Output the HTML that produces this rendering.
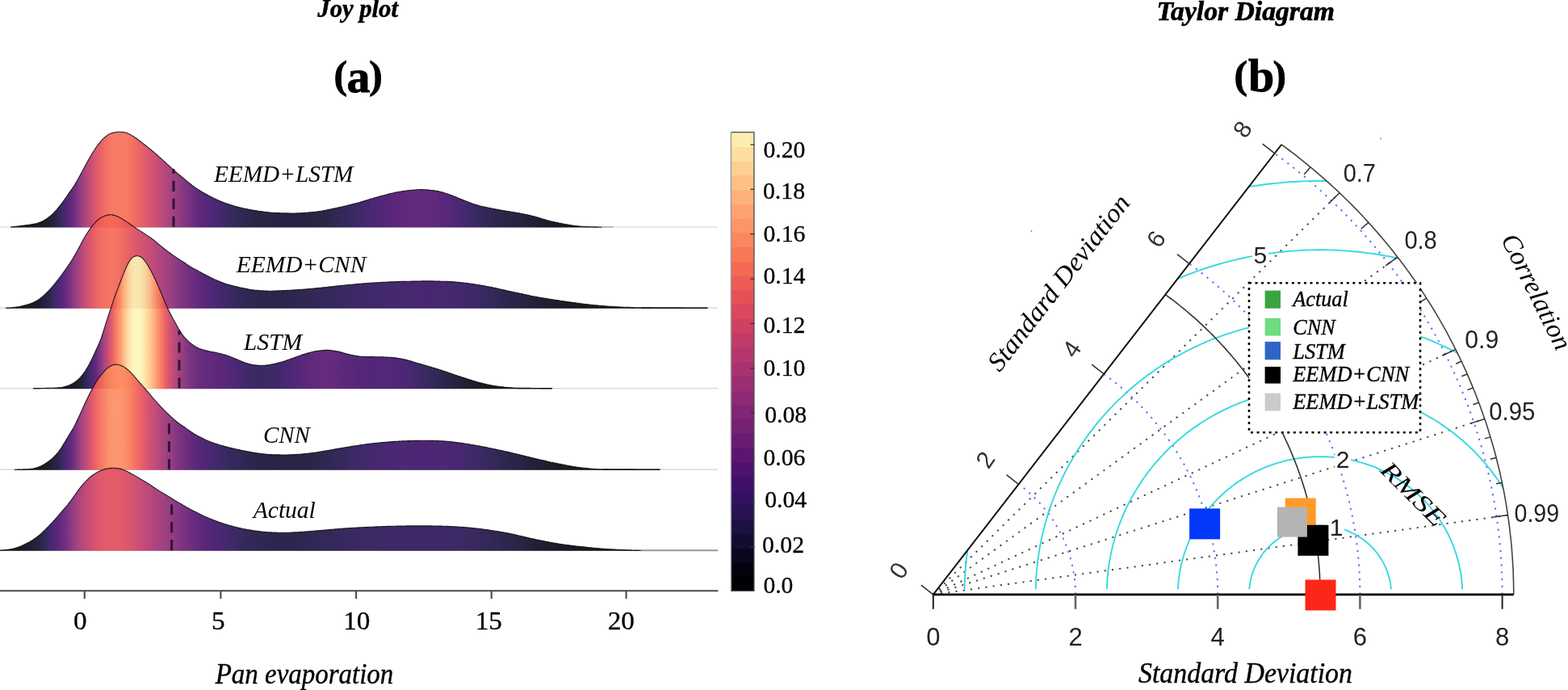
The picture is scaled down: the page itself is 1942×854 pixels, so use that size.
<!DOCTYPE html>
<html lang="en">
<head>
<meta charset="utf-8">
<title>Joy plot and Taylor Diagram</title>
<style>
html,body{margin:0;padding:0;background:#fff;}
body{width:1942px;height:854px;overflow:hidden;}
svg{display:block;}
</style>
</head>
<body>
<svg width="1942" height="854" viewBox="0 0 1942 854">
<defs>
<linearGradient id="g1" gradientUnits="userSpaceOnUse" x1="13.2" y1="0" x2="745.2" y2="0"><stop offset="0.0000" stop-color="#000004"/><stop offset="0.0041" stop-color="#000004"/><stop offset="0.0082" stop-color="#000004"/><stop offset="0.0123" stop-color="#000004"/><stop offset="0.0164" stop-color="#000004"/><stop offset="0.0205" stop-color="#010005"/><stop offset="0.0246" stop-color="#010005"/><stop offset="0.0287" stop-color="#010005"/><stop offset="0.0328" stop-color="#010005"/><stop offset="0.0369" stop-color="#010106"/><stop offset="0.0410" stop-color="#010106"/><stop offset="0.0451" stop-color="#010108"/><stop offset="0.0492" stop-color="#02020b"/><stop offset="0.0533" stop-color="#02020d"/><stop offset="0.0574" stop-color="#040414"/><stop offset="0.0615" stop-color="#060518"/><stop offset="0.0656" stop-color="#090720"/><stop offset="0.0697" stop-color="#0c0926"/><stop offset="0.0738" stop-color="#110c2f"/><stop offset="0.0779" stop-color="#150e38"/><stop offset="0.0820" stop-color="#1d1146"/><stop offset="0.0861" stop-color="#251252"/><stop offset="0.0902" stop-color="#31115f"/><stop offset="0.0943" stop-color="#3d0f68"/><stop offset="0.0984" stop-color="#47106c"/><stop offset="0.1025" stop-color="#51126e"/><stop offset="0.1066" stop-color="#5d1771"/><stop offset="0.1107" stop-color="#6a1c73"/><stop offset="0.1148" stop-color="#792274"/><stop offset="0.1189" stop-color="#892873"/><stop offset="0.1230" stop-color="#992d72"/><stop offset="0.1270" stop-color="#a6316f"/><stop offset="0.1311" stop-color="#b3366c"/><stop offset="0.1352" stop-color="#bf3a69"/><stop offset="0.1393" stop-color="#cc3f63"/><stop offset="0.1434" stop-color="#d6455e"/><stop offset="0.1475" stop-color="#df4a5a"/><stop offset="0.1516" stop-color="#e55056"/><stop offset="0.1557" stop-color="#eb5754"/><stop offset="0.1598" stop-color="#ef5d53"/><stop offset="0.1639" stop-color="#f26253"/><stop offset="0.1680" stop-color="#f46753"/><stop offset="0.1721" stop-color="#f56b54"/><stop offset="0.1762" stop-color="#f66c54"/><stop offset="0.1803" stop-color="#f66c54"/><stop offset="0.1844" stop-color="#f66c54"/><stop offset="0.1885" stop-color="#f66c54"/><stop offset="0.1926" stop-color="#f66c54"/><stop offset="0.1967" stop-color="#f56b54"/><stop offset="0.2008" stop-color="#f46753"/><stop offset="0.2049" stop-color="#f26253"/><stop offset="0.2090" stop-color="#ef5d53"/><stop offset="0.2131" stop-color="#ec5854"/><stop offset="0.2172" stop-color="#e95455"/><stop offset="0.2213" stop-color="#e55056"/><stop offset="0.2254" stop-color="#e04c59"/><stop offset="0.2295" stop-color="#dc485b"/><stop offset="0.2336" stop-color="#d6455e"/><stop offset="0.2377" stop-color="#d24261"/><stop offset="0.2418" stop-color="#cc3f63"/><stop offset="0.2459" stop-color="#c53c66"/><stop offset="0.2500" stop-color="#bf3a69"/><stop offset="0.2541" stop-color="#b8376b"/><stop offset="0.2582" stop-color="#b2356d"/><stop offset="0.2623" stop-color="#ab336e"/><stop offset="0.2664" stop-color="#a53170"/><stop offset="0.2705" stop-color="#9e2f71"/><stop offset="0.2746" stop-color="#982d72"/><stop offset="0.2787" stop-color="#932b72"/><stop offset="0.2828" stop-color="#8b2973"/><stop offset="0.2869" stop-color="#832673"/><stop offset="0.2910" stop-color="#7b2374"/><stop offset="0.2951" stop-color="#752173"/><stop offset="0.2992" stop-color="#6d1d73"/><stop offset="0.3033" stop-color="#671b72"/><stop offset="0.3074" stop-color="#601872"/><stop offset="0.3115" stop-color="#5a1670"/><stop offset="0.3156" stop-color="#54136f"/><stop offset="0.3197" stop-color="#4f126d"/><stop offset="0.3238" stop-color="#4c116d"/><stop offset="0.3279" stop-color="#47106c"/><stop offset="0.3320" stop-color="#440f6b"/><stop offset="0.3361" stop-color="#400f6a"/><stop offset="0.3402" stop-color="#3b0f67"/><stop offset="0.3443" stop-color="#381064"/><stop offset="0.3484" stop-color="#341062"/><stop offset="0.3525" stop-color="#31115f"/><stop offset="0.3566" stop-color="#2d115c"/><stop offset="0.3607" stop-color="#2a1158"/><stop offset="0.3648" stop-color="#271254"/><stop offset="0.3689" stop-color="#241250"/><stop offset="0.3730" stop-color="#22114e"/><stop offset="0.3770" stop-color="#20114a"/><stop offset="0.3811" stop-color="#1e1148"/><stop offset="0.3852" stop-color="#1c1044"/><stop offset="0.3893" stop-color="#1a1042"/><stop offset="0.3934" stop-color="#19103f"/><stop offset="0.3975" stop-color="#180f3d"/><stop offset="0.4016" stop-color="#160f3b"/><stop offset="0.4057" stop-color="#150e38"/><stop offset="0.4098" stop-color="#140e36"/><stop offset="0.4139" stop-color="#130d34"/><stop offset="0.4180" stop-color="#130d34"/><stop offset="0.4221" stop-color="#120d31"/><stop offset="0.4262" stop-color="#120d31"/><stop offset="0.4303" stop-color="#120d31"/><stop offset="0.4344" stop-color="#110c2f"/><stop offset="0.4385" stop-color="#110c2f"/><stop offset="0.4426" stop-color="#110c2f"/><stop offset="0.4467" stop-color="#100b2d"/><stop offset="0.4508" stop-color="#100b2d"/><stop offset="0.4549" stop-color="#100b2d"/><stop offset="0.4590" stop-color="#100b2d"/><stop offset="0.4631" stop-color="#100b2d"/><stop offset="0.4672" stop-color="#100b2d"/><stop offset="0.4713" stop-color="#100b2d"/><stop offset="0.4754" stop-color="#100b2d"/><stop offset="0.4795" stop-color="#100b2d"/><stop offset="0.4836" stop-color="#100b2d"/><stop offset="0.4877" stop-color="#100b2d"/><stop offset="0.4918" stop-color="#100b2d"/><stop offset="0.4959" stop-color="#100b2d"/><stop offset="0.5000" stop-color="#110c2f"/><stop offset="0.5041" stop-color="#110c2f"/><stop offset="0.5082" stop-color="#110c2f"/><stop offset="0.5123" stop-color="#110c2f"/><stop offset="0.5164" stop-color="#120d31"/><stop offset="0.5205" stop-color="#120d31"/><stop offset="0.5246" stop-color="#130d34"/><stop offset="0.5287" stop-color="#130d34"/><stop offset="0.5328" stop-color="#140e36"/><stop offset="0.5369" stop-color="#150e38"/><stop offset="0.5410" stop-color="#160f3b"/><stop offset="0.5451" stop-color="#180f3d"/><stop offset="0.5492" stop-color="#19103f"/><stop offset="0.5533" stop-color="#1a1042"/><stop offset="0.5574" stop-color="#1c1044"/><stop offset="0.5615" stop-color="#1d1146"/><stop offset="0.5656" stop-color="#1e1148"/><stop offset="0.5697" stop-color="#21114c"/><stop offset="0.5738" stop-color="#22114e"/><stop offset="0.5779" stop-color="#241250"/><stop offset="0.5820" stop-color="#251252"/><stop offset="0.5861" stop-color="#291156"/><stop offset="0.5902" stop-color="#2a1158"/><stop offset="0.5943" stop-color="#2d115c"/><stop offset="0.5984" stop-color="#2f115d"/><stop offset="0.6025" stop-color="#331061"/><stop offset="0.6066" stop-color="#341062"/><stop offset="0.6107" stop-color="#381065"/><stop offset="0.6148" stop-color="#390f66"/><stop offset="0.6189" stop-color="#3b0f67"/><stop offset="0.6230" stop-color="#3d0f68"/><stop offset="0.6270" stop-color="#3f0f69"/><stop offset="0.6311" stop-color="#420f6a"/><stop offset="0.6352" stop-color="#440f6b"/><stop offset="0.6393" stop-color="#45106c"/><stop offset="0.6434" stop-color="#47106c"/><stop offset="0.6475" stop-color="#49106c"/><stop offset="0.6516" stop-color="#4a106d"/><stop offset="0.6557" stop-color="#4c116d"/><stop offset="0.6598" stop-color="#4c116d"/><stop offset="0.6639" stop-color="#4e116d"/><stop offset="0.6680" stop-color="#4f126e"/><stop offset="0.6721" stop-color="#4f126d"/><stop offset="0.6762" stop-color="#51126e"/><stop offset="0.6803" stop-color="#51126e"/><stop offset="0.6844" stop-color="#51126e"/><stop offset="0.6885" stop-color="#52136e"/><stop offset="0.6926" stop-color="#52136e"/><stop offset="0.6967" stop-color="#52136e"/><stop offset="0.7008" stop-color="#52136e"/><stop offset="0.7049" stop-color="#51126e"/><stop offset="0.7090" stop-color="#51126e"/><stop offset="0.7131" stop-color="#4f126d"/><stop offset="0.7172" stop-color="#4f126d"/><stop offset="0.7213" stop-color="#4e116d"/><stop offset="0.7254" stop-color="#4c116d"/><stop offset="0.7295" stop-color="#4a106d"/><stop offset="0.7336" stop-color="#49106c"/><stop offset="0.7377" stop-color="#47106c"/><stop offset="0.7418" stop-color="#440f6b"/><stop offset="0.7459" stop-color="#420f6a"/><stop offset="0.7500" stop-color="#3f0f69"/><stop offset="0.7541" stop-color="#3b0f67"/><stop offset="0.7582" stop-color="#381064"/><stop offset="0.7623" stop-color="#361063"/><stop offset="0.7664" stop-color="#331061"/><stop offset="0.7705" stop-color="#2f115d"/><stop offset="0.7746" stop-color="#2c115a"/><stop offset="0.7787" stop-color="#291156"/><stop offset="0.7828" stop-color="#251252"/><stop offset="0.7869" stop-color="#22114e"/><stop offset="0.7910" stop-color="#21114c"/><stop offset="0.7951" stop-color="#20114a"/><stop offset="0.7992" stop-color="#1d1146"/><stop offset="0.8033" stop-color="#1c1044"/><stop offset="0.8074" stop-color="#1a1042"/><stop offset="0.8115" stop-color="#19103f"/><stop offset="0.8156" stop-color="#180f3d"/><stop offset="0.8197" stop-color="#160f3b"/><stop offset="0.8238" stop-color="#150e38"/><stop offset="0.8279" stop-color="#140e36"/><stop offset="0.8320" stop-color="#140e36"/><stop offset="0.8361" stop-color="#130d34"/><stop offset="0.8402" stop-color="#130d34"/><stop offset="0.8443" stop-color="#120d31"/><stop offset="0.8484" stop-color="#120d31"/><stop offset="0.8525" stop-color="#110c2f"/><stop offset="0.8566" stop-color="#100b2d"/><stop offset="0.8607" stop-color="#100b2d"/><stop offset="0.8648" stop-color="#0e0b2b"/><stop offset="0.8689" stop-color="#0d0a29"/><stop offset="0.8730" stop-color="#0c0926"/><stop offset="0.8770" stop-color="#0b0924"/><stop offset="0.8811" stop-color="#0a0822"/><stop offset="0.8852" stop-color="#090720"/><stop offset="0.8893" stop-color="#08071e"/><stop offset="0.8934" stop-color="#07061c"/><stop offset="0.8975" stop-color="#060518"/><stop offset="0.9016" stop-color="#050416"/><stop offset="0.9057" stop-color="#040414"/><stop offset="0.9098" stop-color="#030312"/><stop offset="0.9139" stop-color="#03030f"/><stop offset="0.9180" stop-color="#02020d"/><stop offset="0.9221" stop-color="#02020b"/><stop offset="0.9262" stop-color="#020109"/><stop offset="0.9303" stop-color="#010108"/><stop offset="0.9344" stop-color="#010106"/><stop offset="0.9385" stop-color="#010106"/><stop offset="0.9426" stop-color="#010005"/><stop offset="0.9467" stop-color="#010005"/><stop offset="0.9508" stop-color="#010005"/><stop offset="0.9549" stop-color="#000004"/><stop offset="0.9590" stop-color="#000004"/><stop offset="0.9631" stop-color="#000004"/><stop offset="0.9672" stop-color="#000004"/><stop offset="0.9713" stop-color="#000004"/><stop offset="0.9754" stop-color="#000004"/><stop offset="0.9795" stop-color="#000004"/><stop offset="0.9836" stop-color="#000004"/><stop offset="0.9877" stop-color="#000004"/><stop offset="0.9918" stop-color="#000004"/><stop offset="0.9959" stop-color="#000004"/><stop offset="1.0000" stop-color="#000004"/></linearGradient>
<linearGradient id="g2" gradientUnits="userSpaceOnUse" x1="7.0" y1="0" x2="876.0" y2="0"><stop offset="0.0000" stop-color="#000004"/><stop offset="0.0035" stop-color="#000004"/><stop offset="0.0069" stop-color="#000004"/><stop offset="0.0104" stop-color="#000004"/><stop offset="0.0138" stop-color="#000004"/><stop offset="0.0173" stop-color="#000004"/><stop offset="0.0207" stop-color="#010005"/><stop offset="0.0242" stop-color="#010005"/><stop offset="0.0276" stop-color="#010106"/><stop offset="0.0311" stop-color="#010106"/><stop offset="0.0345" stop-color="#020109"/><stop offset="0.0380" stop-color="#02020b"/><stop offset="0.0414" stop-color="#03030f"/><stop offset="0.0449" stop-color="#050416"/><stop offset="0.0483" stop-color="#06051a"/><stop offset="0.0518" stop-color="#0a0822"/><stop offset="0.0552" stop-color="#0e0b2b"/><stop offset="0.0587" stop-color="#120d31"/><stop offset="0.0621" stop-color="#160f3b"/><stop offset="0.0656" stop-color="#1d1146"/><stop offset="0.0690" stop-color="#251252"/><stop offset="0.0725" stop-color="#31115f"/><stop offset="0.0759" stop-color="#3b0f67"/><stop offset="0.0794" stop-color="#440f6b"/><stop offset="0.0829" stop-color="#4e116d"/><stop offset="0.0863" stop-color="#591570"/><stop offset="0.0898" stop-color="#651a72"/><stop offset="0.0932" stop-color="#721f73"/><stop offset="0.0967" stop-color="#802574"/><stop offset="0.1001" stop-color="#902a73"/><stop offset="0.1036" stop-color="#9c2e71"/><stop offset="0.1070" stop-color="#aa336f"/><stop offset="0.1105" stop-color="#b8376b"/><stop offset="0.1139" stop-color="#c43c67"/><stop offset="0.1174" stop-color="#cf4062"/><stop offset="0.1208" stop-color="#d8455e"/><stop offset="0.1243" stop-color="#e04c59"/><stop offset="0.1277" stop-color="#e75256"/><stop offset="0.1312" stop-color="#eb5754"/><stop offset="0.1346" stop-color="#ef5d53"/><stop offset="0.1381" stop-color="#f16053"/><stop offset="0.1415" stop-color="#f26453"/><stop offset="0.1450" stop-color="#f36553"/><stop offset="0.1484" stop-color="#f46753"/><stop offset="0.1519" stop-color="#f46753"/><stop offset="0.1554" stop-color="#f36553"/><stop offset="0.1588" stop-color="#f26253"/><stop offset="0.1623" stop-color="#f05f53"/><stop offset="0.1657" stop-color="#ee5b53"/><stop offset="0.1692" stop-color="#eb5754"/><stop offset="0.1726" stop-color="#e85355"/><stop offset="0.1761" stop-color="#e44f56"/><stop offset="0.1795" stop-color="#e04c59"/><stop offset="0.1830" stop-color="#dc485b"/><stop offset="0.1864" stop-color="#d8455e"/><stop offset="0.1899" stop-color="#d34360"/><stop offset="0.1933" stop-color="#cf4062"/><stop offset="0.1968" stop-color="#cc3f63"/><stop offset="0.2002" stop-color="#c73d65"/><stop offset="0.2037" stop-color="#c23b67"/><stop offset="0.2071" stop-color="#bd3969"/><stop offset="0.2106" stop-color="#b8376b"/><stop offset="0.2140" stop-color="#b2356d"/><stop offset="0.2175" stop-color="#ab336e"/><stop offset="0.2209" stop-color="#a6316f"/><stop offset="0.2244" stop-color="#a02f71"/><stop offset="0.2278" stop-color="#9b2e71"/><stop offset="0.2313" stop-color="#942c72"/><stop offset="0.2348" stop-color="#902a73"/><stop offset="0.2382" stop-color="#892873"/><stop offset="0.2417" stop-color="#832673"/><stop offset="0.2451" stop-color="#7c2374"/><stop offset="0.2486" stop-color="#762173"/><stop offset="0.2520" stop-color="#721f73"/><stop offset="0.2555" stop-color="#6b1d73"/><stop offset="0.2589" stop-color="#651a72"/><stop offset="0.2624" stop-color="#601872"/><stop offset="0.2658" stop-color="#5c1671"/><stop offset="0.2693" stop-color="#571570"/><stop offset="0.2727" stop-color="#52136e"/><stop offset="0.2762" stop-color="#4f126e"/><stop offset="0.2796" stop-color="#4a106d"/><stop offset="0.2831" stop-color="#47106c"/><stop offset="0.2865" stop-color="#440f6b"/><stop offset="0.2900" stop-color="#400f6a"/><stop offset="0.2934" stop-color="#3d0f68"/><stop offset="0.2969" stop-color="#390f66"/><stop offset="0.3003" stop-color="#361063"/><stop offset="0.3038" stop-color="#331061"/><stop offset="0.3072" stop-color="#2f115d"/><stop offset="0.3107" stop-color="#2c115a"/><stop offset="0.3142" stop-color="#291156"/><stop offset="0.3176" stop-color="#251252"/><stop offset="0.3211" stop-color="#241250"/><stop offset="0.3245" stop-color="#22114e"/><stop offset="0.3280" stop-color="#20114a"/><stop offset="0.3314" stop-color="#1e1148"/><stop offset="0.3349" stop-color="#1d1146"/><stop offset="0.3383" stop-color="#1c1044"/><stop offset="0.3418" stop-color="#1a1042"/><stop offset="0.3452" stop-color="#19103f"/><stop offset="0.3487" stop-color="#180f3d"/><stop offset="0.3521" stop-color="#160f3b"/><stop offset="0.3556" stop-color="#160f3b"/><stop offset="0.3590" stop-color="#150e38"/><stop offset="0.3625" stop-color="#150e38"/><stop offset="0.3659" stop-color="#150e38"/><stop offset="0.3694" stop-color="#140e36"/><stop offset="0.3728" stop-color="#140e36"/><stop offset="0.3763" stop-color="#140e36"/><stop offset="0.3797" stop-color="#140e36"/><stop offset="0.3832" stop-color="#140e36"/><stop offset="0.3867" stop-color="#150e38"/><stop offset="0.3901" stop-color="#150e38"/><stop offset="0.3936" stop-color="#150e38"/><stop offset="0.3970" stop-color="#150e38"/><stop offset="0.4005" stop-color="#150e38"/><stop offset="0.4039" stop-color="#160f3b"/><stop offset="0.4074" stop-color="#160f3b"/><stop offset="0.4108" stop-color="#160f3b"/><stop offset="0.4143" stop-color="#180f3d"/><stop offset="0.4177" stop-color="#180f3d"/><stop offset="0.4212" stop-color="#180f3d"/><stop offset="0.4246" stop-color="#19103f"/><stop offset="0.4281" stop-color="#19103f"/><stop offset="0.4315" stop-color="#19103f"/><stop offset="0.4350" stop-color="#1a1042"/><stop offset="0.4384" stop-color="#1a1042"/><stop offset="0.4419" stop-color="#1c1044"/><stop offset="0.4453" stop-color="#1c1044"/><stop offset="0.4488" stop-color="#1d1146"/><stop offset="0.4522" stop-color="#1d1146"/><stop offset="0.4557" stop-color="#1e1148"/><stop offset="0.4591" stop-color="#1e1148"/><stop offset="0.4626" stop-color="#20114a"/><stop offset="0.4661" stop-color="#21114c"/><stop offset="0.4695" stop-color="#21114c"/><stop offset="0.4730" stop-color="#22114e"/><stop offset="0.4764" stop-color="#22114e"/><stop offset="0.4799" stop-color="#241250"/><stop offset="0.4833" stop-color="#241250"/><stop offset="0.4868" stop-color="#251252"/><stop offset="0.4902" stop-color="#251252"/><stop offset="0.4937" stop-color="#271254"/><stop offset="0.4971" stop-color="#271254"/><stop offset="0.5006" stop-color="#291156"/><stop offset="0.5040" stop-color="#291156"/><stop offset="0.5075" stop-color="#291156"/><stop offset="0.5109" stop-color="#2a1158"/><stop offset="0.5144" stop-color="#2a1158"/><stop offset="0.5178" stop-color="#2c115a"/><stop offset="0.5213" stop-color="#2c115a"/><stop offset="0.5247" stop-color="#2c1159"/><stop offset="0.5282" stop-color="#2d115c"/><stop offset="0.5316" stop-color="#2d115b"/><stop offset="0.5351" stop-color="#2d115b"/><stop offset="0.5386" stop-color="#2d115b"/><stop offset="0.5420" stop-color="#2f115d"/><stop offset="0.5455" stop-color="#2f115d"/><stop offset="0.5489" stop-color="#2f115d"/><stop offset="0.5524" stop-color="#2f115d"/><stop offset="0.5558" stop-color="#31115f"/><stop offset="0.5593" stop-color="#31115f"/><stop offset="0.5627" stop-color="#31115f"/><stop offset="0.5662" stop-color="#31115f"/><stop offset="0.5696" stop-color="#31115f"/><stop offset="0.5731" stop-color="#31115f"/><stop offset="0.5765" stop-color="#31115f"/><stop offset="0.5800" stop-color="#31115f"/><stop offset="0.5834" stop-color="#331061"/><stop offset="0.5869" stop-color="#331061"/><stop offset="0.5903" stop-color="#331061"/><stop offset="0.5938" stop-color="#331061"/><stop offset="0.5972" stop-color="#331060"/><stop offset="0.6007" stop-color="#331060"/><stop offset="0.6041" stop-color="#331060"/><stop offset="0.6076" stop-color="#331060"/><stop offset="0.6110" stop-color="#331061"/><stop offset="0.6145" stop-color="#331061"/><stop offset="0.6180" stop-color="#31115f"/><stop offset="0.6214" stop-color="#31115f"/><stop offset="0.6249" stop-color="#31115f"/><stop offset="0.6283" stop-color="#31115f"/><stop offset="0.6318" stop-color="#31115f"/><stop offset="0.6352" stop-color="#31115f"/><stop offset="0.6387" stop-color="#2f115d"/><stop offset="0.6421" stop-color="#2f115d"/><stop offset="0.6456" stop-color="#2d115b"/><stop offset="0.6490" stop-color="#2d115b"/><stop offset="0.6525" stop-color="#2c115a"/><stop offset="0.6559" stop-color="#2c115a"/><stop offset="0.6594" stop-color="#2a1158"/><stop offset="0.6628" stop-color="#291156"/><stop offset="0.6663" stop-color="#291156"/><stop offset="0.6697" stop-color="#271254"/><stop offset="0.6732" stop-color="#251252"/><stop offset="0.6766" stop-color="#241250"/><stop offset="0.6801" stop-color="#22114e"/><stop offset="0.6835" stop-color="#21114c"/><stop offset="0.6870" stop-color="#20114a"/><stop offset="0.6904" stop-color="#1e1148"/><stop offset="0.6939" stop-color="#1d1146"/><stop offset="0.6974" stop-color="#1c1044"/><stop offset="0.7008" stop-color="#1a1042"/><stop offset="0.7043" stop-color="#19103f"/><stop offset="0.7077" stop-color="#180f3d"/><stop offset="0.7112" stop-color="#160f3b"/><stop offset="0.7146" stop-color="#150e38"/><stop offset="0.7181" stop-color="#140e36"/><stop offset="0.7215" stop-color="#130d34"/><stop offset="0.7250" stop-color="#120d31"/><stop offset="0.7284" stop-color="#120d31"/><stop offset="0.7319" stop-color="#110c2f"/><stop offset="0.7353" stop-color="#100b2d"/><stop offset="0.7388" stop-color="#100b2d"/><stop offset="0.7422" stop-color="#0e0b2b"/><stop offset="0.7457" stop-color="#0d0a29"/><stop offset="0.7491" stop-color="#0c0926"/><stop offset="0.7526" stop-color="#0b0924"/><stop offset="0.7560" stop-color="#0a0822"/><stop offset="0.7595" stop-color="#090720"/><stop offset="0.7629" stop-color="#090720"/><stop offset="0.7664" stop-color="#08071e"/><stop offset="0.7699" stop-color="#07061c"/><stop offset="0.7733" stop-color="#07061c"/><stop offset="0.7768" stop-color="#06051a"/><stop offset="0.7802" stop-color="#060518"/><stop offset="0.7837" stop-color="#060518"/><stop offset="0.7871" stop-color="#050416"/><stop offset="0.7906" stop-color="#040414"/><stop offset="0.7940" stop-color="#040414"/><stop offset="0.7975" stop-color="#030312"/><stop offset="0.8009" stop-color="#03030f"/><stop offset="0.8044" stop-color="#03030f"/><stop offset="0.8078" stop-color="#02020d"/><stop offset="0.8113" stop-color="#02020d"/><stop offset="0.8147" stop-color="#02020b"/><stop offset="0.8182" stop-color="#020109"/><stop offset="0.8216" stop-color="#020109"/><stop offset="0.8251" stop-color="#010108"/><stop offset="0.8285" stop-color="#010108"/><stop offset="0.8320" stop-color="#010106"/><stop offset="0.8354" stop-color="#010106"/><stop offset="0.8389" stop-color="#010106"/><stop offset="0.8423" stop-color="#010106"/><stop offset="0.8458" stop-color="#010005"/><stop offset="0.8493" stop-color="#010005"/><stop offset="0.8527" stop-color="#010005"/><stop offset="0.8562" stop-color="#010005"/><stop offset="0.8596" stop-color="#010005"/><stop offset="0.8631" stop-color="#010005"/><stop offset="0.8665" stop-color="#010005"/><stop offset="0.8700" stop-color="#000004"/><stop offset="0.8734" stop-color="#000004"/><stop offset="0.8769" stop-color="#000004"/><stop offset="0.8803" stop-color="#000004"/><stop offset="0.8838" stop-color="#000004"/><stop offset="0.8872" stop-color="#000004"/><stop offset="0.8907" stop-color="#000004"/><stop offset="0.8941" stop-color="#000004"/><stop offset="0.8976" stop-color="#000004"/><stop offset="0.9010" stop-color="#000004"/><stop offset="0.9045" stop-color="#000004"/><stop offset="0.9079" stop-color="#000004"/><stop offset="0.9114" stop-color="#000004"/><stop offset="0.9148" stop-color="#000004"/><stop offset="0.9183" stop-color="#000004"/><stop offset="0.9217" stop-color="#000004"/><stop offset="0.9252" stop-color="#000004"/><stop offset="0.9287" stop-color="#000004"/><stop offset="0.9321" stop-color="#000004"/><stop offset="0.9356" stop-color="#000004"/><stop offset="0.9390" stop-color="#000004"/><stop offset="0.9425" stop-color="#000004"/><stop offset="0.9459" stop-color="#000004"/><stop offset="0.9494" stop-color="#000004"/><stop offset="0.9528" stop-color="#000004"/><stop offset="0.9563" stop-color="#000004"/><stop offset="0.9597" stop-color="#000004"/><stop offset="0.9632" stop-color="#000004"/><stop offset="0.9666" stop-color="#000004"/><stop offset="0.9701" stop-color="#000004"/><stop offset="0.9735" stop-color="#000004"/><stop offset="0.9770" stop-color="#000004"/><stop offset="0.9804" stop-color="#000004"/><stop offset="0.9839" stop-color="#000004"/><stop offset="0.9873" stop-color="#000004"/><stop offset="0.9908" stop-color="#000004"/><stop offset="0.9942" stop-color="#000004"/><stop offset="0.9977" stop-color="#000004"/><stop offset="1.0000" stop-color="#000004"/></linearGradient>
<linearGradient id="g3" gradientUnits="userSpaceOnUse" x1="41.0" y1="0" x2="684.0" y2="0"><stop offset="0.0000" stop-color="#000004"/><stop offset="0.0047" stop-color="#000004"/><stop offset="0.0093" stop-color="#000004"/><stop offset="0.0140" stop-color="#000004"/><stop offset="0.0187" stop-color="#000004"/><stop offset="0.0233" stop-color="#000004"/><stop offset="0.0280" stop-color="#000004"/><stop offset="0.0327" stop-color="#000004"/><stop offset="0.0373" stop-color="#000004"/><stop offset="0.0420" stop-color="#000004"/><stop offset="0.0467" stop-color="#000004"/><stop offset="0.0513" stop-color="#000004"/><stop offset="0.0560" stop-color="#000004"/><stop offset="0.0607" stop-color="#010005"/><stop offset="0.0653" stop-color="#010005"/><stop offset="0.0700" stop-color="#010106"/><stop offset="0.0747" stop-color="#020109"/><stop offset="0.0793" stop-color="#02020d"/><stop offset="0.0840" stop-color="#050416"/><stop offset="0.0886" stop-color="#08071e"/><stop offset="0.0933" stop-color="#0c0926"/><stop offset="0.0980" stop-color="#120d31"/><stop offset="0.1026" stop-color="#1a1042"/><stop offset="0.1073" stop-color="#251252"/><stop offset="0.1120" stop-color="#361063"/><stop offset="0.1166" stop-color="#45106c"/><stop offset="0.1213" stop-color="#54136f"/><stop offset="0.1260" stop-color="#671b72"/><stop offset="0.1306" stop-color="#7b2374"/><stop offset="0.1353" stop-color="#962c72"/><stop offset="0.1400" stop-color="#ad346e"/><stop offset="0.1446" stop-color="#c43c67"/><stop offset="0.1493" stop-color="#d8455e"/><stop offset="0.1540" stop-color="#e95455"/><stop offset="0.1586" stop-color="#f46953"/><stop offset="0.1633" stop-color="#fa7d59"/><stop offset="0.1680" stop-color="#fc9064"/><stop offset="0.1726" stop-color="#feaa74"/><stop offset="0.1773" stop-color="#fec185"/><stop offset="0.1820" stop-color="#fed597"/><stop offset="0.1866" stop-color="#fde5a7"/><stop offset="0.1913" stop-color="#fcf0b2"/><stop offset="0.1960" stop-color="#fcf6b8"/><stop offset="0.2006" stop-color="#fcf6b8"/><stop offset="0.2053" stop-color="#fcf4b6"/><stop offset="0.2100" stop-color="#fceeb0"/><stop offset="0.2146" stop-color="#fde5a7"/><stop offset="0.2193" stop-color="#fed799"/><stop offset="0.2240" stop-color="#fec88c"/><stop offset="0.2286" stop-color="#feb77e"/><stop offset="0.2333" stop-color="#fea571"/><stop offset="0.2379" stop-color="#fc9064"/><stop offset="0.2426" stop-color="#fa7d59"/><stop offset="0.2473" stop-color="#f66c54"/><stop offset="0.2519" stop-color="#ed5a54"/><stop offset="0.2566" stop-color="#e04c59"/><stop offset="0.2613" stop-color="#d34360"/><stop offset="0.2659" stop-color="#c73d65"/><stop offset="0.2706" stop-color="#b8376b"/><stop offset="0.2753" stop-color="#ab336e"/><stop offset="0.2799" stop-color="#9e2f71"/><stop offset="0.2846" stop-color="#932b72"/><stop offset="0.2893" stop-color="#882773"/><stop offset="0.2939" stop-color="#7c2374"/><stop offset="0.2986" stop-color="#732073"/><stop offset="0.3033" stop-color="#6b1d73"/><stop offset="0.3079" stop-color="#671b72"/><stop offset="0.3126" stop-color="#601872"/><stop offset="0.3173" stop-color="#5c1671"/><stop offset="0.3219" stop-color="#591570"/><stop offset="0.3266" stop-color="#56146f"/><stop offset="0.3313" stop-color="#54136f"/><stop offset="0.3359" stop-color="#52136e"/><stop offset="0.3406" stop-color="#51126e"/><stop offset="0.3453" stop-color="#4f126e"/><stop offset="0.3499" stop-color="#4e116d"/><stop offset="0.3546" stop-color="#4c116d"/><stop offset="0.3593" stop-color="#4a106d"/><stop offset="0.3639" stop-color="#49106c"/><stop offset="0.3686" stop-color="#47106c"/><stop offset="0.3733" stop-color="#45106c"/><stop offset="0.3779" stop-color="#420f6a"/><stop offset="0.3826" stop-color="#3f0f69"/><stop offset="0.3872" stop-color="#3d0f68"/><stop offset="0.3919" stop-color="#390f66"/><stop offset="0.3966" stop-color="#361063"/><stop offset="0.4012" stop-color="#331060"/><stop offset="0.4059" stop-color="#2f115d"/><stop offset="0.4106" stop-color="#2c1159"/><stop offset="0.4152" stop-color="#2a1158"/><stop offset="0.4199" stop-color="#271254"/><stop offset="0.4246" stop-color="#251252"/><stop offset="0.4292" stop-color="#251252"/><stop offset="0.4339" stop-color="#251252"/><stop offset="0.4386" stop-color="#241250"/><stop offset="0.4432" stop-color="#241250"/><stop offset="0.4479" stop-color="#251252"/><stop offset="0.4526" stop-color="#251252"/><stop offset="0.4572" stop-color="#271254"/><stop offset="0.4619" stop-color="#291156"/><stop offset="0.4666" stop-color="#2a1158"/><stop offset="0.4712" stop-color="#2c1159"/><stop offset="0.4759" stop-color="#2f115d"/><stop offset="0.4806" stop-color="#31115f"/><stop offset="0.4852" stop-color="#341062"/><stop offset="0.4899" stop-color="#381065"/><stop offset="0.4946" stop-color="#390f66"/><stop offset="0.4992" stop-color="#3b0f67"/><stop offset="0.5039" stop-color="#3f0f69"/><stop offset="0.5086" stop-color="#420f6a"/><stop offset="0.5132" stop-color="#440f6b"/><stop offset="0.5179" stop-color="#47106c"/><stop offset="0.5226" stop-color="#49106c"/><stop offset="0.5272" stop-color="#4a106d"/><stop offset="0.5319" stop-color="#4c116d"/><stop offset="0.5365" stop-color="#4f126e"/><stop offset="0.5412" stop-color="#51126e"/><stop offset="0.5459" stop-color="#51126e"/><stop offset="0.5505" stop-color="#52136e"/><stop offset="0.5552" stop-color="#54136f"/><stop offset="0.5599" stop-color="#54136f"/><stop offset="0.5645" stop-color="#54136f"/><stop offset="0.5692" stop-color="#54136f"/><stop offset="0.5739" stop-color="#54136f"/><stop offset="0.5785" stop-color="#52136e"/><stop offset="0.5832" stop-color="#51126e"/><stop offset="0.5879" stop-color="#4f126d"/><stop offset="0.5925" stop-color="#4e116d"/><stop offset="0.5972" stop-color="#4c116d"/><stop offset="0.6019" stop-color="#4a106d"/><stop offset="0.6065" stop-color="#49106c"/><stop offset="0.6112" stop-color="#47106c"/><stop offset="0.6159" stop-color="#45106c"/><stop offset="0.6205" stop-color="#440f6b"/><stop offset="0.6252" stop-color="#420f6a"/><stop offset="0.6299" stop-color="#420f6a"/><stop offset="0.6345" stop-color="#420f6a"/><stop offset="0.6392" stop-color="#400f69"/><stop offset="0.6439" stop-color="#400f69"/><stop offset="0.6485" stop-color="#400f69"/><stop offset="0.6532" stop-color="#400f69"/><stop offset="0.6579" stop-color="#400f6a"/><stop offset="0.6625" stop-color="#400f6a"/><stop offset="0.6672" stop-color="#400f6a"/><stop offset="0.6719" stop-color="#400f6a"/><stop offset="0.6765" stop-color="#400f6a"/><stop offset="0.6812" stop-color="#400f6a"/><stop offset="0.6858" stop-color="#3f0f69"/><stop offset="0.6905" stop-color="#3f0f69"/><stop offset="0.6952" stop-color="#3f0f69"/><stop offset="0.6998" stop-color="#3d0f68"/><stop offset="0.7045" stop-color="#3b0f67"/><stop offset="0.7092" stop-color="#3b0f67"/><stop offset="0.7138" stop-color="#390f66"/><stop offset="0.7185" stop-color="#381065"/><stop offset="0.7232" stop-color="#361063"/><stop offset="0.7278" stop-color="#331060"/><stop offset="0.7325" stop-color="#31115f"/><stop offset="0.7372" stop-color="#2d115b"/><stop offset="0.7418" stop-color="#2c115a"/><stop offset="0.7465" stop-color="#291156"/><stop offset="0.7512" stop-color="#271254"/><stop offset="0.7558" stop-color="#241250"/><stop offset="0.7605" stop-color="#22114e"/><stop offset="0.7652" stop-color="#20114a"/><stop offset="0.7698" stop-color="#1e1148"/><stop offset="0.7745" stop-color="#1c1044"/><stop offset="0.7792" stop-color="#1a1042"/><stop offset="0.7838" stop-color="#180f3d"/><stop offset="0.7885" stop-color="#160f3b"/><stop offset="0.7932" stop-color="#140e36"/><stop offset="0.7978" stop-color="#130d34"/><stop offset="0.8025" stop-color="#120d31"/><stop offset="0.8072" stop-color="#110c2f"/><stop offset="0.8118" stop-color="#0e0b2b"/><stop offset="0.8165" stop-color="#0d0a29"/><stop offset="0.8212" stop-color="#0c0926"/><stop offset="0.8258" stop-color="#0a0822"/><stop offset="0.8305" stop-color="#090720"/><stop offset="0.8351" stop-color="#07061c"/><stop offset="0.8398" stop-color="#06051a"/><stop offset="0.8445" stop-color="#060518"/><stop offset="0.8491" stop-color="#040414"/><stop offset="0.8538" stop-color="#030312"/><stop offset="0.8585" stop-color="#03030f"/><stop offset="0.8631" stop-color="#02020d"/><stop offset="0.8678" stop-color="#02020b"/><stop offset="0.8725" stop-color="#020109"/><stop offset="0.8771" stop-color="#010108"/><stop offset="0.8818" stop-color="#010106"/><stop offset="0.8865" stop-color="#010106"/><stop offset="0.8911" stop-color="#010005"/><stop offset="0.8958" stop-color="#010005"/><stop offset="0.9005" stop-color="#010005"/><stop offset="0.9051" stop-color="#010005"/><stop offset="0.9098" stop-color="#000004"/><stop offset="0.9145" stop-color="#000004"/><stop offset="0.9191" stop-color="#000004"/><stop offset="0.9238" stop-color="#000004"/><stop offset="0.9285" stop-color="#000004"/><stop offset="0.9331" stop-color="#000004"/><stop offset="0.9378" stop-color="#000004"/><stop offset="0.9425" stop-color="#000004"/><stop offset="0.9471" stop-color="#000004"/><stop offset="0.9518" stop-color="#000004"/><stop offset="0.9565" stop-color="#000004"/><stop offset="0.9611" stop-color="#000004"/><stop offset="0.9658" stop-color="#000004"/><stop offset="0.9705" stop-color="#000004"/><stop offset="0.9751" stop-color="#000004"/><stop offset="0.9798" stop-color="#000004"/><stop offset="0.9844" stop-color="#000004"/><stop offset="0.9891" stop-color="#000004"/><stop offset="0.9938" stop-color="#000004"/><stop offset="0.9984" stop-color="#000004"/><stop offset="1.0000" stop-color="#000004"/></linearGradient>
<linearGradient id="g4" gradientUnits="userSpaceOnUse" x1="17.9" y1="0" x2="816.9" y2="0"><stop offset="0.0000" stop-color="#000004"/><stop offset="0.0038" stop-color="#000004"/><stop offset="0.0075" stop-color="#000004"/><stop offset="0.0113" stop-color="#000004"/><stop offset="0.0150" stop-color="#000004"/><stop offset="0.0188" stop-color="#000004"/><stop offset="0.0225" stop-color="#000004"/><stop offset="0.0263" stop-color="#000004"/><stop offset="0.0300" stop-color="#000004"/><stop offset="0.0338" stop-color="#010005"/><stop offset="0.0375" stop-color="#010106"/><stop offset="0.0413" stop-color="#010108"/><stop offset="0.0451" stop-color="#02020b"/><stop offset="0.0488" stop-color="#030312"/><stop offset="0.0526" stop-color="#060518"/><stop offset="0.0563" stop-color="#08071e"/><stop offset="0.0601" stop-color="#0c0926"/><stop offset="0.0638" stop-color="#110c2f"/><stop offset="0.0676" stop-color="#150e38"/><stop offset="0.0713" stop-color="#1e1148"/><stop offset="0.0751" stop-color="#291156"/><stop offset="0.0788" stop-color="#361063"/><stop offset="0.0826" stop-color="#440f6b"/><stop offset="0.0864" stop-color="#4f126e"/><stop offset="0.0901" stop-color="#5c1671"/><stop offset="0.0939" stop-color="#6a1c73"/><stop offset="0.0976" stop-color="#7c2374"/><stop offset="0.1014" stop-color="#902a73"/><stop offset="0.1051" stop-color="#a02f71"/><stop offset="0.1089" stop-color="#b0356d"/><stop offset="0.1126" stop-color="#bf3a69"/><stop offset="0.1164" stop-color="#cd4063"/><stop offset="0.1202" stop-color="#d9465d"/><stop offset="0.1239" stop-color="#e55056"/><stop offset="0.1277" stop-color="#ed5a54"/><stop offset="0.1314" stop-color="#f26453"/><stop offset="0.1352" stop-color="#f66c54"/><stop offset="0.1389" stop-color="#f87657"/><stop offset="0.1427" stop-color="#fa7f5a"/><stop offset="0.1464" stop-color="#fb855d"/><stop offset="0.1502" stop-color="#fc895f"/><stop offset="0.1539" stop-color="#fc8c61"/><stop offset="0.1577" stop-color="#fc8c61"/><stop offset="0.1615" stop-color="#fc8c61"/><stop offset="0.1652" stop-color="#fc8a60"/><stop offset="0.1690" stop-color="#fb875e"/><stop offset="0.1727" stop-color="#fa815b"/><stop offset="0.1765" stop-color="#f97b58"/><stop offset="0.1802" stop-color="#f87456"/><stop offset="0.1840" stop-color="#f56b54"/><stop offset="0.1877" stop-color="#f26253"/><stop offset="0.1915" stop-color="#ed5a54"/><stop offset="0.1952" stop-color="#e85355"/><stop offset="0.1990" stop-color="#e24d58"/><stop offset="0.2028" stop-color="#db475c"/><stop offset="0.2065" stop-color="#d34360"/><stop offset="0.2103" stop-color="#cc3f63"/><stop offset="0.2140" stop-color="#c43c67"/><stop offset="0.2178" stop-color="#bc396a"/><stop offset="0.2215" stop-color="#b3366c"/><stop offset="0.2253" stop-color="#ab336e"/><stop offset="0.2290" stop-color="#a33070"/><stop offset="0.2328" stop-color="#9c2e71"/><stop offset="0.2365" stop-color="#942c72"/><stop offset="0.2403" stop-color="#8e2a73"/><stop offset="0.2441" stop-color="#862773"/><stop offset="0.2478" stop-color="#7c2374"/><stop offset="0.2516" stop-color="#762173"/><stop offset="0.2553" stop-color="#6e1e73"/><stop offset="0.2591" stop-color="#6a1c73"/><stop offset="0.2628" stop-color="#641a72"/><stop offset="0.2666" stop-color="#5d1771"/><stop offset="0.2703" stop-color="#591570"/><stop offset="0.2741" stop-color="#52136e"/><stop offset="0.2778" stop-color="#4e116d"/><stop offset="0.2816" stop-color="#4a106d"/><stop offset="0.2854" stop-color="#45106b"/><stop offset="0.2891" stop-color="#420f6a"/><stop offset="0.2929" stop-color="#3f0f69"/><stop offset="0.2966" stop-color="#3b0f67"/><stop offset="0.3004" stop-color="#381065"/><stop offset="0.3041" stop-color="#341062"/><stop offset="0.3079" stop-color="#31115f"/><stop offset="0.3116" stop-color="#2f115d"/><stop offset="0.3154" stop-color="#2c115a"/><stop offset="0.3191" stop-color="#2a1158"/><stop offset="0.3229" stop-color="#271254"/><stop offset="0.3267" stop-color="#251252"/><stop offset="0.3304" stop-color="#22114e"/><stop offset="0.3342" stop-color="#21114c"/><stop offset="0.3379" stop-color="#20114a"/><stop offset="0.3417" stop-color="#1e1148"/><stop offset="0.3454" stop-color="#1d1146"/><stop offset="0.3492" stop-color="#1c1044"/><stop offset="0.3529" stop-color="#1a1042"/><stop offset="0.3567" stop-color="#19103f"/><stop offset="0.3605" stop-color="#180f3d"/><stop offset="0.3642" stop-color="#160f3b"/><stop offset="0.3680" stop-color="#150e38"/><stop offset="0.3717" stop-color="#140e36"/><stop offset="0.3755" stop-color="#140e36"/><stop offset="0.3792" stop-color="#130d34"/><stop offset="0.3830" stop-color="#130d34"/><stop offset="0.3867" stop-color="#120d31"/><stop offset="0.3905" stop-color="#120d31"/><stop offset="0.3942" stop-color="#120d31"/><stop offset="0.3980" stop-color="#110c2f"/><stop offset="0.4018" stop-color="#110c2f"/><stop offset="0.4055" stop-color="#110c2f"/><stop offset="0.4093" stop-color="#110c2f"/><stop offset="0.4130" stop-color="#110c2f"/><stop offset="0.4168" stop-color="#110c2f"/><stop offset="0.4205" stop-color="#110c2f"/><stop offset="0.4243" stop-color="#110c2f"/><stop offset="0.4280" stop-color="#110c2f"/><stop offset="0.4318" stop-color="#110c2f"/><stop offset="0.4355" stop-color="#120d31"/><stop offset="0.4393" stop-color="#120d31"/><stop offset="0.4431" stop-color="#120d31"/><stop offset="0.4468" stop-color="#120d31"/><stop offset="0.4506" stop-color="#130d34"/><stop offset="0.4543" stop-color="#130d34"/><stop offset="0.4581" stop-color="#130d34"/><stop offset="0.4618" stop-color="#140e36"/><stop offset="0.4656" stop-color="#140e36"/><stop offset="0.4693" stop-color="#150e38"/><stop offset="0.4731" stop-color="#160f3b"/><stop offset="0.4768" stop-color="#180f3d"/><stop offset="0.4806" stop-color="#180f3d"/><stop offset="0.4844" stop-color="#19103f"/><stop offset="0.4881" stop-color="#1a1042"/><stop offset="0.4919" stop-color="#1c1044"/><stop offset="0.4956" stop-color="#1d1146"/><stop offset="0.4994" stop-color="#1e1148"/><stop offset="0.5031" stop-color="#20114a"/><stop offset="0.5069" stop-color="#21114c"/><stop offset="0.5106" stop-color="#21114c"/><stop offset="0.5144" stop-color="#22114e"/><stop offset="0.5181" stop-color="#241250"/><stop offset="0.5219" stop-color="#251252"/><stop offset="0.5257" stop-color="#271254"/><stop offset="0.5294" stop-color="#271254"/><stop offset="0.5332" stop-color="#291156"/><stop offset="0.5369" stop-color="#2a1158"/><stop offset="0.5407" stop-color="#2c115a"/><stop offset="0.5444" stop-color="#2c1159"/><stop offset="0.5482" stop-color="#2d115b"/><stop offset="0.5519" stop-color="#2f115d"/><stop offset="0.5557" stop-color="#2f115d"/><stop offset="0.5594" stop-color="#31115f"/><stop offset="0.5632" stop-color="#31115f"/><stop offset="0.5670" stop-color="#331060"/><stop offset="0.5707" stop-color="#331060"/><stop offset="0.5745" stop-color="#341062"/><stop offset="0.5782" stop-color="#341062"/><stop offset="0.5820" stop-color="#361063"/><stop offset="0.5857" stop-color="#361063"/><stop offset="0.5895" stop-color="#361063"/><stop offset="0.5932" stop-color="#381065"/><stop offset="0.5970" stop-color="#381065"/><stop offset="0.6008" stop-color="#381065"/><stop offset="0.6045" stop-color="#381065"/><stop offset="0.6083" stop-color="#381064"/><stop offset="0.6120" stop-color="#381064"/><stop offset="0.6158" stop-color="#390f66"/><stop offset="0.6195" stop-color="#390f66"/><stop offset="0.6233" stop-color="#390f66"/><stop offset="0.6270" stop-color="#390f66"/><stop offset="0.6308" stop-color="#390f66"/><stop offset="0.6345" stop-color="#390f66"/><stop offset="0.6383" stop-color="#390f66"/><stop offset="0.6421" stop-color="#390f66"/><stop offset="0.6458" stop-color="#390f66"/><stop offset="0.6496" stop-color="#390f66"/><stop offset="0.6533" stop-color="#390f66"/><stop offset="0.6571" stop-color="#381064"/><stop offset="0.6608" stop-color="#381064"/><stop offset="0.6646" stop-color="#381065"/><stop offset="0.6683" stop-color="#381065"/><stop offset="0.6721" stop-color="#361063"/><stop offset="0.6758" stop-color="#361063"/><stop offset="0.6796" stop-color="#341062"/><stop offset="0.6834" stop-color="#341062"/><stop offset="0.6871" stop-color="#331060"/><stop offset="0.6909" stop-color="#31115f"/><stop offset="0.6946" stop-color="#31115f"/><stop offset="0.6984" stop-color="#2f115d"/><stop offset="0.7021" stop-color="#2d115b"/><stop offset="0.7059" stop-color="#2c1159"/><stop offset="0.7096" stop-color="#2a1158"/><stop offset="0.7134" stop-color="#2a1158"/><stop offset="0.7171" stop-color="#291156"/><stop offset="0.7209" stop-color="#271254"/><stop offset="0.7247" stop-color="#251252"/><stop offset="0.7284" stop-color="#241250"/><stop offset="0.7322" stop-color="#22114e"/><stop offset="0.7359" stop-color="#21114c"/><stop offset="0.7397" stop-color="#20114a"/><stop offset="0.7434" stop-color="#1e1148"/><stop offset="0.7472" stop-color="#1d1146"/><stop offset="0.7509" stop-color="#1a1042"/><stop offset="0.7547" stop-color="#19103f"/><stop offset="0.7584" stop-color="#180f3d"/><stop offset="0.7622" stop-color="#160f3b"/><stop offset="0.7660" stop-color="#150e38"/><stop offset="0.7697" stop-color="#140e36"/><stop offset="0.7735" stop-color="#130d34"/><stop offset="0.7772" stop-color="#120d31"/><stop offset="0.7810" stop-color="#120d31"/><stop offset="0.7847" stop-color="#110c2f"/><stop offset="0.7885" stop-color="#100b2d"/><stop offset="0.7922" stop-color="#0e0b2b"/><stop offset="0.7960" stop-color="#0d0a29"/><stop offset="0.7997" stop-color="#0c0926"/><stop offset="0.8035" stop-color="#0b0924"/><stop offset="0.8073" stop-color="#0a0822"/><stop offset="0.8110" stop-color="#090720"/><stop offset="0.8148" stop-color="#08071e"/><stop offset="0.8185" stop-color="#07061c"/><stop offset="0.8223" stop-color="#06051a"/><stop offset="0.8260" stop-color="#060518"/><stop offset="0.8298" stop-color="#050416"/><stop offset="0.8335" stop-color="#040414"/><stop offset="0.8373" stop-color="#030312"/><stop offset="0.8411" stop-color="#03030f"/><stop offset="0.8448" stop-color="#02020d"/><stop offset="0.8486" stop-color="#02020b"/><stop offset="0.8523" stop-color="#02020b"/><stop offset="0.8561" stop-color="#020109"/><stop offset="0.8598" stop-color="#010108"/><stop offset="0.8636" stop-color="#010106"/><stop offset="0.8673" stop-color="#010106"/><stop offset="0.8711" stop-color="#010106"/><stop offset="0.8748" stop-color="#010005"/><stop offset="0.8786" stop-color="#010005"/><stop offset="0.8824" stop-color="#010005"/><stop offset="0.8861" stop-color="#010005"/><stop offset="0.8899" stop-color="#000004"/><stop offset="0.8936" stop-color="#000004"/><stop offset="0.8974" stop-color="#000004"/><stop offset="0.9011" stop-color="#000004"/><stop offset="0.9049" stop-color="#000004"/><stop offset="0.9086" stop-color="#000004"/><stop offset="0.9124" stop-color="#000004"/><stop offset="0.9161" stop-color="#000004"/><stop offset="0.9199" stop-color="#000004"/><stop offset="0.9237" stop-color="#000004"/><stop offset="0.9274" stop-color="#000004"/><stop offset="0.9312" stop-color="#000004"/><stop offset="0.9349" stop-color="#000004"/><stop offset="0.9387" stop-color="#000004"/><stop offset="0.9424" stop-color="#000004"/><stop offset="0.9462" stop-color="#000004"/><stop offset="0.9499" stop-color="#000004"/><stop offset="0.9537" stop-color="#000004"/><stop offset="0.9574" stop-color="#000004"/><stop offset="0.9612" stop-color="#000004"/><stop offset="0.9650" stop-color="#000004"/><stop offset="0.9687" stop-color="#000004"/><stop offset="0.9725" stop-color="#000004"/><stop offset="0.9762" stop-color="#000004"/><stop offset="0.9800" stop-color="#000004"/><stop offset="0.9837" stop-color="#000004"/><stop offset="0.9875" stop-color="#000004"/><stop offset="0.9912" stop-color="#000004"/><stop offset="0.9950" stop-color="#000004"/><stop offset="0.9987" stop-color="#000004"/><stop offset="1.0000" stop-color="#000004"/></linearGradient>
<linearGradient id="g5" gradientUnits="userSpaceOnUse" x1="-3.0" y1="0" x2="794.0" y2="0"><stop offset="0.0000" stop-color="#000004"/><stop offset="0.0038" stop-color="#000004"/><stop offset="0.0075" stop-color="#000004"/><stop offset="0.0113" stop-color="#000004"/><stop offset="0.0151" stop-color="#000004"/><stop offset="0.0188" stop-color="#000004"/><stop offset="0.0226" stop-color="#010005"/><stop offset="0.0263" stop-color="#010005"/><stop offset="0.0301" stop-color="#010106"/><stop offset="0.0339" stop-color="#010108"/><stop offset="0.0376" stop-color="#02020b"/><stop offset="0.0414" stop-color="#03030f"/><stop offset="0.0452" stop-color="#040414"/><stop offset="0.0489" stop-color="#060518"/><stop offset="0.0527" stop-color="#08071e"/><stop offset="0.0565" stop-color="#0a0822"/><stop offset="0.0602" stop-color="#0d0a29"/><stop offset="0.0640" stop-color="#110c2f"/><stop offset="0.0678" stop-color="#140e36"/><stop offset="0.0715" stop-color="#1a1042"/><stop offset="0.0753" stop-color="#21114c"/><stop offset="0.0790" stop-color="#291156"/><stop offset="0.0828" stop-color="#31115f"/><stop offset="0.0866" stop-color="#390f66"/><stop offset="0.0903" stop-color="#420f6a"/><stop offset="0.0941" stop-color="#4a106d"/><stop offset="0.0979" stop-color="#52136e"/><stop offset="0.1016" stop-color="#5c1671"/><stop offset="0.1054" stop-color="#651a72"/><stop offset="0.1092" stop-color="#6e1e73"/><stop offset="0.1129" stop-color="#792274"/><stop offset="0.1167" stop-color="#862773"/><stop offset="0.1205" stop-color="#932b72"/><stop offset="0.1242" stop-color="#9c2e71"/><stop offset="0.1280" stop-color="#a6316f"/><stop offset="0.1317" stop-color="#ae346d"/><stop offset="0.1355" stop-color="#b7376b"/><stop offset="0.1393" stop-color="#bf3a69"/><stop offset="0.1430" stop-color="#c53c66"/><stop offset="0.1468" stop-color="#ca3e64"/><stop offset="0.1506" stop-color="#d04161"/><stop offset="0.1543" stop-color="#d34360"/><stop offset="0.1581" stop-color="#d8455e"/><stop offset="0.1619" stop-color="#db475c"/><stop offset="0.1656" stop-color="#dc485b"/><stop offset="0.1694" stop-color="#de495a"/><stop offset="0.1731" stop-color="#df4a5a"/><stop offset="0.1769" stop-color="#df4a5a"/><stop offset="0.1807" stop-color="#df4a5a"/><stop offset="0.1844" stop-color="#df4a5a"/><stop offset="0.1882" stop-color="#de495a"/><stop offset="0.1920" stop-color="#dc485b"/><stop offset="0.1957" stop-color="#db475c"/><stop offset="0.1995" stop-color="#d8455e"/><stop offset="0.2033" stop-color="#d5445f"/><stop offset="0.2070" stop-color="#d24261"/><stop offset="0.2108" stop-color="#cd4063"/><stop offset="0.2146" stop-color="#ca3e64"/><stop offset="0.2183" stop-color="#c53c66"/><stop offset="0.2221" stop-color="#c23b67"/><stop offset="0.2258" stop-color="#bd3969"/><stop offset="0.2296" stop-color="#b8376b"/><stop offset="0.2334" stop-color="#b5366c"/><stop offset="0.2371" stop-color="#b0356d"/><stop offset="0.2409" stop-color="#ab336e"/><stop offset="0.2447" stop-color="#a6316f"/><stop offset="0.2484" stop-color="#a13070"/><stop offset="0.2522" stop-color="#9c2e71"/><stop offset="0.2560" stop-color="#982d72"/><stop offset="0.2597" stop-color="#942c72"/><stop offset="0.2635" stop-color="#902a73"/><stop offset="0.2673" stop-color="#8b2973"/><stop offset="0.2710" stop-color="#842673"/><stop offset="0.2748" stop-color="#802574"/><stop offset="0.2785" stop-color="#792274"/><stop offset="0.2823" stop-color="#752173"/><stop offset="0.2861" stop-color="#6e1e73"/><stop offset="0.2898" stop-color="#6a1c73"/><stop offset="0.2936" stop-color="#651a72"/><stop offset="0.2974" stop-color="#601872"/><stop offset="0.3011" stop-color="#5c1671"/><stop offset="0.3049" stop-color="#591570"/><stop offset="0.3087" stop-color="#54136f"/><stop offset="0.3124" stop-color="#51126e"/><stop offset="0.3162" stop-color="#4e116d"/><stop offset="0.3199" stop-color="#4a106d"/><stop offset="0.3237" stop-color="#47106c"/><stop offset="0.3275" stop-color="#440f6b"/><stop offset="0.3312" stop-color="#400f6a"/><stop offset="0.3350" stop-color="#3d0f68"/><stop offset="0.3388" stop-color="#3b0f67"/><stop offset="0.3425" stop-color="#381064"/><stop offset="0.3463" stop-color="#361063"/><stop offset="0.3501" stop-color="#331060"/><stop offset="0.3538" stop-color="#2f115d"/><stop offset="0.3576" stop-color="#2d115b"/><stop offset="0.3614" stop-color="#2a1158"/><stop offset="0.3651" stop-color="#291156"/><stop offset="0.3689" stop-color="#271254"/><stop offset="0.3726" stop-color="#241250"/><stop offset="0.3764" stop-color="#22114e"/><stop offset="0.3802" stop-color="#21114c"/><stop offset="0.3839" stop-color="#20114a"/><stop offset="0.3877" stop-color="#1e1148"/><stop offset="0.3915" stop-color="#1d1146"/><stop offset="0.3952" stop-color="#1c1044"/><stop offset="0.3990" stop-color="#1c1044"/><stop offset="0.4028" stop-color="#1a1042"/><stop offset="0.4065" stop-color="#19103f"/><stop offset="0.4103" stop-color="#19103f"/><stop offset="0.4141" stop-color="#180f3d"/><stop offset="0.4178" stop-color="#180f3d"/><stop offset="0.4216" stop-color="#160f3b"/><stop offset="0.4253" stop-color="#160f3b"/><stop offset="0.4291" stop-color="#160f3b"/><stop offset="0.4329" stop-color="#160f3b"/><stop offset="0.4366" stop-color="#160f3b"/><stop offset="0.4404" stop-color="#160f3b"/><stop offset="0.4442" stop-color="#160f3b"/><stop offset="0.4479" stop-color="#160f3b"/><stop offset="0.4517" stop-color="#160f3b"/><stop offset="0.4555" stop-color="#160f3b"/><stop offset="0.4592" stop-color="#160f3b"/><stop offset="0.4630" stop-color="#160f3b"/><stop offset="0.4668" stop-color="#180f3d"/><stop offset="0.4705" stop-color="#180f3d"/><stop offset="0.4743" stop-color="#180f3d"/><stop offset="0.4780" stop-color="#19103f"/><stop offset="0.4818" stop-color="#19103f"/><stop offset="0.4856" stop-color="#19103f"/><stop offset="0.4893" stop-color="#1a1042"/><stop offset="0.4931" stop-color="#1a1042"/><stop offset="0.4969" stop-color="#1c1044"/><stop offset="0.5006" stop-color="#1c1044"/><stop offset="0.5044" stop-color="#1d1146"/><stop offset="0.5082" stop-color="#1d1146"/><stop offset="0.5119" stop-color="#1e1148"/><stop offset="0.5157" stop-color="#1e1148"/><stop offset="0.5194" stop-color="#1e1148"/><stop offset="0.5232" stop-color="#20114a"/><stop offset="0.5270" stop-color="#20114a"/><stop offset="0.5307" stop-color="#21114c"/><stop offset="0.5345" stop-color="#21114c"/><stop offset="0.5383" stop-color="#21114c"/><stop offset="0.5420" stop-color="#22114e"/><stop offset="0.5458" stop-color="#22114e"/><stop offset="0.5496" stop-color="#22114e"/><stop offset="0.5533" stop-color="#241250"/><stop offset="0.5571" stop-color="#241250"/><stop offset="0.5609" stop-color="#241250"/><stop offset="0.5646" stop-color="#251252"/><stop offset="0.5684" stop-color="#251252"/><stop offset="0.5721" stop-color="#251252"/><stop offset="0.5759" stop-color="#251252"/><stop offset="0.5797" stop-color="#251252"/><stop offset="0.5834" stop-color="#271254"/><stop offset="0.5872" stop-color="#271254"/><stop offset="0.5910" stop-color="#271254"/><stop offset="0.5947" stop-color="#271254"/><stop offset="0.5985" stop-color="#271254"/><stop offset="0.6023" stop-color="#291156"/><stop offset="0.6060" stop-color="#291156"/><stop offset="0.6098" stop-color="#291156"/><stop offset="0.6136" stop-color="#291156"/><stop offset="0.6173" stop-color="#291156"/><stop offset="0.6211" stop-color="#291156"/><stop offset="0.6248" stop-color="#291156"/><stop offset="0.6286" stop-color="#2a1158"/><stop offset="0.6324" stop-color="#2a1158"/><stop offset="0.6361" stop-color="#2a1158"/><stop offset="0.6399" stop-color="#2a1158"/><stop offset="0.6437" stop-color="#2a1158"/><stop offset="0.6474" stop-color="#2a1158"/><stop offset="0.6512" stop-color="#2a1158"/><stop offset="0.6550" stop-color="#2a1158"/><stop offset="0.6587" stop-color="#2a1158"/><stop offset="0.6625" stop-color="#2a1158"/><stop offset="0.6662" stop-color="#2a1158"/><stop offset="0.6700" stop-color="#2a1158"/><stop offset="0.6738" stop-color="#2a1158"/><stop offset="0.6775" stop-color="#2a1158"/><stop offset="0.6813" stop-color="#2a1158"/><stop offset="0.6851" stop-color="#291156"/><stop offset="0.6888" stop-color="#291156"/><stop offset="0.6926" stop-color="#291156"/><stop offset="0.6964" stop-color="#291156"/><stop offset="0.7001" stop-color="#291156"/><stop offset="0.7039" stop-color="#291156"/><stop offset="0.7077" stop-color="#271254"/><stop offset="0.7114" stop-color="#271254"/><stop offset="0.7152" stop-color="#271254"/><stop offset="0.7189" stop-color="#251252"/><stop offset="0.7227" stop-color="#251252"/><stop offset="0.7265" stop-color="#251252"/><stop offset="0.7302" stop-color="#241250"/><stop offset="0.7340" stop-color="#241250"/><stop offset="0.7378" stop-color="#22114e"/><stop offset="0.7415" stop-color="#22114e"/><stop offset="0.7453" stop-color="#21114c"/><stop offset="0.7491" stop-color="#21114c"/><stop offset="0.7528" stop-color="#20114a"/><stop offset="0.7566" stop-color="#1e1148"/><stop offset="0.7604" stop-color="#1e1148"/><stop offset="0.7641" stop-color="#1d1146"/><stop offset="0.7679" stop-color="#1c1044"/><stop offset="0.7716" stop-color="#1a1042"/><stop offset="0.7754" stop-color="#1a1042"/><stop offset="0.7792" stop-color="#19103f"/><stop offset="0.7829" stop-color="#180f3d"/><stop offset="0.7867" stop-color="#160f3b"/><stop offset="0.7905" stop-color="#150e38"/><stop offset="0.7942" stop-color="#140e36"/><stop offset="0.7980" stop-color="#140e36"/><stop offset="0.8018" stop-color="#130d34"/><stop offset="0.8055" stop-color="#120d31"/><stop offset="0.8093" stop-color="#110c2f"/><stop offset="0.8130" stop-color="#110c2f"/><stop offset="0.8168" stop-color="#100b2d"/><stop offset="0.8206" stop-color="#0e0b2b"/><stop offset="0.8243" stop-color="#0d0a29"/><stop offset="0.8281" stop-color="#0c0926"/><stop offset="0.8319" stop-color="#0b0924"/><stop offset="0.8356" stop-color="#0a0822"/><stop offset="0.8394" stop-color="#090720"/><stop offset="0.8432" stop-color="#08071e"/><stop offset="0.8469" stop-color="#07061c"/><stop offset="0.8507" stop-color="#06051a"/><stop offset="0.8545" stop-color="#06051a"/><stop offset="0.8582" stop-color="#060518"/><stop offset="0.8620" stop-color="#050416"/><stop offset="0.8657" stop-color="#040414"/><stop offset="0.8695" stop-color="#030312"/><stop offset="0.8733" stop-color="#030312"/><stop offset="0.8770" stop-color="#03030f"/><stop offset="0.8808" stop-color="#03030f"/><stop offset="0.8846" stop-color="#02020d"/><stop offset="0.8883" stop-color="#02020b"/><stop offset="0.8921" stop-color="#02020b"/><stop offset="0.8959" stop-color="#020109"/><stop offset="0.8996" stop-color="#020109"/><stop offset="0.9034" stop-color="#010108"/><stop offset="0.9072" stop-color="#010108"/><stop offset="0.9109" stop-color="#010106"/><stop offset="0.9147" stop-color="#010106"/><stop offset="0.9184" stop-color="#010106"/><stop offset="0.9222" stop-color="#010106"/><stop offset="0.9260" stop-color="#010005"/><stop offset="0.9297" stop-color="#010005"/><stop offset="0.9335" stop-color="#010005"/><stop offset="0.9373" stop-color="#010005"/><stop offset="0.9410" stop-color="#010005"/><stop offset="0.9448" stop-color="#010005"/><stop offset="0.9486" stop-color="#010005"/><stop offset="0.9523" stop-color="#000004"/><stop offset="0.9561" stop-color="#000004"/><stop offset="0.9598" stop-color="#000004"/><stop offset="0.9636" stop-color="#000004"/><stop offset="0.9674" stop-color="#000004"/><stop offset="0.9711" stop-color="#000004"/><stop offset="0.9749" stop-color="#000004"/><stop offset="0.9787" stop-color="#000004"/><stop offset="0.9824" stop-color="#000004"/><stop offset="0.9862" stop-color="#000004"/><stop offset="0.9900" stop-color="#000004"/><stop offset="0.9937" stop-color="#000004"/><stop offset="0.9975" stop-color="#000004"/><stop offset="1.0000" stop-color="#000004"/></linearGradient>
<clipPath id="sec"><polygon points="1155.8,735.8 1874.7,735.8 1874.7,730.4 1874.6,725.0 1874.5,719.5 1874.3,714.1 1874.2,708.7 1873.9,703.3 1873.6,697.9 1873.3,692.4 1872.9,687.0 1872.5,681.6 1872.1,676.2 1871.6,670.8 1871.0,665.4 1870.4,660.0 1869.8,654.6 1869.1,649.2 1868.4,643.9 1867.6,638.5 1866.8,633.1 1866.0,627.8 1865.1,622.4 1864.2,617.1 1863.2,611.7 1862.2,606.4 1861.1,601.1 1860.0,595.7 1858.8,590.4 1857.7,585.1 1856.4,579.8 1855.1,574.6 1853.8,569.3 1852.5,564.0 1851.1,558.8 1849.6,553.5 1848.1,548.3 1846.6,543.1 1845.0,537.9 1843.4,532.7 1841.8,527.5 1840.1,522.3 1838.3,517.2 1836.5,512.0 1834.7,506.9 1832.9,501.8 1830.9,496.7 1829.0,491.6 1827.0,486.5 1825.0,481.5 1822.9,476.4 1820.8,471.4 1818.7,466.4 1816.5,461.4 1814.3,456.4 1812.0,451.5 1809.7,446.5 1807.3,441.6 1804.9,436.7 1802.5,431.8 1800.0,426.9 1797.5,422.1 1795.0,417.3 1792.4,412.4 1789.8,407.7 1787.1,402.9 1784.4,398.1 1781.7,393.4 1778.9,388.7 1776.1,384.0 1773.3,379.3 1770.4,374.7 1767.4,370.1 1764.5,365.4 1761.5,360.9 1758.5,356.3 1755.4,351.8 1752.3,347.3 1749.1,342.8 1745.9,338.3 1742.7,333.9 1739.5,329.5 1736.2,325.1 1732.9,320.7 1729.5,316.4 1726.1,312.0 1722.7,307.7 1719.2,303.5 1715.7,299.2 1712.2,295.0 1708.6,290.9 1705.0,286.7 1701.4,282.6 1697.7,278.5 1694.0,274.4 1690.3,270.3 1686.5,266.3 1682.8,262.3 1678.9,258.4 1675.1,254.4 1671.2,250.5 1667.3,246.7 1663.3,242.8 1659.3,239.0 1655.3,235.2 1651.3,231.5 1647.2,227.7 1643.1,224.1 1639.0,220.4 1634.8,216.8 1630.6,213.2 1626.4,209.6 1622.1,206.1 1617.9,202.6 1613.5,199.1 1609.2,195.7 1604.9,192.2 1600.5,188.9 1596.0,185.5 1591.6,182.2 1587.1,179.0"/></clipPath>
</defs>
<rect x="0" y="0" width="1942" height="854" fill="#fff"/>
<g>
<line x1="0" y1="281.0" x2="889.0" y2="281.0" stroke="#d4d4d4" stroke-width="1.2"/>
<path d="M13.2,281.6 L13.2,281.0 14.2,280.8 15.2,280.8 16.2,280.7 17.2,280.6 18.2,280.4 19.2,280.3 20.2,280.2 21.2,280.1 22.2,280.0 23.2,279.9 24.2,279.7 25.2,279.6 26.2,279.5 27.2,279.4 28.2,279.2 29.2,279.1 30.2,279.0 31.2,278.8 32.2,278.7 33.2,278.6 34.2,278.5 35.2,278.3 36.2,278.2 37.2,278.1 38.2,277.9 39.2,277.8 40.2,277.6 41.2,277.4 42.2,277.2 43.2,277.0 44.2,276.8 45.2,276.5 46.2,276.3 47.2,275.9 48.2,275.6 49.2,275.2 50.2,274.8 51.2,274.4 52.2,273.9 53.2,273.4 54.2,272.9 55.2,272.3 56.2,271.8 57.2,271.1 58.2,270.5 59.2,269.8 60.2,269.0 61.2,268.3 62.2,267.5 63.2,266.6 64.2,265.7 65.2,264.8 66.2,263.8 67.2,262.8 68.2,261.7 69.2,260.6 70.2,259.5 71.2,258.3 72.2,257.1 73.2,255.9 74.2,254.7 75.2,253.4 76.2,252.1 77.2,250.8 78.2,249.4 79.2,248.0 80.2,246.6 81.2,245.2 82.2,243.8 83.2,242.3 84.2,240.9 85.2,239.4 86.2,237.9 87.2,236.5 88.2,235.1 89.2,233.7 90.2,232.2 91.2,230.7 92.2,229.2 93.2,227.6 94.2,225.9 95.2,224.2 96.2,222.4 97.2,220.6 98.2,218.8 99.2,216.9 100.2,215.1 101.2,213.2 102.2,211.4 103.2,209.5 104.2,207.7 105.2,205.8 106.2,204.0 107.2,202.2 108.2,200.4 109.2,198.6 110.2,196.9 111.2,195.1 112.2,193.4 113.2,191.6 114.2,190.0 115.2,188.3 116.2,186.7 117.2,185.2 118.2,183.6 119.2,182.2 120.2,180.7 121.2,179.4 122.2,178.1 123.2,176.8 124.2,175.6 125.2,174.5 126.2,173.4 127.2,172.3 128.2,171.4 129.2,170.5 130.2,169.6 131.2,168.8 132.2,168.1 133.2,167.4 134.2,166.7 135.2,166.1 136.2,165.6 137.2,165.2 138.2,164.9 139.2,164.6 140.2,164.3 141.2,164.1 142.2,163.9 143.2,163.7 144.2,163.6 145.2,163.4 146.2,163.3 147.2,163.3 148.2,163.3 149.2,163.3 150.2,163.3 151.2,163.4 152.2,163.5 153.2,163.6 154.2,163.8 155.2,164.0 156.2,164.3 157.2,164.6 158.2,165.0 159.2,165.4 160.2,165.9 161.2,166.4 162.2,167.0 163.2,167.6 164.2,168.2 165.2,168.8 166.2,169.5 167.2,170.1 168.2,170.8 169.2,171.5 170.2,172.3 171.2,173.0 172.2,173.8 173.2,174.5 174.2,175.3 175.2,176.1 176.2,176.8 177.2,177.6 178.2,178.4 179.2,179.2 180.2,180.0 181.2,180.8 182.2,181.6 183.2,182.4 184.2,183.2 185.2,184.0 186.2,184.8 187.2,185.5 188.2,186.3 189.2,187.2 190.2,188.0 191.2,188.8 192.2,189.7 193.2,190.6 194.2,191.5 195.2,192.4 196.2,193.3 197.2,194.2 198.2,195.1 199.2,196.0 200.2,196.9 201.2,197.8 202.2,198.7 203.2,199.6 204.2,200.5 205.2,201.4 206.2,202.3 207.2,203.3 208.2,204.2 209.2,205.1 210.2,206.0 211.2,206.9 212.2,207.8 213.2,208.7 214.2,209.6 215.2,210.5 216.2,211.4 217.2,212.3 218.2,213.1 219.2,214.0 220.2,214.8 221.2,215.7 222.2,216.5 223.2,217.3 224.2,218.1 225.2,219.0 226.2,219.8 227.2,220.6 228.2,221.4 229.2,222.3 230.2,223.1 231.2,223.9 232.2,224.8 233.2,225.6 234.2,226.4 235.2,227.2 236.2,228.0 237.2,228.8 238.2,229.6 239.2,230.3 240.2,231.0 241.2,231.7 242.2,232.4 243.2,233.1 244.2,233.7 245.2,234.4 246.2,235.0 247.2,235.6 248.2,236.3 249.2,236.9 250.2,237.5 251.2,238.0 252.2,238.6 253.2,239.2 254.2,239.8 255.2,240.3 256.2,240.8 257.2,241.4 258.2,241.9 259.2,242.4 260.2,242.9 261.2,243.5 262.2,244.0 263.2,244.5 264.2,244.9 265.2,245.4 266.2,245.9 267.2,246.4 268.2,246.9 269.2,247.3 270.2,247.8 271.2,248.2 272.2,248.7 273.2,249.1 274.2,249.5 275.2,249.9 276.2,250.3 277.2,250.7 278.2,251.1 279.2,251.4 280.2,251.8 281.2,252.1 282.2,252.5 283.2,252.8 284.2,253.1 285.2,253.5 286.2,253.8 287.2,254.1 288.2,254.4 289.2,254.7 290.2,255.0 291.2,255.3 292.2,255.6 293.2,255.8 294.2,256.1 295.2,256.3 296.2,256.6 297.2,256.8 298.2,257.1 299.2,257.3 300.2,257.5 301.2,257.8 302.2,258.0 303.2,258.2 304.2,258.4 305.2,258.6 306.2,258.8 307.2,259.0 308.2,259.2 309.2,259.4 310.2,259.6 311.2,259.8 312.2,260.0 313.2,260.1 314.2,260.3 315.2,260.5 316.2,260.6 317.2,260.8 318.2,260.9 319.2,261.1 320.2,261.2 321.2,261.4 322.2,261.5 323.2,261.6 324.2,261.8 325.2,261.9 326.2,262.0 327.2,262.2 328.2,262.3 329.2,262.4 330.2,262.6 331.2,262.7 332.2,262.8 333.2,262.9 334.2,263.0 335.2,263.1 336.2,263.2 337.2,263.2 338.2,263.3 339.2,263.3 340.2,263.4 341.2,263.4 342.2,263.5 343.2,263.5 344.2,263.6 345.2,263.6 346.2,263.6 347.2,263.7 348.2,263.7 349.2,263.7 350.2,263.8 351.2,263.8 352.2,263.8 353.2,263.9 354.2,263.9 355.2,263.9 356.2,263.9 357.2,263.9 358.2,264.0 359.2,264.0 360.2,264.0 361.2,264.0 362.2,264.0 363.2,264.0 364.2,264.0 365.2,264.0 366.2,264.0 367.2,263.9 368.2,263.9 369.2,263.9 370.2,263.8 371.2,263.8 372.2,263.8 373.2,263.7 374.2,263.6 375.2,263.6 376.2,263.5 377.2,263.4 378.2,263.4 379.2,263.3 380.2,263.2 381.2,263.1 382.2,263.0 383.2,262.9 384.2,262.8 385.2,262.8 386.2,262.7 387.2,262.6 388.2,262.5 389.2,262.4 390.2,262.3 391.2,262.2 392.2,262.0 393.2,261.9 394.2,261.8 395.2,261.6 396.2,261.5 397.2,261.3 398.2,261.2 399.2,261.0 400.2,260.8 401.2,260.6 402.2,260.4 403.2,260.2 404.2,260.1 405.2,259.8 406.2,259.6 407.2,259.4 408.2,259.2 409.2,259.0 410.2,258.8 411.2,258.6 412.2,258.4 413.2,258.2 414.2,257.9 415.2,257.7 416.2,257.5 417.2,257.3 418.2,257.1 419.2,256.9 420.2,256.7 421.2,256.4 422.2,256.2 423.2,256.0 424.2,255.8 425.2,255.5 426.2,255.3 427.2,255.1 428.2,254.8 429.2,254.6 430.2,254.3 431.2,254.1 432.2,253.8 433.2,253.6 434.2,253.3 435.2,253.1 436.2,252.8 437.2,252.6 438.2,252.3 439.2,252.1 440.2,251.8 441.2,251.5 442.2,251.3 443.2,251.0 444.2,250.7 445.2,250.5 446.2,250.2 447.2,249.9 448.2,249.6 449.2,249.3 450.2,249.0 451.2,248.7 452.2,248.4 453.2,248.1 454.2,247.8 455.2,247.5 456.2,247.2 457.2,246.9 458.2,246.6 459.2,246.3 460.2,246.0 461.2,245.7 462.2,245.4 463.2,245.1 464.2,244.8 465.2,244.5 466.2,244.2 467.2,243.9 468.2,243.7 469.2,243.4 470.2,243.1 471.2,242.9 472.2,242.6 473.2,242.3 474.2,242.0 475.2,241.8 476.2,241.5 477.2,241.2 478.2,241.0 479.2,240.7 480.2,240.4 481.2,240.2 482.2,239.9 483.2,239.7 484.2,239.4 485.2,239.2 486.2,239.0 487.2,238.7 488.2,238.5 489.2,238.3 490.2,238.1 491.2,237.9 492.2,237.7 493.2,237.5 494.2,237.3 495.2,237.2 496.2,237.0 497.2,236.9 498.2,236.7 499.2,236.6 500.2,236.4 501.2,236.3 502.2,236.2 503.2,236.1 504.2,235.9 505.2,235.8 506.2,235.7 507.2,235.6 508.2,235.5 509.2,235.4 510.2,235.3 511.2,235.2 512.2,235.1 513.2,235.1 514.2,235.0 515.2,234.9 516.2,234.8 517.2,234.8 518.2,234.7 519.2,234.7 520.2,234.6 521.2,234.6 522.2,234.6 523.2,234.6 524.2,234.7 525.2,234.7 526.2,234.8 527.2,234.8 528.2,234.9 529.2,235.0 530.2,235.1 531.2,235.1 532.2,235.2 533.2,235.4 534.2,235.5 535.2,235.6 536.2,235.7 537.2,235.8 538.2,235.9 539.2,236.1 540.2,236.2 541.2,236.4 542.2,236.6 543.2,236.8 544.2,237.1 545.2,237.3 546.2,237.6 547.2,237.8 548.2,238.1 549.2,238.4 550.2,238.7 551.2,239.1 552.2,239.4 553.2,239.7 554.2,240.0 555.2,240.3 556.2,240.7 557.2,241.0 558.2,241.4 559.2,241.7 560.2,242.1 561.2,242.5 562.2,242.9 563.2,243.3 564.2,243.7 565.2,244.1 566.2,244.5 567.2,245.0 568.2,245.4 569.2,245.8 570.2,246.2 571.2,246.6 572.2,247.0 573.2,247.4 574.2,247.8 575.2,248.2 576.2,248.6 577.2,249.0 578.2,249.4 579.2,249.7 580.2,250.1 581.2,250.5 582.2,250.9 583.2,251.3 584.2,251.6 585.2,252.0 586.2,252.3 587.2,252.7 588.2,253.0 589.2,253.3 590.2,253.6 591.2,253.9 592.2,254.2 593.2,254.5 594.2,254.7 595.2,255.0 596.2,255.2 597.2,255.5 598.2,255.7 599.2,255.9 600.2,256.2 601.2,256.4 602.2,256.6 603.2,256.8 604.2,257.0 605.2,257.2 606.2,257.4 607.2,257.6 608.2,257.8 609.2,258.0 610.2,258.2 611.2,258.4 612.2,258.6 613.2,258.8 614.2,259.0 615.2,259.1 616.2,259.3 617.2,259.5 618.2,259.7 619.2,259.9 620.2,260.1 621.2,260.2 622.2,260.4 623.2,260.6 624.2,260.7 625.2,260.9 626.2,261.1 627.2,261.2 628.2,261.4 629.2,261.5 630.2,261.7 631.2,261.9 632.2,262.0 633.2,262.2 634.2,262.3 635.2,262.5 636.2,262.7 637.2,262.8 638.2,263.0 639.2,263.2 640.2,263.3 641.2,263.5 642.2,263.7 643.2,263.9 644.2,264.1 645.2,264.3 646.2,264.5 647.2,264.7 648.2,264.9 649.2,265.1 650.2,265.3 651.2,265.5 652.2,265.7 653.2,265.9 654.2,266.1 655.2,266.4 656.2,266.6 657.2,266.8 658.2,267.1 659.2,267.3 660.2,267.6 661.2,267.8 662.2,268.1 663.2,268.4 664.2,268.7 665.2,268.9 666.2,269.2 667.2,269.5 668.2,269.8 669.2,270.1 670.2,270.5 671.2,270.8 672.2,271.1 673.2,271.3 674.2,271.6 675.2,271.9 676.2,272.2 677.2,272.5 678.2,272.7 679.2,273.0 680.2,273.2 681.2,273.5 682.2,273.7 683.2,274.0 684.2,274.2 685.2,274.4 686.2,274.7 687.2,274.9 688.2,275.2 689.2,275.4 690.2,275.6 691.2,275.8 692.2,276.0 693.2,276.2 694.2,276.4 695.2,276.6 696.2,276.8 697.2,277.0 698.2,277.2 699.2,277.4 700.2,277.5 701.2,277.7 702.2,277.9 703.2,278.1 704.2,278.2 705.2,278.4 706.2,278.6 707.2,278.7 708.2,278.9 709.2,279.0 710.2,279.2 711.2,279.3 712.2,279.5 713.2,279.6 714.2,279.7 715.2,279.8 716.2,279.9 717.2,280.0 718.2,280.1 719.2,280.2 720.2,280.2 721.2,280.3 722.2,280.4 723.2,280.4 724.2,280.5 725.2,280.5 726.2,280.5 727.2,280.6 728.2,280.6 729.2,280.7 730.2,280.7 731.2,280.7 732.2,280.8 733.2,280.8 734.2,280.8 735.2,280.9 736.2,280.9 737.2,280.9 738.2,280.9 739.2,280.9 740.2,281.0 741.2,281.0 742.2,281.0 743.2,281.0 744.2,281.0 745.2,281.0 L745.2,281.6 Z" fill="url(#g1)" fill-opacity="0.90"/>
<polyline points="13.2,281.0 14.2,280.8 15.2,280.8 16.2,280.7 17.2,280.6 18.2,280.4 19.2,280.3 20.2,280.2 21.2,280.1 22.2,280.0 23.2,279.9 24.2,279.7 25.2,279.6 26.2,279.5 27.2,279.4 28.2,279.2 29.2,279.1 30.2,279.0 31.2,278.8 32.2,278.7 33.2,278.6 34.2,278.5 35.2,278.3 36.2,278.2 37.2,278.1 38.2,277.9 39.2,277.8 40.2,277.6 41.2,277.4 42.2,277.2 43.2,277.0 44.2,276.8 45.2,276.5 46.2,276.3 47.2,275.9 48.2,275.6 49.2,275.2 50.2,274.8 51.2,274.4 52.2,273.9 53.2,273.4 54.2,272.9 55.2,272.3 56.2,271.8 57.2,271.1 58.2,270.5 59.2,269.8 60.2,269.0 61.2,268.3 62.2,267.5 63.2,266.6 64.2,265.7 65.2,264.8 66.2,263.8 67.2,262.8 68.2,261.7 69.2,260.6 70.2,259.5 71.2,258.3 72.2,257.1 73.2,255.9 74.2,254.7 75.2,253.4 76.2,252.1 77.2,250.8 78.2,249.4 79.2,248.0 80.2,246.6 81.2,245.2 82.2,243.8 83.2,242.3 84.2,240.9 85.2,239.4 86.2,237.9 87.2,236.5 88.2,235.1 89.2,233.7 90.2,232.2 91.2,230.7 92.2,229.2 93.2,227.6 94.2,225.9 95.2,224.2 96.2,222.4 97.2,220.6 98.2,218.8 99.2,216.9 100.2,215.1 101.2,213.2 102.2,211.4 103.2,209.5 104.2,207.7 105.2,205.8 106.2,204.0 107.2,202.2 108.2,200.4 109.2,198.6 110.2,196.9 111.2,195.1 112.2,193.4 113.2,191.6 114.2,190.0 115.2,188.3 116.2,186.7 117.2,185.2 118.2,183.6 119.2,182.2 120.2,180.7 121.2,179.4 122.2,178.1 123.2,176.8 124.2,175.6 125.2,174.5 126.2,173.4 127.2,172.3 128.2,171.4 129.2,170.5 130.2,169.6 131.2,168.8 132.2,168.1 133.2,167.4 134.2,166.7 135.2,166.1 136.2,165.6 137.2,165.2 138.2,164.9 139.2,164.6 140.2,164.3 141.2,164.1 142.2,163.9 143.2,163.7 144.2,163.6 145.2,163.4 146.2,163.3 147.2,163.3 148.2,163.3 149.2,163.3 150.2,163.3 151.2,163.4 152.2,163.5 153.2,163.6 154.2,163.8 155.2,164.0 156.2,164.3 157.2,164.6 158.2,165.0 159.2,165.4 160.2,165.9 161.2,166.4 162.2,167.0 163.2,167.6 164.2,168.2 165.2,168.8 166.2,169.5 167.2,170.1 168.2,170.8 169.2,171.5 170.2,172.3 171.2,173.0 172.2,173.8 173.2,174.5 174.2,175.3 175.2,176.1 176.2,176.8 177.2,177.6 178.2,178.4 179.2,179.2 180.2,180.0 181.2,180.8 182.2,181.6 183.2,182.4 184.2,183.2 185.2,184.0 186.2,184.8 187.2,185.5 188.2,186.3 189.2,187.2 190.2,188.0 191.2,188.8 192.2,189.7 193.2,190.6 194.2,191.5 195.2,192.4 196.2,193.3 197.2,194.2 198.2,195.1 199.2,196.0 200.2,196.9 201.2,197.8 202.2,198.7 203.2,199.6 204.2,200.5 205.2,201.4 206.2,202.3 207.2,203.3 208.2,204.2 209.2,205.1 210.2,206.0 211.2,206.9 212.2,207.8 213.2,208.7 214.2,209.6 215.2,210.5 216.2,211.4 217.2,212.3 218.2,213.1 219.2,214.0 220.2,214.8 221.2,215.7 222.2,216.5 223.2,217.3 224.2,218.1 225.2,219.0 226.2,219.8 227.2,220.6 228.2,221.4 229.2,222.3 230.2,223.1 231.2,223.9 232.2,224.8 233.2,225.6 234.2,226.4 235.2,227.2 236.2,228.0 237.2,228.8 238.2,229.6 239.2,230.3 240.2,231.0 241.2,231.7 242.2,232.4 243.2,233.1 244.2,233.7 245.2,234.4 246.2,235.0 247.2,235.6 248.2,236.3 249.2,236.9 250.2,237.5 251.2,238.0 252.2,238.6 253.2,239.2 254.2,239.8 255.2,240.3 256.2,240.8 257.2,241.4 258.2,241.9 259.2,242.4 260.2,242.9 261.2,243.5 262.2,244.0 263.2,244.5 264.2,244.9 265.2,245.4 266.2,245.9 267.2,246.4 268.2,246.9 269.2,247.3 270.2,247.8 271.2,248.2 272.2,248.7 273.2,249.1 274.2,249.5 275.2,249.9 276.2,250.3 277.2,250.7 278.2,251.1 279.2,251.4 280.2,251.8 281.2,252.1 282.2,252.5 283.2,252.8 284.2,253.1 285.2,253.5 286.2,253.8 287.2,254.1 288.2,254.4 289.2,254.7 290.2,255.0 291.2,255.3 292.2,255.6 293.2,255.8 294.2,256.1 295.2,256.3 296.2,256.6 297.2,256.8 298.2,257.1 299.2,257.3 300.2,257.5 301.2,257.8 302.2,258.0 303.2,258.2 304.2,258.4 305.2,258.6 306.2,258.8 307.2,259.0 308.2,259.2 309.2,259.4 310.2,259.6 311.2,259.8 312.2,260.0 313.2,260.1 314.2,260.3 315.2,260.5 316.2,260.6 317.2,260.8 318.2,260.9 319.2,261.1 320.2,261.2 321.2,261.4 322.2,261.5 323.2,261.6 324.2,261.8 325.2,261.9 326.2,262.0 327.2,262.2 328.2,262.3 329.2,262.4 330.2,262.6 331.2,262.7 332.2,262.8 333.2,262.9 334.2,263.0 335.2,263.1 336.2,263.2 337.2,263.2 338.2,263.3 339.2,263.3 340.2,263.4 341.2,263.4 342.2,263.5 343.2,263.5 344.2,263.6 345.2,263.6 346.2,263.6 347.2,263.7 348.2,263.7 349.2,263.7 350.2,263.8 351.2,263.8 352.2,263.8 353.2,263.9 354.2,263.9 355.2,263.9 356.2,263.9 357.2,263.9 358.2,264.0 359.2,264.0 360.2,264.0 361.2,264.0 362.2,264.0 363.2,264.0 364.2,264.0 365.2,264.0 366.2,264.0 367.2,263.9 368.2,263.9 369.2,263.9 370.2,263.8 371.2,263.8 372.2,263.8 373.2,263.7 374.2,263.6 375.2,263.6 376.2,263.5 377.2,263.4 378.2,263.4 379.2,263.3 380.2,263.2 381.2,263.1 382.2,263.0 383.2,262.9 384.2,262.8 385.2,262.8 386.2,262.7 387.2,262.6 388.2,262.5 389.2,262.4 390.2,262.3 391.2,262.2 392.2,262.0 393.2,261.9 394.2,261.8 395.2,261.6 396.2,261.5 397.2,261.3 398.2,261.2 399.2,261.0 400.2,260.8 401.2,260.6 402.2,260.4 403.2,260.2 404.2,260.1 405.2,259.8 406.2,259.6 407.2,259.4 408.2,259.2 409.2,259.0 410.2,258.8 411.2,258.6 412.2,258.4 413.2,258.2 414.2,257.9 415.2,257.7 416.2,257.5 417.2,257.3 418.2,257.1 419.2,256.9 420.2,256.7 421.2,256.4 422.2,256.2 423.2,256.0 424.2,255.8 425.2,255.5 426.2,255.3 427.2,255.1 428.2,254.8 429.2,254.6 430.2,254.3 431.2,254.1 432.2,253.8 433.2,253.6 434.2,253.3 435.2,253.1 436.2,252.8 437.2,252.6 438.2,252.3 439.2,252.1 440.2,251.8 441.2,251.5 442.2,251.3 443.2,251.0 444.2,250.7 445.2,250.5 446.2,250.2 447.2,249.9 448.2,249.6 449.2,249.3 450.2,249.0 451.2,248.7 452.2,248.4 453.2,248.1 454.2,247.8 455.2,247.5 456.2,247.2 457.2,246.9 458.2,246.6 459.2,246.3 460.2,246.0 461.2,245.7 462.2,245.4 463.2,245.1 464.2,244.8 465.2,244.5 466.2,244.2 467.2,243.9 468.2,243.7 469.2,243.4 470.2,243.1 471.2,242.9 472.2,242.6 473.2,242.3 474.2,242.0 475.2,241.8 476.2,241.5 477.2,241.2 478.2,241.0 479.2,240.7 480.2,240.4 481.2,240.2 482.2,239.9 483.2,239.7 484.2,239.4 485.2,239.2 486.2,239.0 487.2,238.7 488.2,238.5 489.2,238.3 490.2,238.1 491.2,237.9 492.2,237.7 493.2,237.5 494.2,237.3 495.2,237.2 496.2,237.0 497.2,236.9 498.2,236.7 499.2,236.6 500.2,236.4 501.2,236.3 502.2,236.2 503.2,236.1 504.2,235.9 505.2,235.8 506.2,235.7 507.2,235.6 508.2,235.5 509.2,235.4 510.2,235.3 511.2,235.2 512.2,235.1 513.2,235.1 514.2,235.0 515.2,234.9 516.2,234.8 517.2,234.8 518.2,234.7 519.2,234.7 520.2,234.6 521.2,234.6 522.2,234.6 523.2,234.6 524.2,234.7 525.2,234.7 526.2,234.8 527.2,234.8 528.2,234.9 529.2,235.0 530.2,235.1 531.2,235.1 532.2,235.2 533.2,235.4 534.2,235.5 535.2,235.6 536.2,235.7 537.2,235.8 538.2,235.9 539.2,236.1 540.2,236.2 541.2,236.4 542.2,236.6 543.2,236.8 544.2,237.1 545.2,237.3 546.2,237.6 547.2,237.8 548.2,238.1 549.2,238.4 550.2,238.7 551.2,239.1 552.2,239.4 553.2,239.7 554.2,240.0 555.2,240.3 556.2,240.7 557.2,241.0 558.2,241.4 559.2,241.7 560.2,242.1 561.2,242.5 562.2,242.9 563.2,243.3 564.2,243.7 565.2,244.1 566.2,244.5 567.2,245.0 568.2,245.4 569.2,245.8 570.2,246.2 571.2,246.6 572.2,247.0 573.2,247.4 574.2,247.8 575.2,248.2 576.2,248.6 577.2,249.0 578.2,249.4 579.2,249.7 580.2,250.1 581.2,250.5 582.2,250.9 583.2,251.3 584.2,251.6 585.2,252.0 586.2,252.3 587.2,252.7 588.2,253.0 589.2,253.3 590.2,253.6 591.2,253.9 592.2,254.2 593.2,254.5 594.2,254.7 595.2,255.0 596.2,255.2 597.2,255.5 598.2,255.7 599.2,255.9 600.2,256.2 601.2,256.4 602.2,256.6 603.2,256.8 604.2,257.0 605.2,257.2 606.2,257.4 607.2,257.6 608.2,257.8 609.2,258.0 610.2,258.2 611.2,258.4 612.2,258.6 613.2,258.8 614.2,259.0 615.2,259.1 616.2,259.3 617.2,259.5 618.2,259.7 619.2,259.9 620.2,260.1 621.2,260.2 622.2,260.4 623.2,260.6 624.2,260.7 625.2,260.9 626.2,261.1 627.2,261.2 628.2,261.4 629.2,261.5 630.2,261.7 631.2,261.9 632.2,262.0 633.2,262.2 634.2,262.3 635.2,262.5 636.2,262.7 637.2,262.8 638.2,263.0 639.2,263.2 640.2,263.3 641.2,263.5 642.2,263.7 643.2,263.9 644.2,264.1 645.2,264.3 646.2,264.5 647.2,264.7 648.2,264.9 649.2,265.1 650.2,265.3 651.2,265.5 652.2,265.7 653.2,265.9 654.2,266.1 655.2,266.4 656.2,266.6 657.2,266.8 658.2,267.1 659.2,267.3 660.2,267.6 661.2,267.8 662.2,268.1 663.2,268.4 664.2,268.7 665.2,268.9 666.2,269.2 667.2,269.5 668.2,269.8 669.2,270.1 670.2,270.5 671.2,270.8 672.2,271.1 673.2,271.3 674.2,271.6 675.2,271.9 676.2,272.2 677.2,272.5 678.2,272.7 679.2,273.0 680.2,273.2 681.2,273.5 682.2,273.7 683.2,274.0 684.2,274.2 685.2,274.4 686.2,274.7 687.2,274.9 688.2,275.2 689.2,275.4 690.2,275.6 691.2,275.8 692.2,276.0 693.2,276.2 694.2,276.4 695.2,276.6 696.2,276.8 697.2,277.0 698.2,277.2 699.2,277.4 700.2,277.5 701.2,277.7 702.2,277.9 703.2,278.1 704.2,278.2 705.2,278.4 706.2,278.6 707.2,278.7 708.2,278.9 709.2,279.0 710.2,279.2 711.2,279.3 712.2,279.5 713.2,279.6 714.2,279.7 715.2,279.8 716.2,279.9 717.2,280.0 718.2,280.1 719.2,280.2 720.2,280.2 721.2,280.3 722.2,280.4 723.2,280.4 724.2,280.5 725.2,280.5 726.2,280.5 727.2,280.6 728.2,280.6 729.2,280.7 730.2,280.7 731.2,280.7 732.2,280.8 733.2,280.8 734.2,280.8 735.2,280.9 736.2,280.9 737.2,280.9 738.2,280.9 739.2,280.9 740.2,281.0 741.2,281.0 742.2,281.0 743.2,281.0 744.2,281.0 745.2,281.0" fill="none" stroke="#0d0d12" stroke-width="1.1" stroke-opacity="0.9"/>
<line x1="215.0" y1="281.0" x2="215.0" y2="209.0" stroke="#28102e" stroke-width="3" stroke-opacity="0.92" stroke-dasharray="13.2 8.8"/>
</g>
<g>
<line x1="0" y1="381.2" x2="889.0" y2="381.2" stroke="#d4d4d4" stroke-width="1.2"/>
<path d="M7.0,381.8 L7.0,381.2 8.0,381.2 9.0,381.1 10.0,381.1 11.0,381.0 12.0,381.0 13.0,380.9 14.0,380.8 15.0,380.7 16.0,380.6 17.0,380.5 18.0,380.4 19.0,380.3 20.0,380.1 21.0,380.0 22.0,379.8 23.0,379.7 24.0,379.5 25.0,379.3 26.0,379.1 27.0,378.8 28.0,378.6 29.0,378.4 30.0,378.1 31.0,377.9 32.0,377.6 33.0,377.3 34.0,377.0 35.0,376.7 36.0,376.4 37.0,376.0 38.0,375.7 39.0,375.3 40.0,374.9 41.0,374.5 42.0,374.0 43.0,373.6 44.0,373.1 45.0,372.5 46.0,371.9 47.0,371.3 48.0,370.7 49.0,370.0 50.0,369.3 51.0,368.5 52.0,367.7 53.0,366.8 54.0,365.9 55.0,365.0 56.0,364.1 57.0,363.2 58.0,362.2 59.0,361.2 60.0,360.2 61.0,359.1 62.0,358.1 63.0,356.9 64.0,355.8 65.0,354.7 66.0,353.5 67.0,352.3 68.0,351.1 69.0,349.8 70.0,348.6 71.0,347.3 72.0,346.0 73.0,344.7 74.0,343.4 75.0,342.1 76.0,340.7 77.0,339.4 78.0,338.0 79.0,336.6 80.0,335.2 81.0,333.8 82.0,332.3 83.0,330.9 84.0,329.5 85.0,328.0 86.0,326.5 87.0,325.1 88.0,323.6 89.0,322.0 90.0,320.4 91.0,318.8 92.0,317.1 93.0,315.4 94.0,313.6 95.0,311.8 96.0,310.0 97.0,308.1 98.0,306.2 99.0,304.3 100.0,302.4 101.0,300.5 102.0,298.6 103.0,296.8 104.0,295.1 105.0,293.3 106.0,291.7 107.0,290.1 108.0,288.5 109.0,287.0 110.0,285.5 111.0,284.1 112.0,282.6 113.0,281.3 114.0,279.9 115.0,278.7 116.0,277.5 117.0,276.3 118.0,275.3 119.0,274.2 120.0,273.3 121.0,272.4 122.0,271.5 123.0,270.8 124.0,270.1 125.0,269.4 126.0,268.9 127.0,268.4 128.0,267.9 129.0,267.5 130.0,267.1 131.0,266.8 132.0,266.6 133.0,266.3 134.0,266.1 135.0,265.9 136.0,265.8 137.0,265.8 138.0,265.8 139.0,265.9 140.0,266.1 141.0,266.3 142.0,266.6 143.0,266.9 144.0,267.3 145.0,267.7 146.0,268.1 147.0,268.6 148.0,269.1 149.0,269.7 150.0,270.2 151.0,270.8 152.0,271.4 153.0,272.0 154.0,272.7 155.0,273.3 156.0,273.9 157.0,274.6 158.0,275.2 159.0,275.9 160.0,276.6 161.0,277.3 162.0,278.0 163.0,278.7 164.0,279.5 165.0,280.2 166.0,280.9 167.0,281.5 168.0,282.2 169.0,282.9 170.0,283.5 171.0,284.1 172.0,284.8 173.0,285.4 174.0,286.1 175.0,286.7 176.0,287.3 177.0,288.0 178.0,288.6 179.0,289.3 180.0,289.9 181.0,290.6 182.0,291.2 183.0,291.9 184.0,292.5 185.0,293.2 186.0,293.9 187.0,294.6 188.0,295.3 189.0,296.1 190.0,296.8 191.0,297.6 192.0,298.4 193.0,299.3 194.0,300.1 195.0,300.9 196.0,301.8 197.0,302.6 198.0,303.4 199.0,304.3 200.0,305.1 201.0,305.9 202.0,306.7 203.0,307.5 204.0,308.3 205.0,309.1 206.0,309.8 207.0,310.6 208.0,311.3 209.0,312.1 210.0,312.8 211.0,313.5 212.0,314.2 213.0,315.0 214.0,315.7 215.0,316.4 216.0,317.1 217.0,317.8 218.0,318.4 219.0,319.1 220.0,319.8 221.0,320.4 222.0,321.0 223.0,321.7 224.0,322.3 225.0,322.9 226.0,323.5 227.0,324.2 228.0,324.8 229.0,325.5 230.0,326.2 231.0,326.9 232.0,327.6 233.0,328.3 234.0,329.0 235.0,329.6 236.0,330.3 237.0,330.8 238.0,331.4 239.0,332.0 240.0,332.5 241.0,333.0 242.0,333.6 243.0,334.1 244.0,334.6 245.0,335.1 246.0,335.7 247.0,336.2 248.0,336.7 249.0,337.3 250.0,337.8 251.0,338.4 252.0,338.9 253.0,339.4 254.0,340.0 255.0,340.5 256.0,341.0 257.0,341.6 258.0,342.1 259.0,342.6 260.0,343.1 261.0,343.6 262.0,344.0 263.0,344.5 264.0,345.0 265.0,345.4 266.0,345.9 267.0,346.3 268.0,346.7 269.0,347.2 270.0,347.6 271.0,348.0 272.0,348.4 273.0,348.8 274.0,349.2 275.0,349.6 276.0,350.0 277.0,350.3 278.0,350.7 279.0,351.0 280.0,351.4 281.0,351.7 282.0,352.0 283.0,352.3 284.0,352.6 285.0,352.9 286.0,353.1 287.0,353.4 288.0,353.7 289.0,353.9 290.0,354.2 291.0,354.4 292.0,354.6 293.0,354.9 294.0,355.1 295.0,355.3 296.0,355.5 297.0,355.8 298.0,356.0 299.0,356.2 300.0,356.4 301.0,356.6 302.0,356.8 303.0,357.0 304.0,357.2 305.0,357.4 306.0,357.6 307.0,357.8 308.0,358.0 309.0,358.2 310.0,358.4 311.0,358.5 312.0,358.7 313.0,358.8 314.0,359.0 315.0,359.1 316.0,359.2 317.0,359.3 318.0,359.3 319.0,359.4 320.0,359.5 321.0,359.6 322.0,359.7 323.0,359.7 324.0,359.8 325.0,359.9 326.0,359.9 327.0,360.0 328.0,360.0 329.0,360.1 330.0,360.1 331.0,360.1 332.0,360.2 333.0,360.2 334.0,360.2 335.0,360.2 336.0,360.2 337.0,360.2 338.0,360.1 339.0,360.1 340.0,360.1 341.0,360.0 342.0,360.0 343.0,359.9 344.0,359.9 345.0,359.9 346.0,359.8 347.0,359.8 348.0,359.7 349.0,359.7 350.0,359.6 351.0,359.6 352.0,359.5 353.0,359.5 354.0,359.5 355.0,359.4 356.0,359.4 357.0,359.3 358.0,359.3 359.0,359.2 360.0,359.2 361.0,359.1 362.0,359.0 363.0,359.0 364.0,358.9 365.0,358.9 366.0,358.8 367.0,358.8 368.0,358.7 369.0,358.6 370.0,358.6 371.0,358.5 372.0,358.4 373.0,358.4 374.0,358.3 375.0,358.2 376.0,358.1 377.0,358.1 378.0,358.0 379.0,357.9 380.0,357.8 381.0,357.7 382.0,357.6 383.0,357.5 384.0,357.5 385.0,357.4 386.0,357.3 387.0,357.2 388.0,357.1 389.0,357.0 390.0,356.9 391.0,356.8 392.0,356.7 393.0,356.6 394.0,356.5 395.0,356.4 396.0,356.3 397.0,356.2 398.0,356.1 399.0,356.0 400.0,355.9 401.0,355.8 402.0,355.7 403.0,355.6 404.0,355.5 405.0,355.4 406.0,355.2 407.0,355.1 408.0,355.0 409.0,354.9 410.0,354.8 411.0,354.7 412.0,354.6 413.0,354.5 414.0,354.4 415.0,354.2 416.0,354.1 417.0,354.0 418.0,353.9 419.0,353.8 420.0,353.7 421.0,353.6 422.0,353.5 423.0,353.4 424.0,353.3 425.0,353.2 426.0,353.1 427.0,353.0 428.0,352.9 429.0,352.8 430.0,352.7 431.0,352.6 432.0,352.5 433.0,352.4 434.0,352.3 435.0,352.2 436.0,352.2 437.0,352.1 438.0,352.0 439.0,351.9 440.0,351.8 441.0,351.7 442.0,351.6 443.0,351.5 444.0,351.4 445.0,351.3 446.0,351.2 447.0,351.2 448.0,351.1 449.0,351.0 450.0,350.9 451.0,350.8 452.0,350.8 453.0,350.7 454.0,350.6 455.0,350.5 456.0,350.5 457.0,350.4 458.0,350.3 459.0,350.3 460.0,350.2 461.0,350.1 462.0,350.1 463.0,350.0 464.0,350.0 465.0,349.9 466.0,349.8 467.0,349.8 468.0,349.7 469.0,349.7 470.0,349.6 471.0,349.5 472.0,349.5 473.0,349.4 474.0,349.4 475.0,349.3 476.0,349.3 477.0,349.2 478.0,349.2 479.0,349.1 480.0,349.1 481.0,349.0 482.0,349.0 483.0,348.9 484.0,348.9 485.0,348.8 486.0,348.8 487.0,348.8 488.0,348.7 489.0,348.7 490.0,348.7 491.0,348.6 492.0,348.6 493.0,348.6 494.0,348.5 495.0,348.5 496.0,348.5 497.0,348.4 498.0,348.4 499.0,348.4 500.0,348.4 501.0,348.3 502.0,348.3 503.0,348.3 504.0,348.3 505.0,348.3 506.0,348.2 507.0,348.2 508.0,348.2 509.0,348.2 510.0,348.1 511.0,348.1 512.0,348.1 513.0,348.1 514.0,348.1 515.0,348.0 516.0,348.0 517.0,348.0 518.0,348.0 519.0,348.0 520.0,348.0 521.0,348.0 522.0,347.9 523.0,347.9 524.0,347.9 525.0,347.9 526.0,347.9 527.0,347.9 528.0,347.9 529.0,347.9 530.0,347.9 531.0,347.9 532.0,347.9 533.0,347.9 534.0,347.9 535.0,347.9 536.0,347.9 537.0,348.0 538.0,348.0 539.0,348.0 540.0,348.0 541.0,348.0 542.0,348.1 543.0,348.1 544.0,348.1 545.0,348.1 546.0,348.2 547.0,348.2 548.0,348.2 549.0,348.2 550.0,348.3 551.0,348.3 552.0,348.3 553.0,348.4 554.0,348.4 555.0,348.5 556.0,348.5 557.0,348.5 558.0,348.6 559.0,348.6 560.0,348.7 561.0,348.8 562.0,348.8 563.0,348.9 564.0,349.0 565.0,349.1 566.0,349.2 567.0,349.3 568.0,349.4 569.0,349.5 570.0,349.6 571.0,349.7 572.0,349.8 573.0,349.9 574.0,350.0 575.0,350.2 576.0,350.3 577.0,350.4 578.0,350.5 579.0,350.6 580.0,350.8 581.0,350.9 582.0,351.0 583.0,351.2 584.0,351.3 585.0,351.4 586.0,351.6 587.0,351.7 588.0,351.9 589.0,352.0 590.0,352.2 591.0,352.3 592.0,352.5 593.0,352.7 594.0,352.8 595.0,353.0 596.0,353.2 597.0,353.4 598.0,353.5 599.0,353.7 600.0,353.9 601.0,354.1 602.0,354.3 603.0,354.5 604.0,354.7 605.0,354.8 606.0,355.0 607.0,355.2 608.0,355.4 609.0,355.6 610.0,355.8 611.0,356.0 612.0,356.2 613.0,356.4 614.0,356.6 615.0,356.9 616.0,357.1 617.0,357.3 618.0,357.5 619.0,357.8 620.0,358.0 621.0,358.2 622.0,358.4 623.0,358.7 624.0,358.9 625.0,359.1 626.0,359.4 627.0,359.6 628.0,359.8 629.0,360.1 630.0,360.3 631.0,360.5 632.0,360.7 633.0,360.9 634.0,361.2 635.0,361.4 636.0,361.6 637.0,361.8 638.0,362.0 639.0,362.2 640.0,362.4 641.0,362.6 642.0,362.8 643.0,363.0 644.0,363.2 645.0,363.4 646.0,363.6 647.0,363.8 648.0,364.0 649.0,364.3 650.0,364.5 651.0,364.7 652.0,364.9 653.0,365.2 654.0,365.4 655.0,365.6 656.0,365.8 657.0,366.1 658.0,366.3 659.0,366.5 660.0,366.7 661.0,366.9 662.0,367.1 663.0,367.3 664.0,367.4 665.0,367.6 666.0,367.8 667.0,368.0 668.0,368.1 669.0,368.3 670.0,368.5 671.0,368.6 672.0,368.8 673.0,369.0 674.0,369.1 675.0,369.3 676.0,369.4 677.0,369.6 678.0,369.7 679.0,369.9 680.0,370.1 681.0,370.2 682.0,370.4 683.0,370.5 684.0,370.7 685.0,370.8 686.0,371.0 687.0,371.2 688.0,371.3 689.0,371.5 690.0,371.6 691.0,371.8 692.0,371.9 693.0,372.1 694.0,372.2 695.0,372.4 696.0,372.5 697.0,372.7 698.0,372.8 699.0,372.9 700.0,373.1 701.0,373.2 702.0,373.4 703.0,373.5 704.0,373.7 705.0,373.8 706.0,373.9 707.0,374.1 708.0,374.2 709.0,374.3 710.0,374.5 711.0,374.6 712.0,374.8 713.0,374.9 714.0,375.0 715.0,375.2 716.0,375.3 717.0,375.4 718.0,375.6 719.0,375.7 720.0,375.8 721.0,376.0 722.0,376.1 723.0,376.2 724.0,376.3 725.0,376.5 726.0,376.6 727.0,376.7 728.0,376.8 729.0,376.9 730.0,377.0 731.0,377.2 732.0,377.3 733.0,377.4 734.0,377.5 735.0,377.6 736.0,377.7 737.0,377.8 738.0,377.9 739.0,377.9 740.0,378.0 741.0,378.1 742.0,378.2 743.0,378.3 744.0,378.4 745.0,378.5 746.0,378.6 747.0,378.6 748.0,378.7 749.0,378.8 750.0,378.9 751.0,379.0 752.0,379.0 753.0,379.1 754.0,379.2 755.0,379.3 756.0,379.3 757.0,379.4 758.0,379.5 759.0,379.5 760.0,379.6 761.0,379.6 762.0,379.7 763.0,379.7 764.0,379.8 765.0,379.8 766.0,379.9 767.0,379.9 768.0,380.0 769.0,380.0 770.0,380.1 771.0,380.1 772.0,380.2 773.0,380.2 774.0,380.2 775.0,380.3 776.0,380.3 777.0,380.4 778.0,380.4 779.0,380.4 780.0,380.5 781.0,380.5 782.0,380.5 783.0,380.6 784.0,380.6 785.0,380.6 786.0,380.7 787.0,380.7 788.0,380.7 789.0,380.7 790.0,380.7 791.0,380.8 792.0,380.8 793.0,380.8 794.0,380.8 795.0,380.8 796.0,380.8 797.0,380.9 798.0,380.9 799.0,380.9 800.0,380.9 801.0,380.9 802.0,380.9 803.0,380.9 804.0,380.9 805.0,380.9 806.0,380.9 807.0,381.0 808.0,381.0 809.0,381.0 810.0,381.0 811.0,381.0 812.0,381.0 813.0,381.0 814.0,381.0 815.0,381.0 816.0,381.0 817.0,381.0 818.0,381.0 819.0,381.0 820.0,381.1 821.0,381.1 822.0,381.1 823.0,381.1 824.0,381.1 825.0,381.1 826.0,381.1 827.0,381.1 828.0,381.1 829.0,381.1 830.0,381.1 831.0,381.1 832.0,381.1 833.0,381.1 834.0,381.1 835.0,381.1 836.0,381.1 837.0,381.1 838.0,381.1 839.0,381.1 840.0,381.1 841.0,381.1 842.0,381.1 843.0,381.1 844.0,381.1 845.0,381.1 846.0,381.2 847.0,381.2 848.0,381.2 849.0,381.2 850.0,381.2 851.0,381.2 852.0,381.2 853.0,381.2 854.0,381.2 855.0,381.2 856.0,381.2 857.0,381.2 858.0,381.2 859.0,381.2 860.0,381.2 861.0,381.2 862.0,381.2 863.0,381.2 864.0,381.2 865.0,381.2 866.0,381.2 867.0,381.2 868.0,381.2 869.0,381.2 870.0,381.2 871.0,381.2 872.0,381.2 873.0,381.2 874.0,381.2 875.0,381.2 876.0,381.2 L876.0,381.8 Z" fill="url(#g2)" fill-opacity="0.90"/>
<polyline points="7.0,381.2 8.0,381.2 9.0,381.1 10.0,381.1 11.0,381.0 12.0,381.0 13.0,380.9 14.0,380.8 15.0,380.7 16.0,380.6 17.0,380.5 18.0,380.4 19.0,380.3 20.0,380.1 21.0,380.0 22.0,379.8 23.0,379.7 24.0,379.5 25.0,379.3 26.0,379.1 27.0,378.8 28.0,378.6 29.0,378.4 30.0,378.1 31.0,377.9 32.0,377.6 33.0,377.3 34.0,377.0 35.0,376.7 36.0,376.4 37.0,376.0 38.0,375.7 39.0,375.3 40.0,374.9 41.0,374.5 42.0,374.0 43.0,373.6 44.0,373.1 45.0,372.5 46.0,371.9 47.0,371.3 48.0,370.7 49.0,370.0 50.0,369.3 51.0,368.5 52.0,367.7 53.0,366.8 54.0,365.9 55.0,365.0 56.0,364.1 57.0,363.2 58.0,362.2 59.0,361.2 60.0,360.2 61.0,359.1 62.0,358.1 63.0,356.9 64.0,355.8 65.0,354.7 66.0,353.5 67.0,352.3 68.0,351.1 69.0,349.8 70.0,348.6 71.0,347.3 72.0,346.0 73.0,344.7 74.0,343.4 75.0,342.1 76.0,340.7 77.0,339.4 78.0,338.0 79.0,336.6 80.0,335.2 81.0,333.8 82.0,332.3 83.0,330.9 84.0,329.5 85.0,328.0 86.0,326.5 87.0,325.1 88.0,323.6 89.0,322.0 90.0,320.4 91.0,318.8 92.0,317.1 93.0,315.4 94.0,313.6 95.0,311.8 96.0,310.0 97.0,308.1 98.0,306.2 99.0,304.3 100.0,302.4 101.0,300.5 102.0,298.6 103.0,296.8 104.0,295.1 105.0,293.3 106.0,291.7 107.0,290.1 108.0,288.5 109.0,287.0 110.0,285.5 111.0,284.1 112.0,282.6 113.0,281.3 114.0,279.9 115.0,278.7 116.0,277.5 117.0,276.3 118.0,275.3 119.0,274.2 120.0,273.3 121.0,272.4 122.0,271.5 123.0,270.8 124.0,270.1 125.0,269.4 126.0,268.9 127.0,268.4 128.0,267.9 129.0,267.5 130.0,267.1 131.0,266.8 132.0,266.6 133.0,266.3 134.0,266.1 135.0,265.9 136.0,265.8 137.0,265.8 138.0,265.8 139.0,265.9 140.0,266.1 141.0,266.3 142.0,266.6 143.0,266.9 144.0,267.3 145.0,267.7 146.0,268.1 147.0,268.6 148.0,269.1 149.0,269.7 150.0,270.2 151.0,270.8 152.0,271.4 153.0,272.0 154.0,272.7 155.0,273.3 156.0,273.9 157.0,274.6 158.0,275.2 159.0,275.9 160.0,276.6 161.0,277.3 162.0,278.0 163.0,278.7 164.0,279.5 165.0,280.2 166.0,280.9 167.0,281.5 168.0,282.2 169.0,282.9 170.0,283.5 171.0,284.1 172.0,284.8 173.0,285.4 174.0,286.1 175.0,286.7 176.0,287.3 177.0,288.0 178.0,288.6 179.0,289.3 180.0,289.9 181.0,290.6 182.0,291.2 183.0,291.9 184.0,292.5 185.0,293.2 186.0,293.9 187.0,294.6 188.0,295.3 189.0,296.1 190.0,296.8 191.0,297.6 192.0,298.4 193.0,299.3 194.0,300.1 195.0,300.9 196.0,301.8 197.0,302.6 198.0,303.4 199.0,304.3 200.0,305.1 201.0,305.9 202.0,306.7 203.0,307.5 204.0,308.3 205.0,309.1 206.0,309.8 207.0,310.6 208.0,311.3 209.0,312.1 210.0,312.8 211.0,313.5 212.0,314.2 213.0,315.0 214.0,315.7 215.0,316.4 216.0,317.1 217.0,317.8 218.0,318.4 219.0,319.1 220.0,319.8 221.0,320.4 222.0,321.0 223.0,321.7 224.0,322.3 225.0,322.9 226.0,323.5 227.0,324.2 228.0,324.8 229.0,325.5 230.0,326.2 231.0,326.9 232.0,327.6 233.0,328.3 234.0,329.0 235.0,329.6 236.0,330.3 237.0,330.8 238.0,331.4 239.0,332.0 240.0,332.5 241.0,333.0 242.0,333.6 243.0,334.1 244.0,334.6 245.0,335.1 246.0,335.7 247.0,336.2 248.0,336.7 249.0,337.3 250.0,337.8 251.0,338.4 252.0,338.9 253.0,339.4 254.0,340.0 255.0,340.5 256.0,341.0 257.0,341.6 258.0,342.1 259.0,342.6 260.0,343.1 261.0,343.6 262.0,344.0 263.0,344.5 264.0,345.0 265.0,345.4 266.0,345.9 267.0,346.3 268.0,346.7 269.0,347.2 270.0,347.6 271.0,348.0 272.0,348.4 273.0,348.8 274.0,349.2 275.0,349.6 276.0,350.0 277.0,350.3 278.0,350.7 279.0,351.0 280.0,351.4 281.0,351.7 282.0,352.0 283.0,352.3 284.0,352.6 285.0,352.9 286.0,353.1 287.0,353.4 288.0,353.7 289.0,353.9 290.0,354.2 291.0,354.4 292.0,354.6 293.0,354.9 294.0,355.1 295.0,355.3 296.0,355.5 297.0,355.8 298.0,356.0 299.0,356.2 300.0,356.4 301.0,356.6 302.0,356.8 303.0,357.0 304.0,357.2 305.0,357.4 306.0,357.6 307.0,357.8 308.0,358.0 309.0,358.2 310.0,358.4 311.0,358.5 312.0,358.7 313.0,358.8 314.0,359.0 315.0,359.1 316.0,359.2 317.0,359.3 318.0,359.3 319.0,359.4 320.0,359.5 321.0,359.6 322.0,359.7 323.0,359.7 324.0,359.8 325.0,359.9 326.0,359.9 327.0,360.0 328.0,360.0 329.0,360.1 330.0,360.1 331.0,360.1 332.0,360.2 333.0,360.2 334.0,360.2 335.0,360.2 336.0,360.2 337.0,360.2 338.0,360.1 339.0,360.1 340.0,360.1 341.0,360.0 342.0,360.0 343.0,359.9 344.0,359.9 345.0,359.9 346.0,359.8 347.0,359.8 348.0,359.7 349.0,359.7 350.0,359.6 351.0,359.6 352.0,359.5 353.0,359.5 354.0,359.5 355.0,359.4 356.0,359.4 357.0,359.3 358.0,359.3 359.0,359.2 360.0,359.2 361.0,359.1 362.0,359.0 363.0,359.0 364.0,358.9 365.0,358.9 366.0,358.8 367.0,358.8 368.0,358.7 369.0,358.6 370.0,358.6 371.0,358.5 372.0,358.4 373.0,358.4 374.0,358.3 375.0,358.2 376.0,358.1 377.0,358.1 378.0,358.0 379.0,357.9 380.0,357.8 381.0,357.7 382.0,357.6 383.0,357.5 384.0,357.5 385.0,357.4 386.0,357.3 387.0,357.2 388.0,357.1 389.0,357.0 390.0,356.9 391.0,356.8 392.0,356.7 393.0,356.6 394.0,356.5 395.0,356.4 396.0,356.3 397.0,356.2 398.0,356.1 399.0,356.0 400.0,355.9 401.0,355.8 402.0,355.7 403.0,355.6 404.0,355.5 405.0,355.4 406.0,355.2 407.0,355.1 408.0,355.0 409.0,354.9 410.0,354.8 411.0,354.7 412.0,354.6 413.0,354.5 414.0,354.4 415.0,354.2 416.0,354.1 417.0,354.0 418.0,353.9 419.0,353.8 420.0,353.7 421.0,353.6 422.0,353.5 423.0,353.4 424.0,353.3 425.0,353.2 426.0,353.1 427.0,353.0 428.0,352.9 429.0,352.8 430.0,352.7 431.0,352.6 432.0,352.5 433.0,352.4 434.0,352.3 435.0,352.2 436.0,352.2 437.0,352.1 438.0,352.0 439.0,351.9 440.0,351.8 441.0,351.7 442.0,351.6 443.0,351.5 444.0,351.4 445.0,351.3 446.0,351.2 447.0,351.2 448.0,351.1 449.0,351.0 450.0,350.9 451.0,350.8 452.0,350.8 453.0,350.7 454.0,350.6 455.0,350.5 456.0,350.5 457.0,350.4 458.0,350.3 459.0,350.3 460.0,350.2 461.0,350.1 462.0,350.1 463.0,350.0 464.0,350.0 465.0,349.9 466.0,349.8 467.0,349.8 468.0,349.7 469.0,349.7 470.0,349.6 471.0,349.5 472.0,349.5 473.0,349.4 474.0,349.4 475.0,349.3 476.0,349.3 477.0,349.2 478.0,349.2 479.0,349.1 480.0,349.1 481.0,349.0 482.0,349.0 483.0,348.9 484.0,348.9 485.0,348.8 486.0,348.8 487.0,348.8 488.0,348.7 489.0,348.7 490.0,348.7 491.0,348.6 492.0,348.6 493.0,348.6 494.0,348.5 495.0,348.5 496.0,348.5 497.0,348.4 498.0,348.4 499.0,348.4 500.0,348.4 501.0,348.3 502.0,348.3 503.0,348.3 504.0,348.3 505.0,348.3 506.0,348.2 507.0,348.2 508.0,348.2 509.0,348.2 510.0,348.1 511.0,348.1 512.0,348.1 513.0,348.1 514.0,348.1 515.0,348.0 516.0,348.0 517.0,348.0 518.0,348.0 519.0,348.0 520.0,348.0 521.0,348.0 522.0,347.9 523.0,347.9 524.0,347.9 525.0,347.9 526.0,347.9 527.0,347.9 528.0,347.9 529.0,347.9 530.0,347.9 531.0,347.9 532.0,347.9 533.0,347.9 534.0,347.9 535.0,347.9 536.0,347.9 537.0,348.0 538.0,348.0 539.0,348.0 540.0,348.0 541.0,348.0 542.0,348.1 543.0,348.1 544.0,348.1 545.0,348.1 546.0,348.2 547.0,348.2 548.0,348.2 549.0,348.2 550.0,348.3 551.0,348.3 552.0,348.3 553.0,348.4 554.0,348.4 555.0,348.5 556.0,348.5 557.0,348.5 558.0,348.6 559.0,348.6 560.0,348.7 561.0,348.8 562.0,348.8 563.0,348.9 564.0,349.0 565.0,349.1 566.0,349.2 567.0,349.3 568.0,349.4 569.0,349.5 570.0,349.6 571.0,349.7 572.0,349.8 573.0,349.9 574.0,350.0 575.0,350.2 576.0,350.3 577.0,350.4 578.0,350.5 579.0,350.6 580.0,350.8 581.0,350.9 582.0,351.0 583.0,351.2 584.0,351.3 585.0,351.4 586.0,351.6 587.0,351.7 588.0,351.9 589.0,352.0 590.0,352.2 591.0,352.3 592.0,352.5 593.0,352.7 594.0,352.8 595.0,353.0 596.0,353.2 597.0,353.4 598.0,353.5 599.0,353.7 600.0,353.9 601.0,354.1 602.0,354.3 603.0,354.5 604.0,354.7 605.0,354.8 606.0,355.0 607.0,355.2 608.0,355.4 609.0,355.6 610.0,355.8 611.0,356.0 612.0,356.2 613.0,356.4 614.0,356.6 615.0,356.9 616.0,357.1 617.0,357.3 618.0,357.5 619.0,357.8 620.0,358.0 621.0,358.2 622.0,358.4 623.0,358.7 624.0,358.9 625.0,359.1 626.0,359.4 627.0,359.6 628.0,359.8 629.0,360.1 630.0,360.3 631.0,360.5 632.0,360.7 633.0,360.9 634.0,361.2 635.0,361.4 636.0,361.6 637.0,361.8 638.0,362.0 639.0,362.2 640.0,362.4 641.0,362.6 642.0,362.8 643.0,363.0 644.0,363.2 645.0,363.4 646.0,363.6 647.0,363.8 648.0,364.0 649.0,364.3 650.0,364.5 651.0,364.7 652.0,364.9 653.0,365.2 654.0,365.4 655.0,365.6 656.0,365.8 657.0,366.1 658.0,366.3 659.0,366.5 660.0,366.7 661.0,366.9 662.0,367.1 663.0,367.3 664.0,367.4 665.0,367.6 666.0,367.8 667.0,368.0 668.0,368.1 669.0,368.3 670.0,368.5 671.0,368.6 672.0,368.8 673.0,369.0 674.0,369.1 675.0,369.3 676.0,369.4 677.0,369.6 678.0,369.7 679.0,369.9 680.0,370.1 681.0,370.2 682.0,370.4 683.0,370.5 684.0,370.7 685.0,370.8 686.0,371.0 687.0,371.2 688.0,371.3 689.0,371.5 690.0,371.6 691.0,371.8 692.0,371.9 693.0,372.1 694.0,372.2 695.0,372.4 696.0,372.5 697.0,372.7 698.0,372.8 699.0,372.9 700.0,373.1 701.0,373.2 702.0,373.4 703.0,373.5 704.0,373.7 705.0,373.8 706.0,373.9 707.0,374.1 708.0,374.2 709.0,374.3 710.0,374.5 711.0,374.6 712.0,374.8 713.0,374.9 714.0,375.0 715.0,375.2 716.0,375.3 717.0,375.4 718.0,375.6 719.0,375.7 720.0,375.8 721.0,376.0 722.0,376.1 723.0,376.2 724.0,376.3 725.0,376.5 726.0,376.6 727.0,376.7 728.0,376.8 729.0,376.9 730.0,377.0 731.0,377.2 732.0,377.3 733.0,377.4 734.0,377.5 735.0,377.6 736.0,377.7 737.0,377.8 738.0,377.9 739.0,377.9 740.0,378.0 741.0,378.1 742.0,378.2 743.0,378.3 744.0,378.4 745.0,378.5 746.0,378.6 747.0,378.6 748.0,378.7 749.0,378.8 750.0,378.9 751.0,379.0 752.0,379.0 753.0,379.1 754.0,379.2 755.0,379.3 756.0,379.3 757.0,379.4 758.0,379.5 759.0,379.5 760.0,379.6 761.0,379.6 762.0,379.7 763.0,379.7 764.0,379.8 765.0,379.8 766.0,379.9 767.0,379.9 768.0,380.0 769.0,380.0 770.0,380.1 771.0,380.1 772.0,380.2 773.0,380.2 774.0,380.2 775.0,380.3 776.0,380.3 777.0,380.4 778.0,380.4 779.0,380.4 780.0,380.5 781.0,380.5 782.0,380.5 783.0,380.6 784.0,380.6 785.0,380.6 786.0,380.7 787.0,380.7 788.0,380.7 789.0,380.7 790.0,380.7 791.0,380.8 792.0,380.8 793.0,380.8 794.0,380.8 795.0,380.8 796.0,380.8 797.0,380.9 798.0,380.9 799.0,380.9 800.0,380.9 801.0,380.9 802.0,380.9 803.0,380.9 804.0,380.9 805.0,380.9 806.0,380.9 807.0,381.0 808.0,381.0 809.0,381.0 810.0,381.0 811.0,381.0 812.0,381.0 813.0,381.0 814.0,381.0 815.0,381.0 816.0,381.0 817.0,381.0 818.0,381.0 819.0,381.0 820.0,381.1 821.0,381.1 822.0,381.1 823.0,381.1 824.0,381.1 825.0,381.1 826.0,381.1 827.0,381.1 828.0,381.1 829.0,381.1 830.0,381.1 831.0,381.1 832.0,381.1 833.0,381.1 834.0,381.1 835.0,381.1 836.0,381.1 837.0,381.1 838.0,381.1 839.0,381.1 840.0,381.1 841.0,381.1 842.0,381.1 843.0,381.1 844.0,381.1 845.0,381.1 846.0,381.2 847.0,381.2 848.0,381.2 849.0,381.2 850.0,381.2 851.0,381.2 852.0,381.2 853.0,381.2 854.0,381.2 855.0,381.2 856.0,381.2 857.0,381.2 858.0,381.2 859.0,381.2 860.0,381.2 861.0,381.2 862.0,381.2 863.0,381.2 864.0,381.2 865.0,381.2 866.0,381.2 867.0,381.2 868.0,381.2 869.0,381.2 870.0,381.2 871.0,381.2 872.0,381.2 873.0,381.2 874.0,381.2 875.0,381.2 876.0,381.2" fill="none" stroke="#0d0d12" stroke-width="1.1" stroke-opacity="0.9"/>
</g>
<g>
<line x1="0" y1="480.6" x2="889.0" y2="480.6" stroke="#d4d4d4" stroke-width="1.2"/>
<path d="M41.0,481.2 L41.0,480.6 42.0,480.6 43.0,480.6 44.0,480.6 45.0,480.6 46.0,480.6 47.0,480.6 48.0,480.6 49.0,480.6 50.0,480.5 51.0,480.5 52.0,480.5 53.0,480.5 54.0,480.5 55.0,480.5 56.0,480.5 57.0,480.4 58.0,480.4 59.0,480.4 60.0,480.4 61.0,480.4 62.0,480.4 63.0,480.3 64.0,480.3 65.0,480.3 66.0,480.2 67.0,480.2 68.0,480.1 69.0,480.1 70.0,480.0 71.0,480.0 72.0,479.9 73.0,479.8 74.0,479.8 75.0,479.7 76.0,479.5 77.0,479.4 78.0,479.2 79.0,478.9 80.0,478.7 81.0,478.4 82.0,478.1 83.0,477.8 84.0,477.4 85.0,477.1 86.0,476.7 87.0,476.3 88.0,475.8 89.0,475.3 90.0,474.8 91.0,474.2 92.0,473.5 93.0,472.8 94.0,472.1 95.0,471.3 96.0,470.5 97.0,469.6 98.0,468.6 99.0,467.6 100.0,466.5 101.0,465.3 102.0,464.1 103.0,462.8 104.0,461.4 105.0,460.0 106.0,458.5 107.0,456.9 108.0,455.2 109.0,453.5 110.0,451.7 111.0,449.9 112.0,447.9 113.0,446.0 114.0,443.9 115.0,441.9 116.0,439.8 117.0,437.7 118.0,435.5 119.0,433.3 120.0,431.1 121.0,429.0 122.0,426.8 123.0,424.5 124.0,422.0 125.0,419.4 126.0,416.5 127.0,413.5 128.0,410.3 129.0,407.1 130.0,403.9 131.0,400.7 132.0,397.6 133.0,394.5 134.0,391.5 135.0,388.5 136.0,385.5 137.0,382.4 138.0,379.4 139.0,376.4 140.0,373.4 141.0,370.4 142.0,367.5 143.0,364.8 144.0,362.1 145.0,359.5 146.0,356.9 147.0,354.3 148.0,351.7 149.0,349.1 150.0,346.5 151.0,343.9 152.0,341.4 153.0,338.9 154.0,336.4 155.0,334.0 156.0,331.7 157.0,329.6 158.0,327.5 159.0,325.6 160.0,323.8 161.0,322.3 162.0,320.9 163.0,319.8 164.0,318.8 165.0,318.1 166.0,317.6 167.0,317.2 168.0,316.9 169.0,316.8 170.0,316.7 171.0,316.8 172.0,317.0 173.0,317.4 174.0,317.8 175.0,318.5 176.0,319.2 177.0,320.2 178.0,321.3 179.0,322.5 180.0,323.8 181.0,325.2 182.0,326.8 183.0,328.3 184.0,330.0 185.0,331.7 186.0,333.5 187.0,335.3 188.0,337.2 189.0,339.1 190.0,341.1 191.0,343.2 192.0,345.3 193.0,347.5 194.0,349.6 195.0,351.8 196.0,354.1 197.0,356.3 198.0,358.7 199.0,361.0 200.0,363.5 201.0,366.0 202.0,368.5 203.0,370.9 204.0,373.4 205.0,375.7 206.0,377.9 207.0,380.1 208.0,382.2 209.0,384.2 210.0,386.2 211.0,388.2 212.0,390.1 213.0,392.0 214.0,393.9 215.0,395.7 216.0,397.5 217.0,399.3 218.0,401.1 219.0,402.9 220.0,404.7 221.0,406.5 222.0,408.2 223.0,409.9 224.0,411.4 225.0,412.9 226.0,414.3 227.0,415.6 228.0,416.8 229.0,418.0 230.0,419.1 231.0,420.2 232.0,421.2 233.0,422.1 234.0,423.1 235.0,423.9 236.0,424.7 237.0,425.5 238.0,426.2 239.0,427.0 240.0,427.6 241.0,428.3 242.0,428.9 243.0,429.5 244.0,430.0 245.0,430.5 246.0,431.0 247.0,431.4 248.0,431.8 249.0,432.1 250.0,432.4 251.0,432.8 252.0,433.0 253.0,433.3 254.0,433.6 255.0,433.9 256.0,434.1 257.0,434.3 258.0,434.6 259.0,434.8 260.0,435.0 261.0,435.2 262.0,435.4 263.0,435.6 264.0,435.8 265.0,436.0 266.0,436.1 267.0,436.3 268.0,436.5 269.0,436.8 270.0,437.0 271.0,437.2 272.0,437.4 273.0,437.7 274.0,437.9 275.0,438.2 276.0,438.5 277.0,438.7 278.0,439.0 279.0,439.3 280.0,439.6 281.0,439.9 282.0,440.3 283.0,440.6 284.0,441.0 285.0,441.4 286.0,441.8 287.0,442.2 288.0,442.6 289.0,443.0 290.0,443.4 291.0,443.8 292.0,444.2 293.0,444.6 294.0,445.0 295.0,445.5 296.0,445.9 297.0,446.3 298.0,446.7 299.0,447.2 300.0,447.6 301.0,448.0 302.0,448.3 303.0,448.7 304.0,449.0 305.0,449.4 306.0,449.7 307.0,450.0 308.0,450.3 309.0,450.6 310.0,450.9 311.0,451.1 312.0,451.3 313.0,451.5 314.0,451.7 315.0,451.8 316.0,451.9 317.0,452.0 318.0,452.1 319.0,452.1 320.0,452.2 321.0,452.2 322.0,452.2 323.0,452.3 324.0,452.3 325.0,452.3 326.0,452.3 327.0,452.2 328.0,452.2 329.0,452.1 330.0,452.1 331.0,451.9 332.0,451.8 333.0,451.7 334.0,451.5 335.0,451.3 336.0,451.1 337.0,450.9 338.0,450.7 339.0,450.5 340.0,450.3 341.0,450.0 342.0,449.8 343.0,449.6 344.0,449.3 345.0,449.1 346.0,448.8 347.0,448.6 348.0,448.3 349.0,448.0 350.0,447.7 351.0,447.4 352.0,447.0 353.0,446.7 354.0,446.3 355.0,446.0 356.0,445.6 357.0,445.3 358.0,444.9 359.0,444.6 360.0,444.2 361.0,443.9 362.0,443.6 363.0,443.2 364.0,442.9 365.0,442.5 366.0,442.1 367.0,441.8 368.0,441.4 369.0,441.0 370.0,440.7 371.0,440.3 372.0,439.9 373.0,439.6 374.0,439.2 375.0,438.9 376.0,438.6 377.0,438.3 378.0,438.0 379.0,437.7 380.0,437.4 381.0,437.1 382.0,436.8 383.0,436.5 384.0,436.3 385.0,436.0 386.0,435.8 387.0,435.5 388.0,435.3 389.0,435.1 390.0,434.9 391.0,434.7 392.0,434.5 393.0,434.4 394.0,434.3 395.0,434.1 396.0,434.0 397.0,433.9 398.0,433.8 399.0,433.7 400.0,433.6 401.0,433.5 402.0,433.4 403.0,433.4 404.0,433.4 405.0,433.3 406.0,433.4 407.0,433.4 408.0,433.5 409.0,433.6 410.0,433.7 411.0,433.8 412.0,433.9 413.0,434.1 414.0,434.2 415.0,434.4 416.0,434.6 417.0,434.7 418.0,434.9 419.0,435.1 420.0,435.3 421.0,435.6 422.0,435.8 423.0,436.1 424.0,436.4 425.0,436.7 426.0,437.0 427.0,437.3 428.0,437.6 429.0,437.9 430.0,438.1 431.0,438.4 432.0,438.6 433.0,438.9 434.0,439.1 435.0,439.3 436.0,439.5 437.0,439.7 438.0,439.9 439.0,440.1 440.0,440.3 441.0,440.5 442.0,440.6 443.0,440.8 444.0,440.9 445.0,441.1 446.0,441.2 447.0,441.3 448.0,441.3 449.0,441.4 450.0,441.4 451.0,441.5 452.0,441.5 453.0,441.5 454.0,441.5 455.0,441.5 456.0,441.5 457.0,441.6 458.0,441.6 459.0,441.6 460.0,441.6 461.0,441.6 462.0,441.6 463.0,441.6 464.0,441.7 465.0,441.7 466.0,441.7 467.0,441.7 468.0,441.7 469.0,441.8 470.0,441.8 471.0,441.8 472.0,441.8 473.0,441.9 474.0,441.9 475.0,441.9 476.0,442.0 477.0,442.0 478.0,442.0 479.0,442.1 480.0,442.1 481.0,442.2 482.0,442.2 483.0,442.3 484.0,442.3 485.0,442.4 486.0,442.5 487.0,442.6 488.0,442.7 489.0,442.8 490.0,442.9 491.0,443.1 492.0,443.2 493.0,443.4 494.0,443.5 495.0,443.7 496.0,443.9 497.0,444.1 498.0,444.3 499.0,444.5 500.0,444.7 501.0,444.9 502.0,445.1 503.0,445.4 504.0,445.6 505.0,445.9 506.0,446.2 507.0,446.4 508.0,446.7 509.0,447.0 510.0,447.3 511.0,447.6 512.0,447.9 513.0,448.3 514.0,448.6 515.0,448.9 516.0,449.2 517.0,449.5 518.0,449.8 519.0,450.1 520.0,450.3 521.0,450.6 522.0,450.9 523.0,451.2 524.0,451.5 525.0,451.8 526.0,452.1 527.0,452.4 528.0,452.7 529.0,452.9 530.0,453.2 531.0,453.5 532.0,453.8 533.0,454.1 534.0,454.4 535.0,454.7 536.0,455.0 537.0,455.3 538.0,455.6 539.0,455.9 540.0,456.2 541.0,456.5 542.0,456.8 543.0,457.1 544.0,457.5 545.0,457.8 546.0,458.1 547.0,458.4 548.0,458.7 549.0,459.1 550.0,459.4 551.0,459.7 552.0,460.1 553.0,460.4 554.0,460.7 555.0,461.1 556.0,461.4 557.0,461.8 558.0,462.1 559.0,462.4 560.0,462.8 561.0,463.1 562.0,463.5 563.0,463.8 564.0,464.2 565.0,464.5 566.0,464.8 567.0,465.2 568.0,465.5 569.0,465.8 570.0,466.1 571.0,466.5 572.0,466.8 573.0,467.1 574.0,467.4 575.0,467.8 576.0,468.1 577.0,468.4 578.0,468.7 579.0,469.1 580.0,469.4 581.0,469.7 582.0,470.0 583.0,470.3 584.0,470.6 585.0,471.0 586.0,471.3 587.0,471.6 588.0,471.9 589.0,472.2 590.0,472.5 591.0,472.8 592.0,473.0 593.0,473.3 594.0,473.6 595.0,473.8 596.0,474.1 597.0,474.3 598.0,474.6 599.0,474.8 600.0,475.1 601.0,475.3 602.0,475.5 603.0,475.8 604.0,476.0 605.0,476.2 606.0,476.4 607.0,476.6 608.0,476.8 609.0,477.0 610.0,477.2 611.0,477.4 612.0,477.5 613.0,477.7 614.0,477.8 615.0,478.0 616.0,478.1 617.0,478.2 618.0,478.4 619.0,478.5 620.0,478.6 621.0,478.7 622.0,478.8 623.0,478.9 624.0,479.1 625.0,479.2 626.0,479.3 627.0,479.4 628.0,479.5 629.0,479.6 630.0,479.6 631.0,479.7 632.0,479.8 633.0,479.9 634.0,479.9 635.0,480.0 636.0,480.1 637.0,480.1 638.0,480.1 639.0,480.2 640.0,480.2 641.0,480.2 642.0,480.2 643.0,480.3 644.0,480.3 645.0,480.3 646.0,480.3 647.0,480.3 648.0,480.3 649.0,480.3 650.0,480.4 651.0,480.4 652.0,480.4 653.0,480.4 654.0,480.4 655.0,480.4 656.0,480.4 657.0,480.4 658.0,480.5 659.0,480.5 660.0,480.5 661.0,480.5 662.0,480.5 663.0,480.5 664.0,480.5 665.0,480.5 666.0,480.5 667.0,480.5 668.0,480.5 669.0,480.6 670.0,480.6 671.0,480.6 672.0,480.6 673.0,480.6 674.0,480.6 675.0,480.6 676.0,480.6 677.0,480.6 678.0,480.6 679.0,480.6 680.0,480.6 681.0,480.6 682.0,480.6 683.0,480.6 684.0,480.6 L684.0,481.2 Z" fill="url(#g3)" fill-opacity="0.90"/>
<polyline points="41.0,480.6 42.0,480.6 43.0,480.6 44.0,480.6 45.0,480.6 46.0,480.6 47.0,480.6 48.0,480.6 49.0,480.6 50.0,480.5 51.0,480.5 52.0,480.5 53.0,480.5 54.0,480.5 55.0,480.5 56.0,480.5 57.0,480.4 58.0,480.4 59.0,480.4 60.0,480.4 61.0,480.4 62.0,480.4 63.0,480.3 64.0,480.3 65.0,480.3 66.0,480.2 67.0,480.2 68.0,480.1 69.0,480.1 70.0,480.0 71.0,480.0 72.0,479.9 73.0,479.8 74.0,479.8 75.0,479.7 76.0,479.5 77.0,479.4 78.0,479.2 79.0,478.9 80.0,478.7 81.0,478.4 82.0,478.1 83.0,477.8 84.0,477.4 85.0,477.1 86.0,476.7 87.0,476.3 88.0,475.8 89.0,475.3 90.0,474.8 91.0,474.2 92.0,473.5 93.0,472.8 94.0,472.1 95.0,471.3 96.0,470.5 97.0,469.6 98.0,468.6 99.0,467.6 100.0,466.5 101.0,465.3 102.0,464.1 103.0,462.8 104.0,461.4 105.0,460.0 106.0,458.5 107.0,456.9 108.0,455.2 109.0,453.5 110.0,451.7 111.0,449.9 112.0,447.9 113.0,446.0 114.0,443.9 115.0,441.9 116.0,439.8 117.0,437.7 118.0,435.5 119.0,433.3 120.0,431.1 121.0,429.0 122.0,426.8 123.0,424.5 124.0,422.0 125.0,419.4 126.0,416.5 127.0,413.5 128.0,410.3 129.0,407.1 130.0,403.9 131.0,400.7 132.0,397.6 133.0,394.5 134.0,391.5 135.0,388.5 136.0,385.5 137.0,382.4 138.0,379.4 139.0,376.4 140.0,373.4 141.0,370.4 142.0,367.5 143.0,364.8 144.0,362.1 145.0,359.5 146.0,356.9 147.0,354.3 148.0,351.7 149.0,349.1 150.0,346.5 151.0,343.9 152.0,341.4 153.0,338.9 154.0,336.4 155.0,334.0 156.0,331.7 157.0,329.6 158.0,327.5 159.0,325.6 160.0,323.8 161.0,322.3 162.0,320.9 163.0,319.8 164.0,318.8 165.0,318.1 166.0,317.6 167.0,317.2 168.0,316.9 169.0,316.8 170.0,316.7 171.0,316.8 172.0,317.0 173.0,317.4 174.0,317.8 175.0,318.5 176.0,319.2 177.0,320.2 178.0,321.3 179.0,322.5 180.0,323.8 181.0,325.2 182.0,326.8 183.0,328.3 184.0,330.0 185.0,331.7 186.0,333.5 187.0,335.3 188.0,337.2 189.0,339.1 190.0,341.1 191.0,343.2 192.0,345.3 193.0,347.5 194.0,349.6 195.0,351.8 196.0,354.1 197.0,356.3 198.0,358.7 199.0,361.0 200.0,363.5 201.0,366.0 202.0,368.5 203.0,370.9 204.0,373.4 205.0,375.7 206.0,377.9 207.0,380.1 208.0,382.2 209.0,384.2 210.0,386.2 211.0,388.2 212.0,390.1 213.0,392.0 214.0,393.9 215.0,395.7 216.0,397.5 217.0,399.3 218.0,401.1 219.0,402.9 220.0,404.7 221.0,406.5 222.0,408.2 223.0,409.9 224.0,411.4 225.0,412.9 226.0,414.3 227.0,415.6 228.0,416.8 229.0,418.0 230.0,419.1 231.0,420.2 232.0,421.2 233.0,422.1 234.0,423.1 235.0,423.9 236.0,424.7 237.0,425.5 238.0,426.2 239.0,427.0 240.0,427.6 241.0,428.3 242.0,428.9 243.0,429.5 244.0,430.0 245.0,430.5 246.0,431.0 247.0,431.4 248.0,431.8 249.0,432.1 250.0,432.4 251.0,432.8 252.0,433.0 253.0,433.3 254.0,433.6 255.0,433.9 256.0,434.1 257.0,434.3 258.0,434.6 259.0,434.8 260.0,435.0 261.0,435.2 262.0,435.4 263.0,435.6 264.0,435.8 265.0,436.0 266.0,436.1 267.0,436.3 268.0,436.5 269.0,436.8 270.0,437.0 271.0,437.2 272.0,437.4 273.0,437.7 274.0,437.9 275.0,438.2 276.0,438.5 277.0,438.7 278.0,439.0 279.0,439.3 280.0,439.6 281.0,439.9 282.0,440.3 283.0,440.6 284.0,441.0 285.0,441.4 286.0,441.8 287.0,442.2 288.0,442.6 289.0,443.0 290.0,443.4 291.0,443.8 292.0,444.2 293.0,444.6 294.0,445.0 295.0,445.5 296.0,445.9 297.0,446.3 298.0,446.7 299.0,447.2 300.0,447.6 301.0,448.0 302.0,448.3 303.0,448.7 304.0,449.0 305.0,449.4 306.0,449.7 307.0,450.0 308.0,450.3 309.0,450.6 310.0,450.9 311.0,451.1 312.0,451.3 313.0,451.5 314.0,451.7 315.0,451.8 316.0,451.9 317.0,452.0 318.0,452.1 319.0,452.1 320.0,452.2 321.0,452.2 322.0,452.2 323.0,452.3 324.0,452.3 325.0,452.3 326.0,452.3 327.0,452.2 328.0,452.2 329.0,452.1 330.0,452.1 331.0,451.9 332.0,451.8 333.0,451.7 334.0,451.5 335.0,451.3 336.0,451.1 337.0,450.9 338.0,450.7 339.0,450.5 340.0,450.3 341.0,450.0 342.0,449.8 343.0,449.6 344.0,449.3 345.0,449.1 346.0,448.8 347.0,448.6 348.0,448.3 349.0,448.0 350.0,447.7 351.0,447.4 352.0,447.0 353.0,446.7 354.0,446.3 355.0,446.0 356.0,445.6 357.0,445.3 358.0,444.9 359.0,444.6 360.0,444.2 361.0,443.9 362.0,443.6 363.0,443.2 364.0,442.9 365.0,442.5 366.0,442.1 367.0,441.8 368.0,441.4 369.0,441.0 370.0,440.7 371.0,440.3 372.0,439.9 373.0,439.6 374.0,439.2 375.0,438.9 376.0,438.6 377.0,438.3 378.0,438.0 379.0,437.7 380.0,437.4 381.0,437.1 382.0,436.8 383.0,436.5 384.0,436.3 385.0,436.0 386.0,435.8 387.0,435.5 388.0,435.3 389.0,435.1 390.0,434.9 391.0,434.7 392.0,434.5 393.0,434.4 394.0,434.3 395.0,434.1 396.0,434.0 397.0,433.9 398.0,433.8 399.0,433.7 400.0,433.6 401.0,433.5 402.0,433.4 403.0,433.4 404.0,433.4 405.0,433.3 406.0,433.4 407.0,433.4 408.0,433.5 409.0,433.6 410.0,433.7 411.0,433.8 412.0,433.9 413.0,434.1 414.0,434.2 415.0,434.4 416.0,434.6 417.0,434.7 418.0,434.9 419.0,435.1 420.0,435.3 421.0,435.6 422.0,435.8 423.0,436.1 424.0,436.4 425.0,436.7 426.0,437.0 427.0,437.3 428.0,437.6 429.0,437.9 430.0,438.1 431.0,438.4 432.0,438.6 433.0,438.9 434.0,439.1 435.0,439.3 436.0,439.5 437.0,439.7 438.0,439.9 439.0,440.1 440.0,440.3 441.0,440.5 442.0,440.6 443.0,440.8 444.0,440.9 445.0,441.1 446.0,441.2 447.0,441.3 448.0,441.3 449.0,441.4 450.0,441.4 451.0,441.5 452.0,441.5 453.0,441.5 454.0,441.5 455.0,441.5 456.0,441.5 457.0,441.6 458.0,441.6 459.0,441.6 460.0,441.6 461.0,441.6 462.0,441.6 463.0,441.6 464.0,441.7 465.0,441.7 466.0,441.7 467.0,441.7 468.0,441.7 469.0,441.8 470.0,441.8 471.0,441.8 472.0,441.8 473.0,441.9 474.0,441.9 475.0,441.9 476.0,442.0 477.0,442.0 478.0,442.0 479.0,442.1 480.0,442.1 481.0,442.2 482.0,442.2 483.0,442.3 484.0,442.3 485.0,442.4 486.0,442.5 487.0,442.6 488.0,442.7 489.0,442.8 490.0,442.9 491.0,443.1 492.0,443.2 493.0,443.4 494.0,443.5 495.0,443.7 496.0,443.9 497.0,444.1 498.0,444.3 499.0,444.5 500.0,444.7 501.0,444.9 502.0,445.1 503.0,445.4 504.0,445.6 505.0,445.9 506.0,446.2 507.0,446.4 508.0,446.7 509.0,447.0 510.0,447.3 511.0,447.6 512.0,447.9 513.0,448.3 514.0,448.6 515.0,448.9 516.0,449.2 517.0,449.5 518.0,449.8 519.0,450.1 520.0,450.3 521.0,450.6 522.0,450.9 523.0,451.2 524.0,451.5 525.0,451.8 526.0,452.1 527.0,452.4 528.0,452.7 529.0,452.9 530.0,453.2 531.0,453.5 532.0,453.8 533.0,454.1 534.0,454.4 535.0,454.7 536.0,455.0 537.0,455.3 538.0,455.6 539.0,455.9 540.0,456.2 541.0,456.5 542.0,456.8 543.0,457.1 544.0,457.5 545.0,457.8 546.0,458.1 547.0,458.4 548.0,458.7 549.0,459.1 550.0,459.4 551.0,459.7 552.0,460.1 553.0,460.4 554.0,460.7 555.0,461.1 556.0,461.4 557.0,461.8 558.0,462.1 559.0,462.4 560.0,462.8 561.0,463.1 562.0,463.5 563.0,463.8 564.0,464.2 565.0,464.5 566.0,464.8 567.0,465.2 568.0,465.5 569.0,465.8 570.0,466.1 571.0,466.5 572.0,466.8 573.0,467.1 574.0,467.4 575.0,467.8 576.0,468.1 577.0,468.4 578.0,468.7 579.0,469.1 580.0,469.4 581.0,469.7 582.0,470.0 583.0,470.3 584.0,470.6 585.0,471.0 586.0,471.3 587.0,471.6 588.0,471.9 589.0,472.2 590.0,472.5 591.0,472.8 592.0,473.0 593.0,473.3 594.0,473.6 595.0,473.8 596.0,474.1 597.0,474.3 598.0,474.6 599.0,474.8 600.0,475.1 601.0,475.3 602.0,475.5 603.0,475.8 604.0,476.0 605.0,476.2 606.0,476.4 607.0,476.6 608.0,476.8 609.0,477.0 610.0,477.2 611.0,477.4 612.0,477.5 613.0,477.7 614.0,477.8 615.0,478.0 616.0,478.1 617.0,478.2 618.0,478.4 619.0,478.5 620.0,478.6 621.0,478.7 622.0,478.8 623.0,478.9 624.0,479.1 625.0,479.2 626.0,479.3 627.0,479.4 628.0,479.5 629.0,479.6 630.0,479.6 631.0,479.7 632.0,479.8 633.0,479.9 634.0,479.9 635.0,480.0 636.0,480.1 637.0,480.1 638.0,480.1 639.0,480.2 640.0,480.2 641.0,480.2 642.0,480.2 643.0,480.3 644.0,480.3 645.0,480.3 646.0,480.3 647.0,480.3 648.0,480.3 649.0,480.3 650.0,480.4 651.0,480.4 652.0,480.4 653.0,480.4 654.0,480.4 655.0,480.4 656.0,480.4 657.0,480.4 658.0,480.5 659.0,480.5 660.0,480.5 661.0,480.5 662.0,480.5 663.0,480.5 664.0,480.5 665.0,480.5 666.0,480.5 667.0,480.5 668.0,480.5 669.0,480.6 670.0,480.6 671.0,480.6 672.0,480.6 673.0,480.6 674.0,480.6 675.0,480.6 676.0,480.6 677.0,480.6 678.0,480.6 679.0,480.6 680.0,480.6 681.0,480.6 682.0,480.6 683.0,480.6 684.0,480.6" fill="none" stroke="#0d0d12" stroke-width="1.1" stroke-opacity="0.9"/>
<line x1="222.0" y1="480.6" x2="222.0" y2="409.0" stroke="#28102e" stroke-width="3" stroke-opacity="0.92" stroke-dasharray="13.2 8.8"/>
</g>
<g>
<line x1="0" y1="581.2" x2="889.0" y2="581.2" stroke="#d4d4d4" stroke-width="1.2"/>
<path d="M17.9,581.8 L17.9,581.2 18.9,581.2 19.9,581.2 20.9,581.2 21.9,581.1 22.9,581.1 23.9,581.1 24.9,581.1 25.9,581.0 26.9,581.0 27.9,581.0 28.9,580.9 29.9,580.9 30.9,580.9 31.9,580.8 32.9,580.8 33.9,580.7 34.9,580.7 35.9,580.6 36.9,580.5 37.9,580.4 38.9,580.3 39.9,580.2 40.9,580.0 41.9,579.8 42.9,579.6 43.9,579.3 44.9,579.0 45.9,578.7 46.9,578.4 47.9,578.0 48.9,577.6 49.9,577.2 50.9,576.7 51.9,576.2 52.9,575.7 53.9,575.1 54.9,574.5 55.9,573.9 56.9,573.3 57.9,572.6 58.9,571.9 59.9,571.2 60.9,570.5 61.9,569.7 62.9,568.9 63.9,568.1 64.9,567.2 65.9,566.3 66.9,565.4 67.9,564.3 68.9,563.3 69.9,562.2 70.9,561.0 71.9,559.8 72.9,558.5 73.9,557.1 74.9,555.7 75.9,554.2 76.9,552.7 77.9,551.1 78.9,549.5 79.9,547.9 80.9,546.3 81.9,544.6 82.9,542.9 83.9,541.2 84.9,539.5 85.9,537.8 86.9,536.2 87.9,534.6 88.9,533.1 89.9,531.4 90.9,529.7 91.9,527.9 92.9,525.9 93.9,523.9 94.9,521.8 95.9,519.7 96.9,517.6 97.9,515.4 98.9,513.3 99.9,511.1 100.9,508.9 101.9,506.7 102.9,504.5 103.9,502.3 104.9,500.1 105.9,497.9 106.9,495.8 107.9,493.7 108.9,491.7 109.9,489.6 110.9,487.6 111.9,485.7 112.9,483.7 113.9,481.9 114.9,480.0 115.9,478.2 116.9,476.4 117.9,474.7 118.9,473.0 119.9,471.4 120.9,469.9 121.9,468.5 122.9,467.2 123.9,466.0 124.9,464.7 125.9,463.4 126.9,462.2 127.9,461.0 128.9,459.8 129.9,458.7 130.9,457.7 131.9,456.7 132.9,455.8 133.9,455.0 134.9,454.3 135.9,453.6 136.9,453.0 137.9,452.5 138.9,452.1 139.9,451.7 140.9,451.4 141.9,451.2 142.9,451.1 143.9,451.1 144.9,451.2 145.9,451.3 146.9,451.5 147.9,451.7 148.9,452.0 149.9,452.4 150.9,452.8 151.9,453.3 152.9,453.8 153.9,454.4 154.9,455.1 155.9,455.8 156.9,456.5 157.9,457.4 158.9,458.2 159.9,459.1 160.9,460.1 161.9,461.1 162.9,462.1 163.9,463.1 164.9,464.2 165.9,465.4 166.9,466.5 167.9,467.7 168.9,468.8 169.9,470.0 170.9,471.2 171.9,472.3 172.9,473.5 173.9,474.6 174.9,475.7 175.9,476.9 176.9,478.0 177.9,479.1 178.9,480.2 179.9,481.3 180.9,482.4 181.9,483.6 182.9,484.7 183.9,485.9 184.9,487.1 185.9,488.4 186.9,489.6 187.9,490.8 188.9,492.0 189.9,493.1 190.9,494.3 191.9,495.4 192.9,496.5 193.9,497.6 194.9,498.7 195.9,499.8 196.9,500.8 197.9,501.9 198.9,503.0 199.9,504.1 200.9,505.1 201.9,506.2 202.9,507.2 203.9,508.3 204.9,509.2 205.9,510.2 206.9,511.2 207.9,512.1 208.9,513.0 209.9,513.9 210.9,514.9 211.9,515.8 212.9,516.7 213.9,517.6 214.9,518.6 215.9,519.4 216.9,520.3 217.9,521.1 218.9,522.0 219.9,522.7 220.9,523.5 221.9,524.2 222.9,524.9 223.9,525.6 224.9,526.3 225.9,527.0 226.9,527.6 227.9,528.3 228.9,529.0 229.9,529.7 230.9,530.4 231.9,531.2 232.9,531.9 233.9,532.6 234.9,533.3 235.9,534.0 236.9,534.7 237.9,535.3 238.9,536.0 239.9,536.6 240.9,537.2 241.9,537.8 242.9,538.3 243.9,538.9 244.9,539.5 245.9,540.0 246.9,540.6 247.9,541.1 248.9,541.6 249.9,542.1 250.9,542.6 251.9,543.1 252.9,543.6 253.9,544.1 254.9,544.5 255.9,545.0 256.9,545.4 257.9,545.8 258.9,546.2 259.9,546.6 260.9,547.0 261.9,547.4 262.9,547.7 263.9,548.1 264.9,548.4 265.9,548.8 266.9,549.1 267.9,549.4 268.9,549.7 269.9,550.1 270.9,550.4 271.9,550.7 272.9,551.0 273.9,551.3 274.9,551.5 275.9,551.8 276.9,552.1 277.9,552.4 278.9,552.6 279.9,552.9 280.9,553.2 281.9,553.4 282.9,553.7 283.9,553.9 284.9,554.2 285.9,554.4 286.9,554.6 287.9,554.9 288.9,555.1 289.9,555.3 290.9,555.6 291.9,555.8 292.9,556.0 293.9,556.2 294.9,556.4 295.9,556.6 296.9,556.8 297.9,557.1 298.9,557.3 299.9,557.5 300.9,557.7 301.9,557.9 302.9,558.1 303.9,558.3 304.9,558.5 305.9,558.7 306.9,558.9 307.9,559.1 308.9,559.3 309.9,559.5 310.9,559.6 311.9,559.8 312.9,560.0 313.9,560.1 314.9,560.3 315.9,560.5 316.9,560.6 317.9,560.8 318.9,560.9 319.9,561.0 320.9,561.2 321.9,561.3 322.9,561.4 323.9,561.6 324.9,561.7 325.9,561.8 326.9,561.9 327.9,562.0 328.9,562.1 329.9,562.2 330.9,562.3 331.9,562.4 332.9,562.5 333.9,562.5 334.9,562.6 335.9,562.6 336.9,562.7 337.9,562.7 338.9,562.7 339.9,562.8 340.9,562.8 341.9,562.8 342.9,562.9 343.9,562.9 344.9,562.9 345.9,562.9 346.9,562.9 347.9,563.0 348.9,563.0 349.9,563.0 350.9,563.0 351.9,563.0 352.9,563.0 353.9,563.0 354.9,563.0 355.9,563.0 356.9,562.9 357.9,562.9 358.9,562.9 359.9,562.8 360.9,562.8 361.9,562.7 362.9,562.7 363.9,562.6 364.9,562.6 365.9,562.5 366.9,562.5 367.9,562.4 368.9,562.4 369.9,562.3 370.9,562.2 371.9,562.2 372.9,562.1 373.9,562.0 374.9,561.9 375.9,561.8 376.9,561.7 377.9,561.6 378.9,561.5 379.9,561.4 380.9,561.3 381.9,561.2 382.9,561.1 383.9,560.9 384.9,560.8 385.9,560.7 386.9,560.6 387.9,560.4 388.9,560.3 389.9,560.2 390.9,560.0 391.9,559.9 392.9,559.7 393.9,559.6 394.9,559.4 395.9,559.2 396.9,559.1 397.9,558.9 398.9,558.7 399.9,558.6 400.9,558.4 401.9,558.2 402.9,558.1 403.9,557.9 404.9,557.7 405.9,557.5 406.9,557.4 407.9,557.2 408.9,557.0 409.9,556.8 410.9,556.7 411.9,556.5 412.9,556.3 413.9,556.1 414.9,555.9 415.9,555.8 416.9,555.6 417.9,555.4 418.9,555.2 419.9,555.1 420.9,554.9 421.9,554.7 422.9,554.5 423.9,554.4 424.9,554.2 425.9,554.0 426.9,553.9 427.9,553.7 428.9,553.5 429.9,553.4 430.9,553.2 431.9,553.1 432.9,552.9 433.9,552.7 434.9,552.6 435.9,552.4 436.9,552.3 437.9,552.1 438.9,552.0 439.9,551.8 440.9,551.7 441.9,551.5 442.9,551.4 443.9,551.2 444.9,551.1 445.9,550.9 446.9,550.8 447.9,550.6 448.9,550.5 449.9,550.3 450.9,550.2 451.9,550.0 452.9,549.9 453.9,549.8 454.9,549.6 455.9,549.5 456.9,549.4 457.9,549.3 458.9,549.2 459.9,549.0 460.9,548.9 461.9,548.8 462.9,548.7 463.9,548.6 464.9,548.5 465.9,548.4 466.9,548.3 467.9,548.2 468.9,548.1 469.9,548.0 470.9,547.9 471.9,547.8 472.9,547.7 473.9,547.6 474.9,547.5 475.9,547.4 476.9,547.3 477.9,547.3 478.9,547.2 479.9,547.1 480.9,547.0 481.9,546.9 482.9,546.9 483.9,546.8 484.9,546.7 485.9,546.6 486.9,546.6 487.9,546.5 488.9,546.4 489.9,546.4 490.9,546.3 491.9,546.2 492.9,546.2 493.9,546.1 494.9,546.1 495.9,546.0 496.9,546.0 497.9,545.9 498.9,545.9 499.9,545.8 500.9,545.8 501.9,545.8 502.9,545.7 503.9,545.7 504.9,545.6 505.9,545.6 506.9,545.6 507.9,545.6 508.9,545.5 509.9,545.5 510.9,545.5 511.9,545.5 512.9,545.5 513.9,545.4 514.9,545.4 515.9,545.4 516.9,545.4 517.9,545.4 518.9,545.4 519.9,545.4 520.9,545.3 521.9,545.3 522.9,545.3 523.9,545.3 524.9,545.3 525.9,545.3 526.9,545.3 527.9,545.3 528.9,545.3 529.9,545.3 530.9,545.3 531.9,545.3 532.9,545.4 533.9,545.4 534.9,545.4 535.9,545.4 536.9,545.4 537.9,545.5 538.9,545.5 539.9,545.5 540.9,545.6 541.9,545.6 542.9,545.6 543.9,545.7 544.9,545.7 545.9,545.7 546.9,545.8 547.9,545.8 548.9,545.9 549.9,546.0 550.9,546.1 551.9,546.1 552.9,546.2 553.9,546.3 554.9,546.4 555.9,546.5 556.9,546.6 557.9,546.7 558.9,546.8 559.9,546.9 560.9,547.0 561.9,547.1 562.9,547.2 563.9,547.4 564.9,547.5 565.9,547.6 566.9,547.7 567.9,547.9 568.9,548.0 569.9,548.1 570.9,548.3 571.9,548.4 572.9,548.6 573.9,548.7 574.9,548.9 575.9,549.0 576.9,549.2 577.9,549.4 578.9,549.5 579.9,549.7 580.9,549.8 581.9,550.0 582.9,550.2 583.9,550.3 584.9,550.5 585.9,550.7 586.9,550.8 587.9,551.0 588.9,551.2 589.9,551.4 590.9,551.6 591.9,551.7 592.9,551.9 593.9,552.1 594.9,552.3 595.9,552.5 596.9,552.7 597.9,552.9 598.9,553.1 599.9,553.3 600.9,553.4 601.9,553.6 602.9,553.8 603.9,554.1 604.9,554.3 605.9,554.5 606.9,554.7 607.9,554.9 608.9,555.1 609.9,555.3 610.9,555.5 611.9,555.7 612.9,555.9 613.9,556.1 614.9,556.4 615.9,556.6 616.9,556.8 617.9,557.0 618.9,557.2 619.9,557.4 620.9,557.6 621.9,557.8 622.9,558.0 623.9,558.3 624.9,558.5 625.9,558.7 626.9,558.9 627.9,559.1 628.9,559.4 629.9,559.6 630.9,559.8 631.9,560.0 632.9,560.3 633.9,560.5 634.9,560.7 635.9,561.0 636.9,561.2 637.9,561.4 638.9,561.7 639.9,561.9 640.9,562.2 641.9,562.4 642.9,562.7 643.9,562.9 644.9,563.2 645.9,563.4 646.9,563.7 647.9,563.9 648.9,564.2 649.9,564.4 650.9,564.7 651.9,564.9 652.9,565.2 653.9,565.4 654.9,565.6 655.9,565.9 656.9,566.1 657.9,566.4 658.9,566.6 659.9,566.9 660.9,567.1 661.9,567.3 662.9,567.6 663.9,567.8 664.9,568.0 665.9,568.3 666.9,568.5 667.9,568.7 668.9,569.0 669.9,569.2 670.9,569.4 671.9,569.7 672.9,569.9 673.9,570.1 674.9,570.4 675.9,570.6 676.9,570.8 677.9,571.1 678.9,571.3 679.9,571.5 680.9,571.7 681.9,572.0 682.9,572.2 683.9,572.4 684.9,572.6 685.9,572.8 686.9,573.0 687.9,573.2 688.9,573.4 689.9,573.6 690.9,573.8 691.9,574.0 692.9,574.2 693.9,574.4 694.9,574.6 695.9,574.8 696.9,575.0 697.9,575.2 698.9,575.4 699.9,575.6 700.9,575.8 701.9,576.0 702.9,576.2 703.9,576.3 704.9,576.5 705.9,576.7 706.9,576.9 707.9,577.1 708.9,577.2 709.9,577.4 710.9,577.6 711.9,577.7 712.9,577.9 713.9,578.1 714.9,578.2 715.9,578.4 716.9,578.5 717.9,578.6 718.9,578.8 719.9,578.9 720.9,579.0 721.9,579.1 722.9,579.2 723.9,579.3 724.9,579.4 725.9,579.5 726.9,579.6 727.9,579.7 728.9,579.8 729.9,579.9 730.9,580.0 731.9,580.1 732.9,580.2 733.9,580.2 734.9,580.3 735.9,580.4 736.9,580.5 737.9,580.5 738.9,580.6 739.9,580.7 740.9,580.7 741.9,580.8 742.9,580.8 743.9,580.8 744.9,580.9 745.9,580.9 746.9,580.9 747.9,580.9 748.9,580.9 749.9,580.9 750.9,580.9 751.9,580.9 752.9,581.0 753.9,581.0 754.9,581.0 755.9,581.0 756.9,581.0 757.9,581.0 758.9,581.0 759.9,581.0 760.9,581.0 761.9,581.0 762.9,581.0 763.9,581.0 764.9,581.0 765.9,581.0 766.9,581.1 767.9,581.1 768.9,581.1 769.9,581.1 770.9,581.1 771.9,581.1 772.9,581.1 773.9,581.1 774.9,581.1 775.9,581.1 776.9,581.1 777.9,581.1 778.9,581.1 779.9,581.1 780.9,581.1 781.9,581.1 782.9,581.1 783.9,581.1 784.9,581.1 785.9,581.1 786.9,581.1 787.9,581.2 788.9,581.2 789.9,581.2 790.9,581.2 791.9,581.2 792.9,581.2 793.9,581.2 794.9,581.2 795.9,581.2 796.9,581.2 797.9,581.2 798.9,581.2 799.9,581.2 800.9,581.2 801.9,581.2 802.9,581.2 803.9,581.2 804.9,581.2 805.9,581.2 806.9,581.2 807.9,581.2 808.9,581.2 809.9,581.2 810.9,581.2 811.9,581.2 812.9,581.2 813.9,581.2 814.9,581.2 815.9,581.2 816.9,581.2 L816.9,581.8 Z" fill="url(#g4)" fill-opacity="0.90"/>
<polyline points="17.9,581.2 18.9,581.2 19.9,581.2 20.9,581.2 21.9,581.1 22.9,581.1 23.9,581.1 24.9,581.1 25.9,581.0 26.9,581.0 27.9,581.0 28.9,580.9 29.9,580.9 30.9,580.9 31.9,580.8 32.9,580.8 33.9,580.7 34.9,580.7 35.9,580.6 36.9,580.5 37.9,580.4 38.9,580.3 39.9,580.2 40.9,580.0 41.9,579.8 42.9,579.6 43.9,579.3 44.9,579.0 45.9,578.7 46.9,578.4 47.9,578.0 48.9,577.6 49.9,577.2 50.9,576.7 51.9,576.2 52.9,575.7 53.9,575.1 54.9,574.5 55.9,573.9 56.9,573.3 57.9,572.6 58.9,571.9 59.9,571.2 60.9,570.5 61.9,569.7 62.9,568.9 63.9,568.1 64.9,567.2 65.9,566.3 66.9,565.4 67.9,564.3 68.9,563.3 69.9,562.2 70.9,561.0 71.9,559.8 72.9,558.5 73.9,557.1 74.9,555.7 75.9,554.2 76.9,552.7 77.9,551.1 78.9,549.5 79.9,547.9 80.9,546.3 81.9,544.6 82.9,542.9 83.9,541.2 84.9,539.5 85.9,537.8 86.9,536.2 87.9,534.6 88.9,533.1 89.9,531.4 90.9,529.7 91.9,527.9 92.9,525.9 93.9,523.9 94.9,521.8 95.9,519.7 96.9,517.6 97.9,515.4 98.9,513.3 99.9,511.1 100.9,508.9 101.9,506.7 102.9,504.5 103.9,502.3 104.9,500.1 105.9,497.9 106.9,495.8 107.9,493.7 108.9,491.7 109.9,489.6 110.9,487.6 111.9,485.7 112.9,483.7 113.9,481.9 114.9,480.0 115.9,478.2 116.9,476.4 117.9,474.7 118.9,473.0 119.9,471.4 120.9,469.9 121.9,468.5 122.9,467.2 123.9,466.0 124.9,464.7 125.9,463.4 126.9,462.2 127.9,461.0 128.9,459.8 129.9,458.7 130.9,457.7 131.9,456.7 132.9,455.8 133.9,455.0 134.9,454.3 135.9,453.6 136.9,453.0 137.9,452.5 138.9,452.1 139.9,451.7 140.9,451.4 141.9,451.2 142.9,451.1 143.9,451.1 144.9,451.2 145.9,451.3 146.9,451.5 147.9,451.7 148.9,452.0 149.9,452.4 150.9,452.8 151.9,453.3 152.9,453.8 153.9,454.4 154.9,455.1 155.9,455.8 156.9,456.5 157.9,457.4 158.9,458.2 159.9,459.1 160.9,460.1 161.9,461.1 162.9,462.1 163.9,463.1 164.9,464.2 165.9,465.4 166.9,466.5 167.9,467.7 168.9,468.8 169.9,470.0 170.9,471.2 171.9,472.3 172.9,473.5 173.9,474.6 174.9,475.7 175.9,476.9 176.9,478.0 177.9,479.1 178.9,480.2 179.9,481.3 180.9,482.4 181.9,483.6 182.9,484.7 183.9,485.9 184.9,487.1 185.9,488.4 186.9,489.6 187.9,490.8 188.9,492.0 189.9,493.1 190.9,494.3 191.9,495.4 192.9,496.5 193.9,497.6 194.9,498.7 195.9,499.8 196.9,500.8 197.9,501.9 198.9,503.0 199.9,504.1 200.9,505.1 201.9,506.2 202.9,507.2 203.9,508.3 204.9,509.2 205.9,510.2 206.9,511.2 207.9,512.1 208.9,513.0 209.9,513.9 210.9,514.9 211.9,515.8 212.9,516.7 213.9,517.6 214.9,518.6 215.9,519.4 216.9,520.3 217.9,521.1 218.9,522.0 219.9,522.7 220.9,523.5 221.9,524.2 222.9,524.9 223.9,525.6 224.9,526.3 225.9,527.0 226.9,527.6 227.9,528.3 228.9,529.0 229.9,529.7 230.9,530.4 231.9,531.2 232.9,531.9 233.9,532.6 234.9,533.3 235.9,534.0 236.9,534.7 237.9,535.3 238.9,536.0 239.9,536.6 240.9,537.2 241.9,537.8 242.9,538.3 243.9,538.9 244.9,539.5 245.9,540.0 246.9,540.6 247.9,541.1 248.9,541.6 249.9,542.1 250.9,542.6 251.9,543.1 252.9,543.6 253.9,544.1 254.9,544.5 255.9,545.0 256.9,545.4 257.9,545.8 258.9,546.2 259.9,546.6 260.9,547.0 261.9,547.4 262.9,547.7 263.9,548.1 264.9,548.4 265.9,548.8 266.9,549.1 267.9,549.4 268.9,549.7 269.9,550.1 270.9,550.4 271.9,550.7 272.9,551.0 273.9,551.3 274.9,551.5 275.9,551.8 276.9,552.1 277.9,552.4 278.9,552.6 279.9,552.9 280.9,553.2 281.9,553.4 282.9,553.7 283.9,553.9 284.9,554.2 285.9,554.4 286.9,554.6 287.9,554.9 288.9,555.1 289.9,555.3 290.9,555.6 291.9,555.8 292.9,556.0 293.9,556.2 294.9,556.4 295.9,556.6 296.9,556.8 297.9,557.1 298.9,557.3 299.9,557.5 300.9,557.7 301.9,557.9 302.9,558.1 303.9,558.3 304.9,558.5 305.9,558.7 306.9,558.9 307.9,559.1 308.9,559.3 309.9,559.5 310.9,559.6 311.9,559.8 312.9,560.0 313.9,560.1 314.9,560.3 315.9,560.5 316.9,560.6 317.9,560.8 318.9,560.9 319.9,561.0 320.9,561.2 321.9,561.3 322.9,561.4 323.9,561.6 324.9,561.7 325.9,561.8 326.9,561.9 327.9,562.0 328.9,562.1 329.9,562.2 330.9,562.3 331.9,562.4 332.9,562.5 333.9,562.5 334.9,562.6 335.9,562.6 336.9,562.7 337.9,562.7 338.9,562.7 339.9,562.8 340.9,562.8 341.9,562.8 342.9,562.9 343.9,562.9 344.9,562.9 345.9,562.9 346.9,562.9 347.9,563.0 348.9,563.0 349.9,563.0 350.9,563.0 351.9,563.0 352.9,563.0 353.9,563.0 354.9,563.0 355.9,563.0 356.9,562.9 357.9,562.9 358.9,562.9 359.9,562.8 360.9,562.8 361.9,562.7 362.9,562.7 363.9,562.6 364.9,562.6 365.9,562.5 366.9,562.5 367.9,562.4 368.9,562.4 369.9,562.3 370.9,562.2 371.9,562.2 372.9,562.1 373.9,562.0 374.9,561.9 375.9,561.8 376.9,561.7 377.9,561.6 378.9,561.5 379.9,561.4 380.9,561.3 381.9,561.2 382.9,561.1 383.9,560.9 384.9,560.8 385.9,560.7 386.9,560.6 387.9,560.4 388.9,560.3 389.9,560.2 390.9,560.0 391.9,559.9 392.9,559.7 393.9,559.6 394.9,559.4 395.9,559.2 396.9,559.1 397.9,558.9 398.9,558.7 399.9,558.6 400.9,558.4 401.9,558.2 402.9,558.1 403.9,557.9 404.9,557.7 405.9,557.5 406.9,557.4 407.9,557.2 408.9,557.0 409.9,556.8 410.9,556.7 411.9,556.5 412.9,556.3 413.9,556.1 414.9,555.9 415.9,555.8 416.9,555.6 417.9,555.4 418.9,555.2 419.9,555.1 420.9,554.9 421.9,554.7 422.9,554.5 423.9,554.4 424.9,554.2 425.9,554.0 426.9,553.9 427.9,553.7 428.9,553.5 429.9,553.4 430.9,553.2 431.9,553.1 432.9,552.9 433.9,552.7 434.9,552.6 435.9,552.4 436.9,552.3 437.9,552.1 438.9,552.0 439.9,551.8 440.9,551.7 441.9,551.5 442.9,551.4 443.9,551.2 444.9,551.1 445.9,550.9 446.9,550.8 447.9,550.6 448.9,550.5 449.9,550.3 450.9,550.2 451.9,550.0 452.9,549.9 453.9,549.8 454.9,549.6 455.9,549.5 456.9,549.4 457.9,549.3 458.9,549.2 459.9,549.0 460.9,548.9 461.9,548.8 462.9,548.7 463.9,548.6 464.9,548.5 465.9,548.4 466.9,548.3 467.9,548.2 468.9,548.1 469.9,548.0 470.9,547.9 471.9,547.8 472.9,547.7 473.9,547.6 474.9,547.5 475.9,547.4 476.9,547.3 477.9,547.3 478.9,547.2 479.9,547.1 480.9,547.0 481.9,546.9 482.9,546.9 483.9,546.8 484.9,546.7 485.9,546.6 486.9,546.6 487.9,546.5 488.9,546.4 489.9,546.4 490.9,546.3 491.9,546.2 492.9,546.2 493.9,546.1 494.9,546.1 495.9,546.0 496.9,546.0 497.9,545.9 498.9,545.9 499.9,545.8 500.9,545.8 501.9,545.8 502.9,545.7 503.9,545.7 504.9,545.6 505.9,545.6 506.9,545.6 507.9,545.6 508.9,545.5 509.9,545.5 510.9,545.5 511.9,545.5 512.9,545.5 513.9,545.4 514.9,545.4 515.9,545.4 516.9,545.4 517.9,545.4 518.9,545.4 519.9,545.4 520.9,545.3 521.9,545.3 522.9,545.3 523.9,545.3 524.9,545.3 525.9,545.3 526.9,545.3 527.9,545.3 528.9,545.3 529.9,545.3 530.9,545.3 531.9,545.3 532.9,545.4 533.9,545.4 534.9,545.4 535.9,545.4 536.9,545.4 537.9,545.5 538.9,545.5 539.9,545.5 540.9,545.6 541.9,545.6 542.9,545.6 543.9,545.7 544.9,545.7 545.9,545.7 546.9,545.8 547.9,545.8 548.9,545.9 549.9,546.0 550.9,546.1 551.9,546.1 552.9,546.2 553.9,546.3 554.9,546.4 555.9,546.5 556.9,546.6 557.9,546.7 558.9,546.8 559.9,546.9 560.9,547.0 561.9,547.1 562.9,547.2 563.9,547.4 564.9,547.5 565.9,547.6 566.9,547.7 567.9,547.9 568.9,548.0 569.9,548.1 570.9,548.3 571.9,548.4 572.9,548.6 573.9,548.7 574.9,548.9 575.9,549.0 576.9,549.2 577.9,549.4 578.9,549.5 579.9,549.7 580.9,549.8 581.9,550.0 582.9,550.2 583.9,550.3 584.9,550.5 585.9,550.7 586.9,550.8 587.9,551.0 588.9,551.2 589.9,551.4 590.9,551.6 591.9,551.7 592.9,551.9 593.9,552.1 594.9,552.3 595.9,552.5 596.9,552.7 597.9,552.9 598.9,553.1 599.9,553.3 600.9,553.4 601.9,553.6 602.9,553.8 603.9,554.1 604.9,554.3 605.9,554.5 606.9,554.7 607.9,554.9 608.9,555.1 609.9,555.3 610.9,555.5 611.9,555.7 612.9,555.9 613.9,556.1 614.9,556.4 615.9,556.6 616.9,556.8 617.9,557.0 618.9,557.2 619.9,557.4 620.9,557.6 621.9,557.8 622.9,558.0 623.9,558.3 624.9,558.5 625.9,558.7 626.9,558.9 627.9,559.1 628.9,559.4 629.9,559.6 630.9,559.8 631.9,560.0 632.9,560.3 633.9,560.5 634.9,560.7 635.9,561.0 636.9,561.2 637.9,561.4 638.9,561.7 639.9,561.9 640.9,562.2 641.9,562.4 642.9,562.7 643.9,562.9 644.9,563.2 645.9,563.4 646.9,563.7 647.9,563.9 648.9,564.2 649.9,564.4 650.9,564.7 651.9,564.9 652.9,565.2 653.9,565.4 654.9,565.6 655.9,565.9 656.9,566.1 657.9,566.4 658.9,566.6 659.9,566.9 660.9,567.1 661.9,567.3 662.9,567.6 663.9,567.8 664.9,568.0 665.9,568.3 666.9,568.5 667.9,568.7 668.9,569.0 669.9,569.2 670.9,569.4 671.9,569.7 672.9,569.9 673.9,570.1 674.9,570.4 675.9,570.6 676.9,570.8 677.9,571.1 678.9,571.3 679.9,571.5 680.9,571.7 681.9,572.0 682.9,572.2 683.9,572.4 684.9,572.6 685.9,572.8 686.9,573.0 687.9,573.2 688.9,573.4 689.9,573.6 690.9,573.8 691.9,574.0 692.9,574.2 693.9,574.4 694.9,574.6 695.9,574.8 696.9,575.0 697.9,575.2 698.9,575.4 699.9,575.6 700.9,575.8 701.9,576.0 702.9,576.2 703.9,576.3 704.9,576.5 705.9,576.7 706.9,576.9 707.9,577.1 708.9,577.2 709.9,577.4 710.9,577.6 711.9,577.7 712.9,577.9 713.9,578.1 714.9,578.2 715.9,578.4 716.9,578.5 717.9,578.6 718.9,578.8 719.9,578.9 720.9,579.0 721.9,579.1 722.9,579.2 723.9,579.3 724.9,579.4 725.9,579.5 726.9,579.6 727.9,579.7 728.9,579.8 729.9,579.9 730.9,580.0 731.9,580.1 732.9,580.2 733.9,580.2 734.9,580.3 735.9,580.4 736.9,580.5 737.9,580.5 738.9,580.6 739.9,580.7 740.9,580.7 741.9,580.8 742.9,580.8 743.9,580.8 744.9,580.9 745.9,580.9 746.9,580.9 747.9,580.9 748.9,580.9 749.9,580.9 750.9,580.9 751.9,580.9 752.9,581.0 753.9,581.0 754.9,581.0 755.9,581.0 756.9,581.0 757.9,581.0 758.9,581.0 759.9,581.0 760.9,581.0 761.9,581.0 762.9,581.0 763.9,581.0 764.9,581.0 765.9,581.0 766.9,581.1 767.9,581.1 768.9,581.1 769.9,581.1 770.9,581.1 771.9,581.1 772.9,581.1 773.9,581.1 774.9,581.1 775.9,581.1 776.9,581.1 777.9,581.1 778.9,581.1 779.9,581.1 780.9,581.1 781.9,581.1 782.9,581.1 783.9,581.1 784.9,581.1 785.9,581.1 786.9,581.1 787.9,581.2 788.9,581.2 789.9,581.2 790.9,581.2 791.9,581.2 792.9,581.2 793.9,581.2 794.9,581.2 795.9,581.2 796.9,581.2 797.9,581.2 798.9,581.2 799.9,581.2 800.9,581.2 801.9,581.2 802.9,581.2 803.9,581.2 804.9,581.2 805.9,581.2 806.9,581.2 807.9,581.2 808.9,581.2 809.9,581.2 810.9,581.2 811.9,581.2 812.9,581.2 813.9,581.2 814.9,581.2 815.9,581.2 816.9,581.2" fill="none" stroke="#0d0d12" stroke-width="1.1" stroke-opacity="0.9"/>
<line x1="209.4" y1="581.2" x2="209.4" y2="523.6" stroke="#28102e" stroke-width="3" stroke-opacity="0.92" stroke-dasharray="13.2 8.8"/>
</g>
<g>
<line x1="0" y1="681.2" x2="889.0" y2="681.2" stroke="#d4d4d4" stroke-width="1.2"/>
<path d="M-3.0,681.8 L-3.0,681.2 -2.0,681.2 -1.0,681.1 0.0,681.1 1.0,681.0 2.0,681.0 3.0,680.9 4.0,680.8 5.0,680.8 6.0,680.7 7.0,680.6 8.0,680.5 9.0,680.3 10.0,680.2 11.0,680.1 12.0,679.9 13.0,679.7 14.0,679.6 15.0,679.4 16.0,679.2 17.0,678.9 18.0,678.7 19.0,678.4 20.0,678.1 21.0,677.8 22.0,677.5 23.0,677.1 24.0,676.7 25.0,676.3 26.0,675.9 27.0,675.5 28.0,675.0 29.0,674.6 30.0,674.1 31.0,673.6 32.0,673.1 33.0,672.6 34.0,672.1 35.0,671.5 36.0,671.0 37.0,670.4 38.0,669.8 39.0,669.2 40.0,668.6 41.0,668.0 42.0,667.3 43.0,666.6 44.0,666.0 45.0,665.2 46.0,664.5 47.0,663.7 48.0,662.9 49.0,662.1 50.0,661.2 51.0,660.4 52.0,659.4 53.0,658.5 54.0,657.5 55.0,656.6 56.0,655.6 57.0,654.6 58.0,653.6 59.0,652.6 60.0,651.6 61.0,650.6 62.0,649.5 63.0,648.5 64.0,647.4 65.0,646.4 66.0,645.3 67.0,644.2 68.0,643.1 69.0,641.9 70.0,640.8 71.0,639.6 72.0,638.5 73.0,637.3 74.0,636.1 75.0,634.9 76.0,633.8 77.0,632.6 78.0,631.4 79.0,630.3 80.0,629.2 81.0,628.0 82.0,626.9 83.0,625.7 84.0,624.5 85.0,623.2 86.0,621.9 87.0,620.6 88.0,619.3 89.0,617.9 90.0,616.5 91.0,615.1 92.0,613.7 93.0,612.3 94.0,610.9 95.0,609.5 96.0,608.1 97.0,606.7 98.0,605.4 99.0,604.1 100.0,602.8 101.0,601.6 102.0,600.4 103.0,599.2 104.0,598.1 105.0,597.0 106.0,595.9 107.0,594.9 108.0,593.9 109.0,592.9 110.0,592.0 111.0,591.1 112.0,590.3 113.0,589.5 114.0,588.7 115.0,588.0 116.0,587.3 117.0,586.6 118.0,586.0 119.0,585.4 120.0,584.8 121.0,584.2 122.0,583.7 123.0,583.2 124.0,582.7 125.0,582.2 126.0,581.9 127.0,581.5 128.0,581.2 129.0,580.9 130.0,580.6 131.0,580.4 132.0,580.2 133.0,580.0 134.0,579.8 135.0,579.7 136.0,579.5 137.0,579.4 138.0,579.4 139.0,579.3 140.0,579.3 141.0,579.3 142.0,579.3 143.0,579.4 144.0,579.5 145.0,579.6 146.0,579.7 147.0,579.9 148.0,580.1 149.0,580.3 150.0,580.6 151.0,580.9 152.0,581.2 153.0,581.6 154.0,581.9 155.0,582.4 156.0,582.8 157.0,583.3 158.0,583.8 159.0,584.3 160.0,584.8 161.0,585.3 162.0,585.9 163.0,586.4 164.0,587.0 165.0,587.5 166.0,588.1 167.0,588.7 168.0,589.2 169.0,589.8 170.0,590.4 171.0,591.0 172.0,591.6 173.0,592.2 174.0,592.8 175.0,593.4 176.0,594.0 177.0,594.5 178.0,595.1 179.0,595.7 180.0,596.3 181.0,597.0 182.0,597.6 183.0,598.2 184.0,598.8 185.0,599.5 186.0,600.1 187.0,600.8 188.0,601.5 189.0,602.1 190.0,602.8 191.0,603.5 192.0,604.1 193.0,604.8 194.0,605.4 195.0,606.1 196.0,606.7 197.0,607.4 198.0,608.0 199.0,608.6 200.0,609.2 201.0,609.8 202.0,610.4 203.0,611.0 204.0,611.6 205.0,612.2 206.0,612.8 207.0,613.4 208.0,614.0 209.0,614.6 210.0,615.2 211.0,615.8 212.0,616.5 213.0,617.1 214.0,617.7 215.0,618.3 216.0,618.9 217.0,619.5 218.0,620.1 219.0,620.7 220.0,621.3 221.0,621.9 222.0,622.5 223.0,623.1 224.0,623.6 225.0,624.2 226.0,624.8 227.0,625.4 228.0,625.9 229.0,626.5 230.0,627.1 231.0,627.7 232.0,628.2 233.0,628.8 234.0,629.3 235.0,629.9 236.0,630.5 237.0,631.0 238.0,631.5 239.0,632.1 240.0,632.6 241.0,633.1 242.0,633.6 243.0,634.1 244.0,634.6 245.0,635.1 246.0,635.6 247.0,636.1 248.0,636.6 249.0,637.0 250.0,637.5 251.0,638.0 252.0,638.4 253.0,638.9 254.0,639.3 255.0,639.8 256.0,640.2 257.0,640.6 258.0,641.0 259.0,641.5 260.0,641.9 261.0,642.3 262.0,642.7 263.0,643.1 264.0,643.5 265.0,643.8 266.0,644.2 267.0,644.6 268.0,645.0 269.0,645.4 270.0,645.7 271.0,646.1 272.0,646.4 273.0,646.8 274.0,647.1 275.0,647.5 276.0,647.8 277.0,648.1 278.0,648.5 279.0,648.8 280.0,649.1 281.0,649.4 282.0,649.7 283.0,650.0 284.0,650.3 285.0,650.6 286.0,650.8 287.0,651.1 288.0,651.4 289.0,651.7 290.0,651.9 291.0,652.2 292.0,652.4 293.0,652.7 294.0,652.9 295.0,653.2 296.0,653.4 297.0,653.6 298.0,653.8 299.0,654.0 300.0,654.3 301.0,654.5 302.0,654.7 303.0,654.8 304.0,655.0 305.0,655.2 306.0,655.4 307.0,655.6 308.0,655.8 309.0,655.9 310.0,656.1 311.0,656.3 312.0,656.4 313.0,656.6 314.0,656.7 315.0,656.9 316.0,657.0 317.0,657.1 318.0,657.3 319.0,657.4 320.0,657.5 321.0,657.6 322.0,657.7 323.0,657.9 324.0,658.0 325.0,658.1 326.0,658.2 327.0,658.3 328.0,658.4 329.0,658.5 330.0,658.6 331.0,658.7 332.0,658.7 333.0,658.8 334.0,658.8 335.0,658.9 336.0,658.9 337.0,659.0 338.0,659.0 339.0,659.0 340.0,659.1 341.0,659.1 342.0,659.1 343.0,659.2 344.0,659.2 345.0,659.2 346.0,659.2 347.0,659.2 348.0,659.3 349.0,659.3 350.0,659.3 351.0,659.3 352.0,659.3 353.0,659.3 354.0,659.3 355.0,659.3 356.0,659.2 357.0,659.2 358.0,659.2 359.0,659.2 360.0,659.1 361.0,659.1 362.0,659.0 363.0,659.0 364.0,658.9 365.0,658.9 366.0,658.8 367.0,658.8 368.0,658.7 369.0,658.7 370.0,658.6 371.0,658.5 372.0,658.5 373.0,658.4 374.0,658.4 375.0,658.3 376.0,658.2 377.0,658.1 378.0,658.1 379.0,658.0 380.0,657.9 381.0,657.8 382.0,657.7 383.0,657.7 384.0,657.6 385.0,657.5 386.0,657.4 387.0,657.3 388.0,657.3 389.0,657.2 390.0,657.1 391.0,657.0 392.0,656.9 393.0,656.8 394.0,656.8 395.0,656.7 396.0,656.6 397.0,656.5 398.0,656.4 399.0,656.3 400.0,656.2 401.0,656.1 402.0,656.1 403.0,656.0 404.0,655.9 405.0,655.8 406.0,655.7 407.0,655.6 408.0,655.5 409.0,655.4 410.0,655.4 411.0,655.3 412.0,655.2 413.0,655.1 414.0,655.0 415.0,654.9 416.0,654.8 417.0,654.7 418.0,654.7 419.0,654.6 420.0,654.5 421.0,654.4 422.0,654.3 423.0,654.3 424.0,654.2 425.0,654.1 426.0,654.1 427.0,654.0 428.0,653.9 429.0,653.9 430.0,653.8 431.0,653.7 432.0,653.7 433.0,653.6 434.0,653.5 435.0,653.5 436.0,653.4 437.0,653.4 438.0,653.3 439.0,653.3 440.0,653.2 441.0,653.1 442.0,653.1 443.0,653.0 444.0,653.0 445.0,652.9 446.0,652.9 447.0,652.8 448.0,652.8 449.0,652.7 450.0,652.7 451.0,652.6 452.0,652.6 453.0,652.5 454.0,652.5 455.0,652.4 456.0,652.4 457.0,652.3 458.0,652.3 459.0,652.2 460.0,652.2 461.0,652.2 462.0,652.1 463.0,652.1 464.0,652.0 465.0,652.0 466.0,651.9 467.0,651.9 468.0,651.9 469.0,651.8 470.0,651.8 471.0,651.7 472.0,651.7 473.0,651.7 474.0,651.6 475.0,651.6 476.0,651.6 477.0,651.5 478.0,651.5 479.0,651.5 480.0,651.4 481.0,651.4 482.0,651.4 483.0,651.3 484.0,651.3 485.0,651.3 486.0,651.3 487.0,651.2 488.0,651.2 489.0,651.2 490.0,651.2 491.0,651.1 492.0,651.1 493.0,651.1 494.0,651.1 495.0,651.1 496.0,651.0 497.0,651.0 498.0,651.0 499.0,651.0 500.0,651.0 501.0,651.0 502.0,651.0 503.0,650.9 504.0,650.9 505.0,650.9 506.0,650.9 507.0,650.9 508.0,650.9 509.0,650.9 510.0,650.9 511.0,650.9 512.0,650.9 513.0,650.9 514.0,650.9 515.0,650.9 516.0,650.9 517.0,650.9 518.0,650.9 519.0,650.9 520.0,650.9 521.0,650.9 522.0,650.9 523.0,650.9 524.0,650.9 525.0,650.9 526.0,650.9 527.0,650.9 528.0,650.9 529.0,650.9 530.0,650.9 531.0,650.9 532.0,650.9 533.0,650.9 534.0,650.9 535.0,650.9 536.0,651.0 537.0,651.0 538.0,651.0 539.0,651.0 540.0,651.0 541.0,651.0 542.0,651.0 543.0,651.1 544.0,651.1 545.0,651.1 546.0,651.1 547.0,651.1 548.0,651.2 549.0,651.2 550.0,651.2 551.0,651.3 552.0,651.3 553.0,651.3 554.0,651.4 555.0,651.4 556.0,651.5 557.0,651.5 558.0,651.6 559.0,651.6 560.0,651.7 561.0,651.7 562.0,651.8 563.0,651.8 564.0,651.9 565.0,651.9 566.0,652.0 567.0,652.0 568.0,652.1 569.0,652.2 570.0,652.2 571.0,652.3 572.0,652.4 573.0,652.4 574.0,652.5 575.0,652.6 576.0,652.7 577.0,652.8 578.0,652.8 579.0,652.9 580.0,653.0 581.0,653.1 582.0,653.2 583.0,653.3 584.0,653.4 585.0,653.5 586.0,653.6 587.0,653.7 588.0,653.8 589.0,653.9 590.0,654.0 591.0,654.1 592.0,654.2 593.0,654.3 594.0,654.5 595.0,654.6 596.0,654.7 597.0,654.8 598.0,655.0 599.0,655.1 600.0,655.2 601.0,655.4 602.0,655.5 603.0,655.6 604.0,655.8 605.0,655.9 606.0,656.1 607.0,656.2 608.0,656.4 609.0,656.5 610.0,656.7 611.0,656.8 612.0,657.0 613.0,657.2 614.0,657.3 615.0,657.5 616.0,657.6 617.0,657.8 618.0,658.0 619.0,658.1 620.0,658.3 621.0,658.5 622.0,658.7 623.0,658.8 624.0,659.0 625.0,659.2 626.0,659.4 627.0,659.6 628.0,659.7 629.0,659.9 630.0,660.1 631.0,660.3 632.0,660.5 633.0,660.7 634.0,660.9 635.0,661.2 636.0,661.4 637.0,661.6 638.0,661.8 639.0,662.0 640.0,662.3 641.0,662.5 642.0,662.7 643.0,663.0 644.0,663.2 645.0,663.4 646.0,663.7 647.0,663.9 648.0,664.2 649.0,664.4 650.0,664.6 651.0,664.9 652.0,665.1 653.0,665.3 654.0,665.6 655.0,665.8 656.0,666.0 657.0,666.3 658.0,666.5 659.0,666.7 660.0,666.9 661.0,667.1 662.0,667.3 663.0,667.5 664.0,667.8 665.0,668.0 666.0,668.2 667.0,668.4 668.0,668.6 669.0,668.8 670.0,669.0 671.0,669.2 672.0,669.4 673.0,669.6 674.0,669.8 675.0,670.0 676.0,670.2 677.0,670.4 678.0,670.6 679.0,670.8 680.0,671.0 681.0,671.2 682.0,671.4 683.0,671.6 684.0,671.7 685.0,671.9 686.0,672.1 687.0,672.3 688.0,672.4 689.0,672.6 690.0,672.8 691.0,672.9 692.0,673.1 693.0,673.2 694.0,673.4 695.0,673.5 696.0,673.7 697.0,673.8 698.0,674.0 699.0,674.1 700.0,674.2 701.0,674.4 702.0,674.5 703.0,674.6 704.0,674.8 705.0,674.9 706.0,675.0 707.0,675.1 708.0,675.3 709.0,675.4 710.0,675.5 711.0,675.6 712.0,675.7 713.0,675.9 714.0,676.0 715.0,676.1 716.0,676.2 717.0,676.3 718.0,676.4 719.0,676.5 720.0,676.6 721.0,676.7 722.0,676.8 723.0,676.9 724.0,677.0 725.0,677.1 726.0,677.2 727.0,677.3 728.0,677.5 729.0,677.6 730.0,677.7 731.0,677.8 732.0,677.9 733.0,678.0 734.0,678.1 735.0,678.2 736.0,678.2 737.0,678.3 738.0,678.4 739.0,678.5 740.0,678.6 741.0,678.7 742.0,678.8 743.0,678.9 744.0,679.0 745.0,679.1 746.0,679.1 747.0,679.2 748.0,679.3 749.0,679.4 750.0,679.4 751.0,679.5 752.0,679.6 753.0,679.6 754.0,679.7 755.0,679.7 756.0,679.8 757.0,679.8 758.0,679.9 759.0,679.9 760.0,680.0 761.0,680.0 762.0,680.1 763.0,680.1 764.0,680.2 765.0,680.2 766.0,680.3 767.0,680.3 768.0,680.4 769.0,680.4 770.0,680.5 771.0,680.5 772.0,680.6 773.0,680.6 774.0,680.6 775.0,680.7 776.0,680.7 777.0,680.8 778.0,680.8 779.0,680.8 780.0,680.9 781.0,680.9 782.0,680.9 783.0,681.0 784.0,681.0 785.0,681.0 786.0,681.0 787.0,681.1 788.0,681.1 789.0,681.1 790.0,681.1 791.0,681.1 792.0,681.2 793.0,681.2 794.0,681.2 L794.0,681.8 Z" fill="url(#g5)" fill-opacity="0.90"/>
<polyline points="-3.0,681.2 -2.0,681.2 -1.0,681.1 0.0,681.1 1.0,681.0 2.0,681.0 3.0,680.9 4.0,680.8 5.0,680.8 6.0,680.7 7.0,680.6 8.0,680.5 9.0,680.3 10.0,680.2 11.0,680.1 12.0,679.9 13.0,679.7 14.0,679.6 15.0,679.4 16.0,679.2 17.0,678.9 18.0,678.7 19.0,678.4 20.0,678.1 21.0,677.8 22.0,677.5 23.0,677.1 24.0,676.7 25.0,676.3 26.0,675.9 27.0,675.5 28.0,675.0 29.0,674.6 30.0,674.1 31.0,673.6 32.0,673.1 33.0,672.6 34.0,672.1 35.0,671.5 36.0,671.0 37.0,670.4 38.0,669.8 39.0,669.2 40.0,668.6 41.0,668.0 42.0,667.3 43.0,666.6 44.0,666.0 45.0,665.2 46.0,664.5 47.0,663.7 48.0,662.9 49.0,662.1 50.0,661.2 51.0,660.4 52.0,659.4 53.0,658.5 54.0,657.5 55.0,656.6 56.0,655.6 57.0,654.6 58.0,653.6 59.0,652.6 60.0,651.6 61.0,650.6 62.0,649.5 63.0,648.5 64.0,647.4 65.0,646.4 66.0,645.3 67.0,644.2 68.0,643.1 69.0,641.9 70.0,640.8 71.0,639.6 72.0,638.5 73.0,637.3 74.0,636.1 75.0,634.9 76.0,633.8 77.0,632.6 78.0,631.4 79.0,630.3 80.0,629.2 81.0,628.0 82.0,626.9 83.0,625.7 84.0,624.5 85.0,623.2 86.0,621.9 87.0,620.6 88.0,619.3 89.0,617.9 90.0,616.5 91.0,615.1 92.0,613.7 93.0,612.3 94.0,610.9 95.0,609.5 96.0,608.1 97.0,606.7 98.0,605.4 99.0,604.1 100.0,602.8 101.0,601.6 102.0,600.4 103.0,599.2 104.0,598.1 105.0,597.0 106.0,595.9 107.0,594.9 108.0,593.9 109.0,592.9 110.0,592.0 111.0,591.1 112.0,590.3 113.0,589.5 114.0,588.7 115.0,588.0 116.0,587.3 117.0,586.6 118.0,586.0 119.0,585.4 120.0,584.8 121.0,584.2 122.0,583.7 123.0,583.2 124.0,582.7 125.0,582.2 126.0,581.9 127.0,581.5 128.0,581.2 129.0,580.9 130.0,580.6 131.0,580.4 132.0,580.2 133.0,580.0 134.0,579.8 135.0,579.7 136.0,579.5 137.0,579.4 138.0,579.4 139.0,579.3 140.0,579.3 141.0,579.3 142.0,579.3 143.0,579.4 144.0,579.5 145.0,579.6 146.0,579.7 147.0,579.9 148.0,580.1 149.0,580.3 150.0,580.6 151.0,580.9 152.0,581.2 153.0,581.6 154.0,581.9 155.0,582.4 156.0,582.8 157.0,583.3 158.0,583.8 159.0,584.3 160.0,584.8 161.0,585.3 162.0,585.9 163.0,586.4 164.0,587.0 165.0,587.5 166.0,588.1 167.0,588.7 168.0,589.2 169.0,589.8 170.0,590.4 171.0,591.0 172.0,591.6 173.0,592.2 174.0,592.8 175.0,593.4 176.0,594.0 177.0,594.5 178.0,595.1 179.0,595.7 180.0,596.3 181.0,597.0 182.0,597.6 183.0,598.2 184.0,598.8 185.0,599.5 186.0,600.1 187.0,600.8 188.0,601.5 189.0,602.1 190.0,602.8 191.0,603.5 192.0,604.1 193.0,604.8 194.0,605.4 195.0,606.1 196.0,606.7 197.0,607.4 198.0,608.0 199.0,608.6 200.0,609.2 201.0,609.8 202.0,610.4 203.0,611.0 204.0,611.6 205.0,612.2 206.0,612.8 207.0,613.4 208.0,614.0 209.0,614.6 210.0,615.2 211.0,615.8 212.0,616.5 213.0,617.1 214.0,617.7 215.0,618.3 216.0,618.9 217.0,619.5 218.0,620.1 219.0,620.7 220.0,621.3 221.0,621.9 222.0,622.5 223.0,623.1 224.0,623.6 225.0,624.2 226.0,624.8 227.0,625.4 228.0,625.9 229.0,626.5 230.0,627.1 231.0,627.7 232.0,628.2 233.0,628.8 234.0,629.3 235.0,629.9 236.0,630.5 237.0,631.0 238.0,631.5 239.0,632.1 240.0,632.6 241.0,633.1 242.0,633.6 243.0,634.1 244.0,634.6 245.0,635.1 246.0,635.6 247.0,636.1 248.0,636.6 249.0,637.0 250.0,637.5 251.0,638.0 252.0,638.4 253.0,638.9 254.0,639.3 255.0,639.8 256.0,640.2 257.0,640.6 258.0,641.0 259.0,641.5 260.0,641.9 261.0,642.3 262.0,642.7 263.0,643.1 264.0,643.5 265.0,643.8 266.0,644.2 267.0,644.6 268.0,645.0 269.0,645.4 270.0,645.7 271.0,646.1 272.0,646.4 273.0,646.8 274.0,647.1 275.0,647.5 276.0,647.8 277.0,648.1 278.0,648.5 279.0,648.8 280.0,649.1 281.0,649.4 282.0,649.7 283.0,650.0 284.0,650.3 285.0,650.6 286.0,650.8 287.0,651.1 288.0,651.4 289.0,651.7 290.0,651.9 291.0,652.2 292.0,652.4 293.0,652.7 294.0,652.9 295.0,653.2 296.0,653.4 297.0,653.6 298.0,653.8 299.0,654.0 300.0,654.3 301.0,654.5 302.0,654.7 303.0,654.8 304.0,655.0 305.0,655.2 306.0,655.4 307.0,655.6 308.0,655.8 309.0,655.9 310.0,656.1 311.0,656.3 312.0,656.4 313.0,656.6 314.0,656.7 315.0,656.9 316.0,657.0 317.0,657.1 318.0,657.3 319.0,657.4 320.0,657.5 321.0,657.6 322.0,657.7 323.0,657.9 324.0,658.0 325.0,658.1 326.0,658.2 327.0,658.3 328.0,658.4 329.0,658.5 330.0,658.6 331.0,658.7 332.0,658.7 333.0,658.8 334.0,658.8 335.0,658.9 336.0,658.9 337.0,659.0 338.0,659.0 339.0,659.0 340.0,659.1 341.0,659.1 342.0,659.1 343.0,659.2 344.0,659.2 345.0,659.2 346.0,659.2 347.0,659.2 348.0,659.3 349.0,659.3 350.0,659.3 351.0,659.3 352.0,659.3 353.0,659.3 354.0,659.3 355.0,659.3 356.0,659.2 357.0,659.2 358.0,659.2 359.0,659.2 360.0,659.1 361.0,659.1 362.0,659.0 363.0,659.0 364.0,658.9 365.0,658.9 366.0,658.8 367.0,658.8 368.0,658.7 369.0,658.7 370.0,658.6 371.0,658.5 372.0,658.5 373.0,658.4 374.0,658.4 375.0,658.3 376.0,658.2 377.0,658.1 378.0,658.1 379.0,658.0 380.0,657.9 381.0,657.8 382.0,657.7 383.0,657.7 384.0,657.6 385.0,657.5 386.0,657.4 387.0,657.3 388.0,657.3 389.0,657.2 390.0,657.1 391.0,657.0 392.0,656.9 393.0,656.8 394.0,656.8 395.0,656.7 396.0,656.6 397.0,656.5 398.0,656.4 399.0,656.3 400.0,656.2 401.0,656.1 402.0,656.1 403.0,656.0 404.0,655.9 405.0,655.8 406.0,655.7 407.0,655.6 408.0,655.5 409.0,655.4 410.0,655.4 411.0,655.3 412.0,655.2 413.0,655.1 414.0,655.0 415.0,654.9 416.0,654.8 417.0,654.7 418.0,654.7 419.0,654.6 420.0,654.5 421.0,654.4 422.0,654.3 423.0,654.3 424.0,654.2 425.0,654.1 426.0,654.1 427.0,654.0 428.0,653.9 429.0,653.9 430.0,653.8 431.0,653.7 432.0,653.7 433.0,653.6 434.0,653.5 435.0,653.5 436.0,653.4 437.0,653.4 438.0,653.3 439.0,653.3 440.0,653.2 441.0,653.1 442.0,653.1 443.0,653.0 444.0,653.0 445.0,652.9 446.0,652.9 447.0,652.8 448.0,652.8 449.0,652.7 450.0,652.7 451.0,652.6 452.0,652.6 453.0,652.5 454.0,652.5 455.0,652.4 456.0,652.4 457.0,652.3 458.0,652.3 459.0,652.2 460.0,652.2 461.0,652.2 462.0,652.1 463.0,652.1 464.0,652.0 465.0,652.0 466.0,651.9 467.0,651.9 468.0,651.9 469.0,651.8 470.0,651.8 471.0,651.7 472.0,651.7 473.0,651.7 474.0,651.6 475.0,651.6 476.0,651.6 477.0,651.5 478.0,651.5 479.0,651.5 480.0,651.4 481.0,651.4 482.0,651.4 483.0,651.3 484.0,651.3 485.0,651.3 486.0,651.3 487.0,651.2 488.0,651.2 489.0,651.2 490.0,651.2 491.0,651.1 492.0,651.1 493.0,651.1 494.0,651.1 495.0,651.1 496.0,651.0 497.0,651.0 498.0,651.0 499.0,651.0 500.0,651.0 501.0,651.0 502.0,651.0 503.0,650.9 504.0,650.9 505.0,650.9 506.0,650.9 507.0,650.9 508.0,650.9 509.0,650.9 510.0,650.9 511.0,650.9 512.0,650.9 513.0,650.9 514.0,650.9 515.0,650.9 516.0,650.9 517.0,650.9 518.0,650.9 519.0,650.9 520.0,650.9 521.0,650.9 522.0,650.9 523.0,650.9 524.0,650.9 525.0,650.9 526.0,650.9 527.0,650.9 528.0,650.9 529.0,650.9 530.0,650.9 531.0,650.9 532.0,650.9 533.0,650.9 534.0,650.9 535.0,650.9 536.0,651.0 537.0,651.0 538.0,651.0 539.0,651.0 540.0,651.0 541.0,651.0 542.0,651.0 543.0,651.1 544.0,651.1 545.0,651.1 546.0,651.1 547.0,651.1 548.0,651.2 549.0,651.2 550.0,651.2 551.0,651.3 552.0,651.3 553.0,651.3 554.0,651.4 555.0,651.4 556.0,651.5 557.0,651.5 558.0,651.6 559.0,651.6 560.0,651.7 561.0,651.7 562.0,651.8 563.0,651.8 564.0,651.9 565.0,651.9 566.0,652.0 567.0,652.0 568.0,652.1 569.0,652.2 570.0,652.2 571.0,652.3 572.0,652.4 573.0,652.4 574.0,652.5 575.0,652.6 576.0,652.7 577.0,652.8 578.0,652.8 579.0,652.9 580.0,653.0 581.0,653.1 582.0,653.2 583.0,653.3 584.0,653.4 585.0,653.5 586.0,653.6 587.0,653.7 588.0,653.8 589.0,653.9 590.0,654.0 591.0,654.1 592.0,654.2 593.0,654.3 594.0,654.5 595.0,654.6 596.0,654.7 597.0,654.8 598.0,655.0 599.0,655.1 600.0,655.2 601.0,655.4 602.0,655.5 603.0,655.6 604.0,655.8 605.0,655.9 606.0,656.1 607.0,656.2 608.0,656.4 609.0,656.5 610.0,656.7 611.0,656.8 612.0,657.0 613.0,657.2 614.0,657.3 615.0,657.5 616.0,657.6 617.0,657.8 618.0,658.0 619.0,658.1 620.0,658.3 621.0,658.5 622.0,658.7 623.0,658.8 624.0,659.0 625.0,659.2 626.0,659.4 627.0,659.6 628.0,659.7 629.0,659.9 630.0,660.1 631.0,660.3 632.0,660.5 633.0,660.7 634.0,660.9 635.0,661.2 636.0,661.4 637.0,661.6 638.0,661.8 639.0,662.0 640.0,662.3 641.0,662.5 642.0,662.7 643.0,663.0 644.0,663.2 645.0,663.4 646.0,663.7 647.0,663.9 648.0,664.2 649.0,664.4 650.0,664.6 651.0,664.9 652.0,665.1 653.0,665.3 654.0,665.6 655.0,665.8 656.0,666.0 657.0,666.3 658.0,666.5 659.0,666.7 660.0,666.9 661.0,667.1 662.0,667.3 663.0,667.5 664.0,667.8 665.0,668.0 666.0,668.2 667.0,668.4 668.0,668.6 669.0,668.8 670.0,669.0 671.0,669.2 672.0,669.4 673.0,669.6 674.0,669.8 675.0,670.0 676.0,670.2 677.0,670.4 678.0,670.6 679.0,670.8 680.0,671.0 681.0,671.2 682.0,671.4 683.0,671.6 684.0,671.7 685.0,671.9 686.0,672.1 687.0,672.3 688.0,672.4 689.0,672.6 690.0,672.8 691.0,672.9 692.0,673.1 693.0,673.2 694.0,673.4 695.0,673.5 696.0,673.7 697.0,673.8 698.0,674.0 699.0,674.1 700.0,674.2 701.0,674.4 702.0,674.5 703.0,674.6 704.0,674.8 705.0,674.9 706.0,675.0 707.0,675.1 708.0,675.3 709.0,675.4 710.0,675.5 711.0,675.6 712.0,675.7 713.0,675.9 714.0,676.0 715.0,676.1 716.0,676.2 717.0,676.3 718.0,676.4 719.0,676.5 720.0,676.6 721.0,676.7 722.0,676.8 723.0,676.9 724.0,677.0 725.0,677.1 726.0,677.2 727.0,677.3 728.0,677.5 729.0,677.6 730.0,677.7 731.0,677.8 732.0,677.9 733.0,678.0 734.0,678.1 735.0,678.2 736.0,678.2 737.0,678.3 738.0,678.4 739.0,678.5 740.0,678.6 741.0,678.7 742.0,678.8 743.0,678.9 744.0,679.0 745.0,679.1 746.0,679.1 747.0,679.2 748.0,679.3 749.0,679.4 750.0,679.4 751.0,679.5 752.0,679.6 753.0,679.6 754.0,679.7 755.0,679.7 756.0,679.8 757.0,679.8 758.0,679.9 759.0,679.9 760.0,680.0 761.0,680.0 762.0,680.1 763.0,680.1 764.0,680.2 765.0,680.2 766.0,680.3 767.0,680.3 768.0,680.4 769.0,680.4 770.0,680.5 771.0,680.5 772.0,680.6 773.0,680.6 774.0,680.6 775.0,680.7 776.0,680.7 777.0,680.8 778.0,680.8 779.0,680.8 780.0,680.9 781.0,680.9 782.0,680.9 783.0,681.0 784.0,681.0 785.0,681.0 786.0,681.0 787.0,681.1 788.0,681.1 789.0,681.1 790.0,681.1 791.0,681.1 792.0,681.2 793.0,681.2 794.0,681.2" fill="none" stroke="#0d0d12" stroke-width="1.1" stroke-opacity="0.9"/>
<line x1="212.6" y1="681.2" x2="212.6" y2="624.3" stroke="#28102e" stroke-width="3" stroke-opacity="0.92" stroke-dasharray="13.2 8.8"/>
</g>
<line x1="745" y1="281" x2="760" y2="281" stroke="#aaa" stroke-width="1.4"/>
<line x1="794" y1="381.2" x2="876.6" y2="381.2" stroke="#111" stroke-width="1.2"/>
<line x1="640" y1="480.6" x2="684" y2="480.6" stroke="#111" stroke-width="1.2"/>
<line x1="747" y1="581.2" x2="817.8" y2="581.2" stroke="#111" stroke-width="1.2"/>
<line x1="794" y1="681.2" x2="889" y2="681.2" stroke="#999" stroke-width="2"/>
<text x="265.0" y="225.3" font-size="29.0" text-anchor="start" fill="#000" font-family="'Liberation Serif', serif" font-style="italic" textLength="172.4" lengthAdjust="spacingAndGlyphs">EEMD+LSTM</text>
<text x="292.7" y="336.9" font-size="29.0" text-anchor="start" fill="#000" font-family="'Liberation Serif', serif" font-style="italic" textLength="160.6" lengthAdjust="spacingAndGlyphs">EEMD+CNN</text>
<text x="301.8" y="432.5" font-size="29.0" text-anchor="start" fill="#000" font-family="'Liberation Serif', serif" font-style="italic" textLength="72.5" lengthAdjust="spacingAndGlyphs">LSTM</text>
<text x="326.0" y="547.8" font-size="29.0" text-anchor="start" fill="#000" font-family="'Liberation Serif', serif" font-style="italic" textLength="57.8" lengthAdjust="spacingAndGlyphs">CNN</text>
<text x="313.8" y="640.5" font-size="29.0" text-anchor="start" fill="#000" font-family="'Liberation Serif', serif" font-style="italic" textLength="77.0" lengthAdjust="spacingAndGlyphs">Actual</text>
<line x1="0" y1="731.3" x2="889.4" y2="731.3" stroke="#4a4a4a" stroke-width="2"/>
<line x1="104.7" y1="731.3" x2="104.7" y2="741.0" stroke="#4a4a4a" stroke-width="2.1"/>
<line x1="273.4" y1="731.3" x2="273.4" y2="741.0" stroke="#4a4a4a" stroke-width="2.1"/>
<line x1="441.1" y1="731.3" x2="441.1" y2="741.0" stroke="#4a4a4a" stroke-width="2.1"/>
<line x1="608.7" y1="731.3" x2="608.7" y2="741.0" stroke="#4a4a4a" stroke-width="2.1"/>
<line x1="775.5" y1="731.3" x2="775.5" y2="741.0" stroke="#4a4a4a" stroke-width="2.1"/>
<text x="99.2" y="779.2" font-size="31.0" text-anchor="middle" fill="#000" font-family="'Liberation Serif', serif" stroke="#000" stroke-width="0.3" textLength="16.6" lengthAdjust="spacingAndGlyphs">0</text>
<text x="270.3" y="779.2" font-size="31.0" text-anchor="middle" fill="#000" font-family="'Liberation Serif', serif" stroke="#000" stroke-width="0.3" textLength="16.6" lengthAdjust="spacingAndGlyphs">5</text>
<text x="441.8" y="779.2" font-size="31.0" text-anchor="middle" fill="#000" font-family="'Liberation Serif', serif" stroke="#000" stroke-width="0.3" textLength="33.2" lengthAdjust="spacingAndGlyphs">10</text>
<text x="605.3" y="779.2" font-size="31.0" text-anchor="middle" fill="#000" font-family="'Liberation Serif', serif" stroke="#000" stroke-width="0.3" textLength="33.2" lengthAdjust="spacingAndGlyphs">15</text>
<text x="769.3" y="779.2" font-size="31.0" text-anchor="middle" fill="#000" font-family="'Liberation Serif', serif" stroke="#000" stroke-width="0.3" textLength="33.2" lengthAdjust="spacingAndGlyphs">20</text>
<text x="266.7" y="845.5" font-size="36.6" text-anchor="start" fill="#000" font-family="'Liberation Serif', serif" font-style="italic" stroke="#000" stroke-width="0.4" textLength="220.6" lengthAdjust="spacingAndGlyphs">Pan evaporation</text>
<text x="393.3" y="21.0" font-size="30.7" text-anchor="start" fill="#000" font-family="'Liberation Serif', serif" font-style="italic" font-weight="bold" stroke="#000" stroke-width="0.5" textLength="99.7" lengthAdjust="spacingAndGlyphs">Joy plot</text>
<text font-family="'Liberation Serif', serif" font-weight="bold" stroke="#000" stroke-width="0.9"><tspan x="413.6" y="108.7" font-size="49.5">(</tspan><tspan x="429.6" y="113.6" font-size="58">a</tspan><tspan x="457.2" y="108.7" font-size="49.5">)</tspan></text>
<text x="1432.6" y="24.9" font-size="33.0" text-anchor="start" fill="#000" font-family="'Liberation Serif', serif" font-style="italic" font-weight="bold" stroke="#000" stroke-width="0.6" textLength="220.4" lengthAdjust="spacingAndGlyphs">Taylor Diagram</text>
<text font-family="'Liberation Serif', serif" font-weight="bold" stroke="#000" stroke-width="0.9"><tspan x="1528.6" y="109.0" font-size="49.5">(</tspan><tspan x="1546.0" y="113.0" font-size="58">b</tspan><tspan x="1576.4" y="109.0" font-size="49.5">)</tspan></text>
<rect x="905.4" y="713.56" width="28.5" height="18.34" fill="#000004" shape-rendering="crispEdges"/>
<rect x="905.4" y="695.82" width="28.5" height="18.34" fill="#03030f" shape-rendering="crispEdges"/>
<rect x="905.4" y="678.08" width="28.5" height="18.34" fill="#090720" shape-rendering="crispEdges"/>
<rect x="905.4" y="660.34" width="28.5" height="18.34" fill="#120d31" shape-rendering="crispEdges"/>
<rect x="905.4" y="642.60" width="28.5" height="18.34" fill="#1c1044" shape-rendering="crispEdges"/>
<rect x="905.4" y="624.86" width="28.5" height="18.34" fill="#271254" shape-rendering="crispEdges"/>
<rect x="905.4" y="607.12" width="28.5" height="18.34" fill="#341062" shape-rendering="crispEdges"/>
<rect x="905.4" y="589.38" width="28.5" height="18.34" fill="#420f6b" shape-rendering="crispEdges"/>
<rect x="905.4" y="571.63" width="28.5" height="18.34" fill="#4f126e" shape-rendering="crispEdges"/>
<rect x="905.4" y="553.89" width="28.5" height="18.34" fill="#5c1672" shape-rendering="crispEdges"/>
<rect x="905.4" y="536.15" width="28.5" height="18.34" fill="#681c74" shape-rendering="crispEdges"/>
<rect x="905.4" y="518.41" width="28.5" height="18.34" fill="#752174" shape-rendering="crispEdges"/>
<rect x="905.4" y="500.67" width="28.5" height="18.34" fill="#812574" shape-rendering="crispEdges"/>
<rect x="905.4" y="482.93" width="28.5" height="18.34" fill="#8e2a74" shape-rendering="crispEdges"/>
<rect x="905.4" y="465.19" width="28.5" height="18.34" fill="#9b2e72" shape-rendering="crispEdges"/>
<rect x="905.4" y="447.45" width="28.5" height="18.34" fill="#a83270" shape-rendering="crispEdges"/>
<rect x="905.4" y="429.71" width="28.5" height="18.34" fill="#b5366d" shape-rendering="crispEdges"/>
<rect x="905.4" y="411.97" width="28.5" height="18.34" fill="#c23b68" shape-rendering="crispEdges"/>
<rect x="905.4" y="394.23" width="28.5" height="18.34" fill="#cf4063" shape-rendering="crispEdges"/>
<rect x="905.4" y="376.49" width="28.5" height="18.34" fill="#db475d" shape-rendering="crispEdges"/>
<rect x="905.4" y="358.75" width="28.5" height="18.34" fill="#e55057" shape-rendering="crispEdges"/>
<rect x="905.4" y="341.01" width="28.5" height="18.34" fill="#ee5b54" shape-rendering="crispEdges"/>
<rect x="905.4" y="323.27" width="28.5" height="18.34" fill="#f46954" shape-rendering="crispEdges"/>
<rect x="905.4" y="305.52" width="28.5" height="18.34" fill="#f97857" shape-rendering="crispEdges"/>
<rect x="905.4" y="287.78" width="28.5" height="18.34" fill="#fb875e" shape-rendering="crispEdges"/>
<rect x="905.4" y="270.04" width="28.5" height="18.34" fill="#fd9667" shape-rendering="crispEdges"/>
<rect x="905.4" y="252.30" width="28.5" height="18.34" fill="#fea36f" shape-rendering="crispEdges"/>
<rect x="905.4" y="234.56" width="28.5" height="18.34" fill="#feb27a" shape-rendering="crispEdges"/>
<rect x="905.4" y="216.82" width="28.5" height="18.34" fill="#fec185" shape-rendering="crispEdges"/>
<rect x="905.4" y="199.08" width="28.5" height="18.34" fill="#fecf92" shape-rendering="crispEdges"/>
<rect x="905.4" y="181.34" width="28.5" height="18.34" fill="#fddea0" shape-rendering="crispEdges"/>
<rect x="905.4" y="163.60" width="28.5" height="18.34" fill="#fcecae" shape-rendering="crispEdges"/>
<path d="M905.4,163.6 L933.9,163.6 L933.9,731.3 L905.4,731.3" fill="none" stroke="#4a4a4a" stroke-width="1.3"/>
<line x1="905.4" y1="163.6" x2="905.4" y2="731.3" stroke="#9a9a9a" stroke-width="1.4"/>
<line x1="929.4" y1="677.1" x2="934.4" y2="677.1" stroke="#333" stroke-width="1.3"/>
<line x1="929.4" y1="621.8" x2="934.4" y2="621.8" stroke="#333" stroke-width="1.3"/>
<line x1="929.4" y1="566.5" x2="934.4" y2="566.5" stroke="#333" stroke-width="1.3"/>
<line x1="929.4" y1="511.1" x2="934.4" y2="511.1" stroke="#333" stroke-width="1.3"/>
<line x1="929.4" y1="455.8" x2="934.4" y2="455.8" stroke="#333" stroke-width="1.3"/>
<line x1="929.4" y1="400.4" x2="934.4" y2="400.4" stroke="#333" stroke-width="1.3"/>
<line x1="929.4" y1="345.1" x2="934.4" y2="345.1" stroke="#333" stroke-width="1.3"/>
<line x1="929.4" y1="289.7" x2="934.4" y2="289.7" stroke="#333" stroke-width="1.3"/>
<line x1="929.4" y1="234.3" x2="934.4" y2="234.3" stroke="#333" stroke-width="1.3"/>
<line x1="929.4" y1="179.0" x2="934.4" y2="179.0" stroke="#333" stroke-width="1.3"/>
<text x="945.4" y="195.4" font-size="29.0" text-anchor="start" fill="#000" font-family="'Liberation Serif', serif" stroke="#000" stroke-width="0.3" textLength="52.0" lengthAdjust="spacingAndGlyphs">0.20</text>
<text x="945.0" y="246.2" font-size="29.0" text-anchor="start" fill="#000" font-family="'Liberation Serif', serif" stroke="#000" stroke-width="0.3" textLength="52.0" lengthAdjust="spacingAndGlyphs">0.18</text>
<text x="945.4" y="298.5" font-size="29.0" text-anchor="start" fill="#000" font-family="'Liberation Serif', serif" stroke="#000" stroke-width="0.3" textLength="52.0" lengthAdjust="spacingAndGlyphs">0.16</text>
<text x="945.4" y="350.5" font-size="29.0" text-anchor="start" fill="#000" font-family="'Liberation Serif', serif" stroke="#000" stroke-width="0.3" textLength="52.0" lengthAdjust="spacingAndGlyphs">0.14</text>
<text x="945.4" y="411.9" font-size="29.0" text-anchor="start" fill="#000" font-family="'Liberation Serif', serif" stroke="#000" stroke-width="0.3" textLength="52.0" lengthAdjust="spacingAndGlyphs">0.12</text>
<text x="945.4" y="464.5" font-size="29.0" text-anchor="start" fill="#000" font-family="'Liberation Serif', serif" stroke="#000" stroke-width="0.3" textLength="52.0" lengthAdjust="spacingAndGlyphs">0.10</text>
<text x="947.2" y="523.0" font-size="29.0" text-anchor="start" fill="#000" font-family="'Liberation Serif', serif" stroke="#000" stroke-width="0.3" textLength="52.0" lengthAdjust="spacingAndGlyphs">0.08</text>
<text x="945.4" y="575.6" font-size="29.0" text-anchor="start" fill="#000" font-family="'Liberation Serif', serif" stroke="#000" stroke-width="0.3" textLength="52.0" lengthAdjust="spacingAndGlyphs">0.06</text>
<text x="947.2" y="627.6" font-size="29.0" text-anchor="start" fill="#000" font-family="'Liberation Serif', serif" stroke="#000" stroke-width="0.3" textLength="52.0" lengthAdjust="spacingAndGlyphs">0.04</text>
<text x="944.0" y="683.9" font-size="29.0" text-anchor="start" fill="#000" font-family="'Liberation Serif', serif" stroke="#000" stroke-width="0.3" textLength="52.0" lengthAdjust="spacingAndGlyphs">0.02</text>
<text x="945.4" y="733.7" font-size="29.0" text-anchor="start" fill="#000" font-family="'Liberation Serif', serif" stroke="#000" stroke-width="0.3" textLength="37.0" lengthAdjust="spacingAndGlyphs">0.0</text>
<line x1="1155.8" y1="735.8" x2="1659.0" y2="238.7" stroke="#4a4a4a" stroke-width="2" stroke-dasharray="2.2 7.1"/>
<line x1="1155.8" y1="735.8" x2="1730.9" y2="318.2" stroke="#4a4a4a" stroke-width="2" stroke-dasharray="2.2 7.1"/>
<line x1="1155.8" y1="735.8" x2="1802.8" y2="432.4" stroke="#4a4a4a" stroke-width="2" stroke-dasharray="2.2 7.1"/>
<line x1="1155.8" y1="735.8" x2="1838.8" y2="518.5" stroke="#4a4a4a" stroke-width="2" stroke-dasharray="2.2 7.1"/>
<line x1="1155.8" y1="735.8" x2="1867.5" y2="637.6" stroke="#4a4a4a" stroke-width="2" stroke-dasharray="2.2 7.1"/>
<polyline points="1332.0,735.8 1332.0,734.5 1332.0,733.1 1332.0,731.8 1331.9,730.5 1331.9,729.2 1331.8,727.8 1331.7,726.5 1331.7,725.2 1331.6,723.8 1331.5,722.5 1331.4,721.2 1331.2,719.9 1331.1,718.5 1331.0,717.2 1330.8,715.9 1330.6,714.6 1330.5,713.3 1330.3,711.9 1330.1,710.6 1329.9,709.3 1329.6,708.0 1329.4,706.7 1329.2,705.4 1328.9,704.1 1328.7,702.8 1328.4,701.5 1328.1,700.2 1327.8,698.9 1327.5,697.6 1327.2,696.3 1326.9,695.0 1326.6,693.7 1326.2,692.4 1325.9,691.1 1325.5,689.8 1325.1,688.6 1324.7,687.3 1324.3,686.0 1323.9,684.7 1323.5,683.5 1323.1,682.2 1322.6,681.0 1322.2,679.7 1321.7,678.4 1321.3,677.2 1320.8,675.9 1320.3,674.7 1319.8,673.5 1319.3,672.2 1318.8,671.0 1318.3,669.8 1317.7,668.5 1317.2,667.3 1316.6,666.1 1316.1,664.9 1315.5,663.7 1314.9,662.5 1314.3,661.3 1313.7,660.1 1313.1,658.9 1312.5,657.7 1311.8,656.5 1311.2,655.4 1310.5,654.2 1309.9,653.0 1309.2,651.9 1308.5,650.7 1307.8,649.6 1307.1,648.4 1306.4,647.3 1305.7,646.2 1305.0,645.0 1304.3,643.9 1303.5,642.8 1302.8,641.7 1302.0,640.6 1301.2,639.5 1300.4,638.4 1299.7,637.3 1298.9,636.2 1298.1,635.1 1297.2,634.1 1296.4,633.0 1295.6,631.9 1294.7,630.9 1293.9,629.8 1293.0,628.8 1292.2,627.8 1291.3,626.7 1290.4,625.7 1289.5,624.7 1288.6,623.7 1287.7,622.7 1286.8,621.7 1285.9,620.7 1285.0,619.8 1284.0,618.8 1283.1,617.8 1282.1,616.9 1281.2,615.9 1280.2,615.0 1279.2,614.0 1278.2,613.1 1277.2,612.2 1276.2,611.3 1275.2,610.4 1274.2,609.5 1273.2,608.6 1272.2,607.7 1271.1,606.8 1270.1,606.0 1269.0,605.1 1268.0,604.3 1266.9,603.4 1265.9,602.6 1264.8,601.7 1263.7,600.9 1262.6,600.1 1261.5,599.3" fill="none" stroke="#5a6bff" stroke-width="2" stroke-dasharray="2.2 6.6"/>
<polyline points="1508.2,735.8 1508.2,733.1 1508.2,730.5 1508.1,727.8 1508.0,725.2 1507.9,722.5 1507.8,719.9 1507.7,717.2 1507.5,714.5 1507.3,711.9 1507.1,709.2 1506.9,706.6 1506.7,703.9 1506.4,701.3 1506.1,698.7 1505.8,696.0 1505.5,693.4 1505.1,690.7 1504.7,688.1 1504.3,685.5 1503.9,682.8 1503.5,680.2 1503.0,677.6 1502.6,675.0 1502.1,672.4 1501.5,669.8 1501.0,667.1 1500.4,664.5 1499.8,661.9 1499.2,659.4 1498.6,656.8 1498.0,654.2 1497.3,651.6 1496.6,649.0 1495.9,646.5 1495.2,643.9 1494.4,641.3 1493.7,638.8 1492.9,636.2 1492.1,633.7 1491.2,631.2 1490.4,628.6 1489.5,626.1 1488.6,623.6 1487.7,621.1 1486.8,618.6 1485.8,616.1 1484.8,613.6 1483.8,611.1 1482.8,608.7 1481.8,606.2 1480.7,603.7 1479.7,601.3 1478.6,598.9 1477.5,596.4 1476.3,594.0 1475.2,591.6 1474.0,589.2 1472.8,586.8 1471.6,584.4 1470.4,582.0 1469.1,579.7 1467.9,577.3 1466.6,574.9 1465.3,572.6 1464.0,570.3 1462.6,568.0 1461.3,565.6 1459.9,563.3 1458.5,561.1 1457.1,558.8 1455.6,556.5 1454.2,554.3 1452.7,552.0 1451.2,549.8 1449.7,547.6 1448.2,545.3 1446.6,543.1 1445.1,541.0 1443.5,538.8 1441.9,536.6 1440.3,534.5 1438.7,532.3 1437.0,530.2 1435.4,528.1 1433.7,526.0 1432.0,523.9 1430.3,521.8 1428.5,519.7 1426.8,517.7 1425.0,515.6 1423.3,513.6 1421.5,511.6 1419.6,509.6 1417.8,507.6 1416.0,505.7 1414.1,503.7 1412.2,501.8 1410.3,499.8 1408.4,497.9 1406.5,496.0 1404.6,494.1 1402.6,492.3 1400.7,490.4 1398.7,488.6 1396.7,486.8 1394.7,484.9 1392.6,483.1 1390.6,481.4 1388.5,479.6 1386.5,477.9 1384.4,476.1 1382.3,474.4 1380.2,472.7 1378.1,471.0 1375.9,469.4 1373.8,467.7 1371.6,466.1 1369.4,464.4 1367.2,462.8" fill="none" stroke="#5a6bff" stroke-width="2" stroke-dasharray="2.2 6.6"/>
<polyline points="1684.4,735.8 1684.4,731.8 1684.3,727.8 1684.3,723.8 1684.1,719.8 1684.0,715.9 1683.8,711.9 1683.6,707.9 1683.4,703.9 1683.1,699.9 1682.8,696.0 1682.5,692.0 1682.1,688.0 1681.7,684.0 1681.3,680.1 1680.8,676.1 1680.3,672.2 1679.8,668.2 1679.2,664.2 1678.6,660.3 1678.0,656.4 1677.3,652.4 1676.7,648.5 1675.9,644.6 1675.2,640.6 1674.4,636.7 1673.6,632.8 1672.7,628.9 1671.9,625.0 1671.0,621.1 1670.0,617.2 1669.1,613.4 1668.1,609.5 1667.0,605.6 1666.0,601.8 1664.9,597.9 1663.7,594.1 1662.6,590.3 1661.4,586.5 1660.2,582.6 1658.9,578.8 1657.7,575.1 1656.3,571.3 1655.0,567.5 1653.6,563.7 1652.2,560.0 1650.8,556.2 1649.3,552.5 1647.9,548.8 1646.3,545.1 1644.8,541.4 1643.2,537.7 1641.6,534.0 1640.0,530.4 1638.3,526.7 1636.6,523.1 1634.9,519.5 1633.1,515.9 1631.3,512.3 1629.5,508.7 1627.7,505.1 1625.8,501.6 1623.9,498.0 1622.0,494.5 1620.0,491.0 1618.0,487.5 1616.0,484.0 1614.0,480.6 1611.9,477.1 1609.8,473.7 1607.7,470.3 1605.5,466.9 1603.4,463.5 1601.2,460.1 1598.9,456.8 1596.7,453.4 1594.4,450.1 1592.1,446.8 1589.7,443.5 1587.4,440.3 1585.0,437.0 1582.6,433.8 1580.1,430.6 1577.6,427.4 1575.1,424.2 1572.6,421.1 1570.1,417.9 1567.5,414.8 1564.9,411.7 1562.3,408.6 1559.6,405.6 1557.0,402.5 1554.3,399.5 1551.6,396.5 1548.8,393.5 1546.1,390.6 1543.3,387.7 1540.5,384.7 1537.6,381.9 1534.8,379.0 1531.9,376.1 1529.0,373.3 1526.0,370.5 1523.1,367.7 1520.1,365.0 1517.1,362.2 1514.1,359.5 1511.1,356.8 1508.0,354.2 1504.9,351.5 1501.8,348.9 1498.7,346.3 1495.5,343.7 1492.4,341.2 1489.2,338.6 1486.0,336.1 1482.8,333.6 1479.5,331.2 1476.2,328.8 1473.0,326.4" fill="none" stroke="#5a6bff" stroke-width="2" stroke-dasharray="2.2 6.6"/>
<polyline points="1860.6,735.8 1860.6,730.5 1860.5,725.2 1860.4,719.8 1860.3,714.5 1860.1,709.2 1859.8,703.9 1859.6,698.6 1859.2,693.3 1858.9,688.0 1858.5,682.7 1858.0,677.4 1857.5,672.1 1857.0,666.8 1856.4,661.5 1855.8,656.2 1855.1,650.9 1854.4,645.7 1853.7,640.4 1852.9,635.1 1852.1,629.9 1851.2,624.6 1850.3,619.4 1849.3,614.2 1848.3,608.9 1847.3,603.7 1846.2,598.5 1845.1,593.3 1843.9,588.1 1842.7,582.9 1841.4,577.7 1840.1,572.6 1838.8,567.4 1837.4,562.2 1836.0,557.1 1834.5,552.0 1833.0,546.9 1831.5,541.8 1829.9,536.7 1828.3,531.6 1826.6,526.5 1824.9,521.5 1823.2,516.4 1821.4,511.4 1819.6,506.4 1817.7,501.4 1815.8,496.4 1813.9,491.4 1811.9,486.5 1809.8,481.5 1807.8,476.6 1805.7,471.7 1803.5,466.8 1801.3,461.9 1799.1,457.1 1796.9,452.2 1794.6,447.4 1792.2,442.6 1789.8,437.8 1787.4,433.0 1785.0,428.2 1782.5,423.5 1779.9,418.8 1777.4,414.1 1774.8,409.4 1772.1,404.8 1769.4,400.1 1766.7,395.5 1763.9,390.9 1761.2,386.3 1758.3,381.8 1755.5,377.2 1752.6,372.7 1749.6,368.2 1746.6,363.7 1743.6,359.3 1740.6,354.9 1737.5,350.5 1734.4,346.1 1731.2,341.7 1728.0,337.4 1724.8,333.1 1721.5,328.8 1718.3,324.6 1714.9,320.3 1711.6,316.1 1708.2,312.0 1704.7,307.8 1701.3,303.7 1697.8,299.6 1694.3,295.5 1690.7,291.5 1687.1,287.4 1683.5,283.4 1679.8,279.5 1676.1,275.5 1672.4,271.6 1668.7,267.7 1664.9,263.9 1661.1,260.0 1657.2,256.3 1653.4,252.5 1649.4,248.7 1645.5,245.0 1641.5,241.4 1637.6,237.7 1633.5,234.1 1629.5,230.5 1625.4,226.9 1621.3,223.4 1617.2,219.9 1613.0,216.4 1608.8,213.0 1604.6,209.6 1600.3,206.2 1596.0,202.9 1591.7,199.6 1587.4,196.3 1583.1,193.1 1578.7,189.9" fill="none" stroke="#5a6bff" stroke-width="2" stroke-dasharray="2.2 6.6"/>
<g clip-path="url(#sec)">
<polyline points="1722.9,729.4 1722.8,728.1 1722.7,726.8 1722.5,725.6 1722.4,724.3 1722.2,723.0 1722.0,721.8 1721.7,720.5 1721.5,719.2 1721.2,718.0 1720.9,716.7 1720.6,715.5 1720.3,714.2 1720.0,713.0 1719.6,711.8 1719.2,710.5 1718.8,709.3 1718.4,708.1 1718.0,706.9 1717.5,705.7 1717.0,704.5 1716.5,703.3 1716.0,702.1 1715.5,701.0 1714.9,699.8 1714.4,698.6 1713.8,697.5 1713.2,696.3 1712.5,695.2 1711.9,694.1 1711.3,693.0 1710.6,691.9 1709.9,690.8 1709.2,689.7 1708.5,688.6 1707.7,687.6 1707.0,686.5 1706.2,685.5 1705.4,684.4 1704.6,683.4 1703.8,682.4 1702.9,681.4 1702.1,680.4 1701.2,679.5 1700.3,678.5 1699.4,677.6 1698.5,676.6 1697.6,675.7 1696.7,674.8 1695.7,673.9 1694.7,673.0 1693.8,672.2 1692.8,671.3 1691.8,670.5 1690.7,669.7 1689.7,668.9 1688.7,668.1 1687.6,667.3 1686.5,666.6 1685.4,665.8 1684.4,665.1 1683.3,664.4 1682.1,663.7 1681.0,663.0 1679.9,662.4 1678.7,661.7 1677.6,661.1 1676.4,660.5 1675.2,659.9 1674.1,659.3 1672.9,658.8 1671.7,658.2 1670.5,657.7 1669.2,657.2 1668.0,656.7 1666.8,656.2 1665.5,655.8 1664.3,655.3 1663.0,654.9 1661.8,654.5 1660.5,654.1 1659.2,653.8 1658.0,653.4 1656.7,653.1 1655.4,652.8 1654.1,652.5 1652.8,652.3 1651.5,652.0 1650.2,651.8 1648.9,651.6 1647.6,651.4 1646.3,651.2 1645.0,651.0 1643.7,650.9 1642.3,650.8 1641.0,650.7 1639.7,650.6 1638.4,650.6 1637.1,650.5 1635.7,650.5 1634.4,650.5 1633.1,650.5 1631.8,650.6 1630.4,650.6 1629.1,650.7 1627.8,650.8 1626.5,650.9 1625.2,651.0 1623.8,651.2 1622.5,651.4 1621.2,651.6 1619.9,651.8 1618.6,652.0 1617.3,652.3 1616.0,652.5 1614.7,652.8 1613.4,653.1 1612.2,653.4 1610.9,653.8 1609.6,654.1 1608.3,654.5 1607.1,654.9 1605.8,655.3 1604.6,655.8 1603.3,656.2 1602.1,656.7 1600.9,657.2 1599.7,657.7 1598.5,658.2 1597.3,658.8 1596.1,659.3 1594.9,659.9 1593.7,660.5 1592.5,661.1 1591.4,661.7 1590.2,662.4 1589.1,663.0 1588.0,663.7 1586.9,664.4 1585.8,665.1 1584.7,665.8 1583.6,666.6 1582.5,667.3 1581.5,668.1 1580.4,668.9 1579.4,669.7 1578.4,670.5 1577.4,671.3 1576.4,672.2 1575.4,673.0 1574.4,673.9 1573.5,674.8 1572.5,675.7 1571.6,676.6 1570.7,677.6 1569.8,678.5 1568.9,679.5 1568.0,680.4 1567.2,681.4 1566.4,682.4 1565.5,683.4 1564.7,684.4 1563.9,685.5 1563.2,686.5 1562.4,687.6 1561.7,688.6 1560.9,689.7 1560.2,690.8 1559.5,691.9 1558.9,693.0 1558.2,694.1 1557.6,695.2 1557.0,696.3 1556.4,697.5 1555.8,698.6 1555.2,699.8 1554.7,701.0 1554.1,702.1 1553.6,703.3 1553.1,704.5 1552.6,705.7 1552.2,706.9 1551.7,708.1 1551.3,709.3 1550.9,710.5 1550.5,711.8 1550.2,713.0 1549.8,714.2 1549.5,715.5 1549.2,716.7 1548.9,718.0 1548.6,719.2 1548.4,720.5 1548.2,721.8 1548.0,723.0 1547.8,724.3 1547.6,725.6 1547.5,726.8 1547.3,728.1 1547.2,729.4" fill="none" stroke="#36d9de" stroke-width="1.9"/>
<polyline points="1811.1,729.4 1811.0,726.8 1810.9,724.2 1810.6,721.5 1810.4,718.9 1810.1,716.3 1809.8,713.7 1809.4,711.1 1809.0,708.5 1808.5,705.9 1808.0,703.3 1807.5,700.7 1806.9,698.2 1806.3,695.6 1805.6,693.1 1804.9,690.5 1804.2,688.0 1803.4,685.5 1802.6,683.0 1801.7,680.5 1800.8,678.0 1799.9,675.5 1798.9,673.1 1797.9,670.6 1796.8,668.2 1795.8,665.8 1794.6,663.4 1793.4,661.0 1792.2,658.7 1791.0,656.4 1789.7,654.0 1788.4,651.7 1787.0,649.5 1785.6,647.2 1784.2,645.0 1782.8,642.8 1781.3,640.6 1779.7,638.4 1778.2,636.2 1776.6,634.1 1774.9,632.0 1773.2,630.0 1771.5,627.9 1769.8,625.9 1768.0,623.9 1766.3,621.9 1764.4,620.0 1762.6,618.1 1760.7,616.2 1758.8,614.3 1756.8,612.5 1754.8,610.7 1752.8,608.9 1750.8,607.2 1748.7,605.4 1746.6,603.8 1744.5,602.1 1742.4,600.5 1740.2,598.9 1738.0,597.4 1735.8,595.8 1733.6,594.4 1731.3,592.9 1729.0,591.5 1726.7,590.1 1724.4,588.7 1722.0,587.4 1719.7,586.2 1717.3,584.9 1714.9,583.7 1712.4,582.5 1710.0,581.4 1707.5,580.3 1705.0,579.2 1702.5,578.2 1700.0,577.2 1697.5,576.3 1694.9,575.4 1692.4,574.5 1689.8,573.6 1687.2,572.8 1684.6,572.1 1682.0,571.4 1679.4,570.7 1676.8,570.0 1674.1,569.4 1671.5,568.9 1668.8,568.4 1666.1,567.9 1663.4,567.4 1660.8,567.0 1658.1,566.7 1655.4,566.3 1652.7,566.1 1650.0,565.8 1647.3,565.6 1644.6,565.4 1641.9,565.3 1639.1,565.2 1636.4,565.2 1633.7,565.2 1631.0,565.2 1628.3,565.3 1625.6,565.4 1622.9,565.6 1620.1,565.8 1617.4,566.1 1614.7,566.3 1612.1,566.7 1609.4,567.0 1606.7,567.4 1604.0,567.9 1601.3,568.4 1598.7,568.9 1596.0,569.4 1593.4,570.0 1590.7,570.7 1588.1,571.4 1585.5,572.1 1582.9,572.8 1580.3,573.6 1577.7,574.5 1575.2,575.4 1572.6,576.3 1570.1,577.2 1567.6,578.2 1565.1,579.2 1562.6,580.3 1560.1,581.4 1557.7,582.5 1555.3,583.7 1552.9,584.9 1550.5,586.2 1548.1,587.4 1545.7,588.7 1543.4,590.1 1541.1,591.5 1538.8,592.9 1536.6,594.4 1534.3,595.8 1532.1,597.4 1529.9,598.9 1527.7,600.5 1525.6,602.1 1523.5,603.8 1521.4,605.4 1519.3,607.2 1517.3,608.9 1515.3,610.7 1513.3,612.5 1511.4,614.3 1509.5,616.2 1507.6,618.1 1505.7,620.0 1503.9,621.9 1502.1,623.9 1500.3,625.9 1498.6,627.9 1496.9,630.0 1495.2,632.0 1493.6,634.1 1492.0,636.2 1490.4,638.4 1488.9,640.6 1487.4,642.8 1485.9,645.0 1484.5,647.2 1483.1,649.5 1481.7,651.7 1480.4,654.0 1479.1,656.4 1477.9,658.7 1476.7,661.0 1475.5,663.4 1474.4,665.8 1473.3,668.2 1472.2,670.6 1471.2,673.1 1470.2,675.5 1469.3,678.0 1468.4,680.5 1467.5,683.0 1466.7,685.5 1465.9,688.0 1465.2,690.5 1464.5,693.1 1463.8,695.6 1463.2,698.2 1462.6,700.7 1462.1,703.3 1461.6,705.9 1461.1,708.5 1460.7,711.1 1460.4,713.7 1460.0,716.3 1459.7,718.9 1459.5,721.5 1459.3,724.2 1459.1,726.8 1459.0,729.4" fill="none" stroke="#36d9de" stroke-width="1.9"/>
<polyline points="1899.3,729.4 1899.1,725.4 1898.9,721.5 1898.7,717.5 1898.4,713.5 1898.0,709.6 1897.5,705.6 1897.0,701.7 1896.4,697.7 1895.8,693.8 1895.1,689.9 1894.3,686.0 1893.5,682.1 1892.6,678.2 1891.6,674.4 1890.6,670.5 1889.5,666.7 1888.4,662.8 1887.2,659.0 1885.9,655.3 1884.6,651.5 1883.2,647.8 1881.8,644.0 1880.3,640.3 1878.7,636.7 1877.1,633.0 1875.4,629.4 1873.7,625.8 1871.9,622.2 1870.0,618.6 1868.1,615.1 1866.2,611.6 1864.1,608.2 1862.1,604.7 1859.9,601.3 1857.8,598.0 1855.5,594.6 1853.2,591.3 1850.9,588.1 1848.5,584.9 1846.0,581.7 1843.5,578.5 1841.0,575.4 1838.4,572.3 1835.7,569.3 1833.0,566.3 1830.3,563.3 1827.5,560.4 1824.7,557.5 1821.8,554.7 1818.9,551.9 1815.9,549.2 1812.9,546.5 1809.8,543.8 1806.7,541.2 1803.6,538.7 1800.4,536.1 1797.2,533.7 1793.9,531.3 1790.6,528.9 1787.3,526.6 1783.9,524.3 1780.5,522.1 1777.0,520.0 1773.6,517.8 1770.0,515.8 1766.5,513.8 1762.9,511.8 1759.3,509.9 1755.7,508.1 1752.0,506.3 1748.3,504.6 1744.6,502.9 1740.8,501.3 1737.1,499.7 1733.3,498.2 1729.4,496.8 1725.6,495.4 1721.7,494.0 1717.8,492.8 1713.9,491.6 1710.0,490.4 1706.0,489.3 1702.1,488.3 1698.1,487.3 1694.1,486.4 1690.1,485.5 1686.1,484.7 1682.0,484.0 1678.0,483.3 1673.9,482.7 1669.9,482.1 1665.8,481.6 1661.7,481.2 1657.6,480.8 1653.5,480.5 1649.4,480.3 1645.3,480.1 1641.2,480.0 1637.1,479.9 1633.0,479.9 1628.9,480.0 1624.8,480.1 1620.7,480.3 1616.6,480.5 1612.5,480.8 1608.4,481.2 1604.3,481.6 1600.3,482.1 1596.2,482.7 1592.1,483.3 1588.1,484.0 1584.1,484.7 1580.0,485.5 1576.0,486.4 1572.0,487.3 1568.1,488.3 1564.1,489.3 1560.1,490.4 1556.2,491.6 1552.3,492.8 1548.4,494.0 1544.5,495.4 1540.7,496.8 1536.9,498.2 1533.1,499.7 1529.3,501.3 1525.6,502.9 1521.8,504.6 1518.1,506.3 1514.5,508.1 1510.8,509.9 1507.2,511.8 1503.6,513.8 1500.1,515.8 1496.6,517.8 1493.1,520.0 1489.7,522.1 1486.2,524.3 1482.9,526.6 1479.5,528.9 1476.2,531.3 1473.0,533.7 1469.7,536.1 1466.6,538.7 1463.4,541.2 1460.3,543.8 1457.3,546.5 1454.2,549.2 1451.3,551.9 1448.3,554.7 1445.5,557.5 1442.6,560.4 1439.8,563.3 1437.1,566.3 1434.4,569.3 1431.7,572.3 1429.1,575.4 1426.6,578.5 1424.1,581.7 1421.6,584.9 1419.2,588.1 1416.9,591.3 1414.6,594.6 1412.4,598.0 1410.2,601.3 1408.1,604.7 1406.0,608.2 1404.0,611.6 1402.0,615.1 1400.1,618.6 1398.2,622.2 1396.4,625.8 1394.7,629.4 1393.0,633.0 1391.4,636.7 1389.8,640.3 1388.3,644.0 1386.9,647.8 1385.5,651.5 1384.2,655.3 1382.9,659.0 1381.7,662.8 1380.6,666.7 1379.5,670.5 1378.5,674.4 1377.5,678.2 1376.6,682.1 1375.8,686.0 1375.1,689.9 1374.3,693.8 1373.7,697.7 1373.1,701.7 1372.6,705.6 1372.2,709.6 1371.8,713.5 1371.4,717.5 1371.2,721.5 1371.0,725.4 1370.8,729.4" fill="none" stroke="#36d9de" stroke-width="1.9"/>
<polyline points="1987.4,729.4 1987.3,724.1 1987.0,718.8 1986.7,713.5 1986.3,708.1 1985.8,702.8 1985.2,697.5 1984.6,692.3 1983.8,687.0 1983.0,681.7 1982.1,676.5 1981.1,671.2 1980.0,666.0 1978.9,660.8 1977.6,655.6 1976.3,650.5 1974.9,645.3 1973.4,640.2 1971.8,635.1 1970.1,630.1 1968.4,625.0 1966.5,620.0 1964.6,615.0 1962.6,610.0 1960.6,605.1 1958.4,600.2 1956.2,595.3 1953.9,590.5 1951.5,585.7 1949.1,580.9 1946.5,576.2 1943.9,571.5 1941.3,566.9 1938.5,562.3 1935.7,557.7 1932.8,553.2 1929.8,548.7 1926.7,544.3 1923.6,539.9 1920.4,535.6 1917.2,531.3 1913.8,527.1 1910.4,522.9 1907.0,518.7 1903.4,514.7 1899.8,510.6 1896.2,506.7 1892.5,502.8 1888.7,498.9 1884.8,495.1 1880.9,491.4 1877.0,487.7 1872.9,484.0 1868.8,480.5 1864.7,477.0 1860.5,473.6 1856.2,470.2 1851.9,466.9 1847.6,463.6 1843.2,460.5 1838.7,457.3 1834.2,454.3 1829.6,451.3 1825.0,448.4 1820.4,445.6 1815.7,442.8 1810.9,440.1 1806.2,437.5 1801.3,435.0 1796.5,432.5 1791.6,430.1 1786.6,427.8 1781.6,425.5 1776.6,423.3 1771.6,421.2 1766.5,419.2 1761.4,417.3 1756.2,415.4 1751.0,413.6 1745.8,411.9 1740.6,410.3 1735.4,408.7 1730.1,407.2 1724.8,405.8 1719.4,404.5 1714.1,403.3 1708.7,402.1 1703.3,401.1 1697.9,400.1 1692.5,399.2 1687.1,398.3 1681.7,397.6 1676.2,396.9 1670.7,396.4 1665.3,395.9 1659.8,395.4 1654.3,395.1 1648.8,394.9 1643.3,394.7 1637.8,394.6 1632.3,394.6 1626.8,394.7 1621.3,394.9 1615.8,395.1 1610.3,395.4 1604.9,395.9 1599.4,396.4 1593.9,396.9 1588.5,397.6 1583.0,398.3 1577.6,399.2 1572.2,400.1 1566.8,401.1 1561.4,402.1 1556.0,403.3 1550.7,404.5 1545.4,405.8 1540.1,407.2 1534.8,408.7 1529.5,410.3 1524.3,411.9 1519.1,413.6 1513.9,415.4 1508.8,417.3 1503.6,419.2 1498.6,421.2 1493.5,423.3 1488.5,425.5 1483.5,427.8 1478.6,430.1 1473.7,432.5 1468.8,435.0 1464.0,437.5 1459.2,440.1 1454.4,442.8 1449.7,445.6 1445.1,448.4 1440.5,451.3 1435.9,454.3 1431.4,457.3 1427.0,460.5 1422.5,463.6 1418.2,466.9 1413.9,470.2 1409.6,473.6 1405.4,477.0 1401.3,480.5 1397.2,484.0 1393.2,487.7 1389.2,491.4 1385.3,495.1 1381.5,498.9 1377.7,502.8 1373.9,506.7 1370.3,510.6 1366.7,514.7 1363.2,518.7 1359.7,522.9 1356.3,527.1 1353.0,531.3 1349.7,535.6 1346.5,539.9 1343.4,544.3 1340.4,548.7 1337.4,553.2 1334.5,557.7 1331.6,562.3 1328.9,566.9 1326.2,571.5 1323.6,576.2 1321.1,580.9 1318.6,585.7 1316.2,590.5 1313.9,595.3 1311.7,600.2 1309.5,605.1 1307.5,610.0 1305.5,615.0 1303.6,620.0 1301.8,625.0 1300.0,630.1 1298.4,635.1 1296.8,640.2 1295.3,645.3 1293.9,650.5 1292.5,655.6 1291.3,660.8 1290.1,666.0 1289.0,671.2 1288.0,676.5 1287.1,681.7 1286.3,687.0 1285.5,692.3 1284.9,697.5 1284.3,702.8 1283.8,708.1 1283.4,713.5 1283.1,718.8 1282.9,724.1 1282.7,729.4" fill="none" stroke="#36d9de" stroke-width="1.9"/>
<polyline points="2075.5,729.4 2075.4,722.7 2075.1,716.1 2074.7,709.4 2074.2,702.8 2073.7,696.1 2073.0,689.5 2072.2,682.9 2071.2,676.2 2070.2,669.7 2069.1,663.1 2067.9,656.5 2066.6,650.0 2065.1,643.4 2063.6,636.9 2061.9,630.5 2060.2,624.0 2058.3,617.6 2056.3,611.2 2054.3,604.8 2052.1,598.5 2049.9,592.2 2047.5,586.0 2045.0,579.7 2042.4,573.5 2039.8,567.4 2037.0,561.3 2034.1,555.2 2031.2,549.2 2028.1,543.2 2025.0,537.3 2021.7,531.4 2018.4,525.6 2014.9,519.8 2011.4,514.1 2007.7,508.4 2004.0,502.8 2000.2,497.3 1996.3,491.8 1992.3,486.3 1988.3,480.9 1984.1,475.6 1979.9,470.4 1975.5,465.2 1971.1,460.1 1966.6,455.0 1962.1,450.0 1957.4,445.1 1952.7,440.3 1947.9,435.5 1943.0,430.8 1938.0,426.2 1933.0,421.6 1927.9,417.2 1922.7,412.8 1917.4,408.4 1912.1,404.2 1906.7,400.1 1901.3,396.0 1895.7,392.0 1890.2,388.1 1884.5,384.3 1878.8,380.5 1873.0,376.9 1867.2,373.3 1861.3,369.9 1855.4,366.5 1849.4,363.2 1843.4,360.0 1837.3,356.9 1831.1,353.9 1824.9,351.0 1818.7,348.1 1812.4,345.4 1806.1,342.8 1799.7,340.2 1793.3,337.8 1786.9,335.4 1780.4,333.2 1773.9,331.0 1767.3,329.0 1760.7,327.0 1754.1,325.2 1747.5,323.4 1740.8,321.8 1734.1,320.2 1727.4,318.8 1720.6,317.4 1713.8,316.2 1707.1,315.0 1700.3,314.0 1693.4,313.1 1686.6,312.2 1679.8,311.5 1672.9,310.9 1666.0,310.4 1659.2,309.9 1652.3,309.6 1645.4,309.4 1638.5,309.3 1631.6,309.3 1624.7,309.4 1617.8,309.6 1611.0,309.9 1604.1,310.4 1597.2,310.9 1590.4,311.5 1583.5,312.2 1576.7,313.1 1569.9,314.0 1563.1,315.0 1556.3,316.2 1549.5,317.4 1542.8,318.8 1536.0,320.2 1529.3,321.8 1522.7,323.4 1516.0,325.2 1509.4,327.0 1502.8,329.0 1496.3,331.0 1489.8,333.2 1483.3,335.4 1476.8,337.8 1470.4,340.2 1464.0,342.8 1457.7,345.4 1451.4,348.1 1445.2,351.0 1439.0,353.9 1432.9,356.9 1426.8,360.0 1420.7,363.2 1414.7,366.5 1408.8,369.9 1402.9,373.3 1397.1,376.9 1391.3,380.5 1385.6,384.3 1380.0,388.1 1374.4,392.0 1368.9,396.0 1363.4,400.1 1358.0,404.2 1352.7,408.4 1347.4,412.8 1342.3,417.2 1337.2,421.6 1332.1,426.2 1327.2,430.8 1322.3,435.5 1317.5,440.3 1312.7,445.1 1308.1,450.0 1303.5,455.0 1299.0,460.1 1294.6,465.2 1290.3,470.4 1286.0,475.6 1281.9,480.9 1277.8,486.3 1273.8,491.8 1269.9,497.3 1266.1,502.8 1262.4,508.4 1258.8,514.1 1255.2,519.8 1251.8,525.6 1248.4,531.4 1245.2,537.3 1242.0,543.2 1239.0,549.2 1236.0,555.2 1233.1,561.3 1230.4,567.4 1227.7,573.5 1225.1,579.7 1222.6,586.0 1220.3,592.2 1218.0,598.5 1215.8,604.8 1213.8,611.2 1211.8,617.6 1210.0,624.0 1208.2,630.5 1206.6,636.9 1205.0,643.4 1203.6,650.0 1202.2,656.5 1201.0,663.1 1199.9,669.7 1198.9,676.2 1198.0,682.9 1197.2,689.5 1196.5,696.1 1195.9,702.8 1195.4,709.4 1195.0,716.1 1194.8,722.7 1194.6,729.4" fill="none" stroke="#36d9de" stroke-width="1.9"/>
<polyline points="2163.6,729.4 2163.5,721.4 2163.2,713.4 2162.7,705.4 2162.2,697.4 2161.5,689.4 2160.7,681.4 2159.7,673.4 2158.7,665.5 2157.5,657.6 2156.1,649.7 2154.7,641.8 2153.1,633.9 2151.4,626.1 2149.5,618.2 2147.6,610.5 2145.5,602.7 2143.3,595.0 2140.9,587.3 2138.5,579.6 2135.9,572.0 2133.2,564.5 2130.3,556.9 2127.4,549.4 2124.3,542.0 2121.1,534.6 2117.8,527.3 2114.4,520.0 2110.8,512.7 2107.1,505.5 2103.4,498.4 2099.5,491.3 2095.4,484.3 2091.3,477.4 2087.1,470.5 2082.7,463.7 2078.3,456.9 2073.7,450.2 2069.0,443.6 2064.3,437.1 2059.4,430.6 2054.4,424.2 2049.3,417.9 2044.1,411.6 2038.8,405.5 2033.4,399.4 2027.9,393.4 2022.3,387.5 2016.7,381.6 2010.9,375.9 2005.0,370.2 1999.1,364.7 1993.0,359.2 1986.9,353.8 1980.7,348.5 1974.4,343.3 1968.0,338.2 1961.5,333.2 1954.9,328.3 1948.3,323.5 1941.6,318.8 1934.8,314.3 1928.0,309.8 1921.0,305.4 1914.0,301.1 1907.0,296.9 1899.8,292.8 1892.6,288.9 1885.4,285.0 1878.1,281.3 1870.7,277.7 1863.2,274.1 1855.8,270.7 1848.2,267.4 1840.6,264.3 1832.9,261.2 1825.2,258.3 1817.5,255.4 1809.7,252.7 1801.9,250.2 1794.0,247.7 1786.1,245.3 1778.1,243.1 1770.1,241.0 1762.1,239.0 1754.1,237.1 1746.0,235.4 1737.9,233.8 1729.8,232.3 1721.6,230.9 1713.4,229.7 1705.2,228.5 1697.0,227.5 1688.8,226.6 1680.5,225.9 1672.3,225.3 1664.0,224.8 1655.8,224.4 1647.5,224.1 1639.2,224.0 1630.9,224.0 1622.6,224.1 1614.4,224.4 1606.1,224.8 1597.8,225.3 1589.6,225.9 1581.3,226.6 1573.1,227.5 1564.9,228.5 1556.7,229.7 1548.5,230.9 1540.4,232.3 1532.2,233.8 1524.1,235.4 1516.1,237.1 1508.0,239.0 1500.0,241.0 1492.0,243.1 1484.0,245.3 1476.1,247.7 1468.3,250.2 1460.4,252.7 1452.6,255.4 1444.9,258.3 1437.2,261.2 1429.5,264.3 1421.9,267.4 1414.4,270.7 1406.9,274.1 1399.4,277.7 1392.1,281.3 1384.7,285.0 1377.5,288.9 1370.3,292.8 1363.1,296.9 1356.1,301.1 1349.1,305.4 1342.2,309.8 1335.3,314.3 1328.5,318.8 1321.8,323.5 1315.2,328.3 1308.6,333.2 1302.2,338.2 1295.8,343.3 1289.5,348.5 1283.2,353.8 1277.1,359.2 1271.1,364.7 1265.1,370.2 1259.2,375.9 1253.5,381.6 1247.8,387.5 1242.2,393.4 1236.7,399.4 1231.3,405.5 1226.0,411.6 1220.8,417.9 1215.7,424.2 1210.7,430.6 1205.9,437.1 1201.1,443.6 1196.4,450.2 1191.8,456.9 1187.4,463.7 1183.0,470.5 1178.8,477.4 1174.7,484.3 1170.7,491.3 1166.8,498.4 1163.0,505.5 1159.3,512.7 1155.8,520.0 1152.3,527.3 1149.0,534.6 1145.8,542.0 1142.8,549.4 1139.8,556.9 1137.0,564.5 1134.3,572.0 1131.7,579.6 1129.2,587.3 1126.9,595.0 1124.7,602.7 1122.6,610.5 1120.6,618.2 1118.8,626.1 1117.0,633.9 1115.5,641.8 1114.0,649.7 1112.7,657.6 1111.5,665.5 1110.4,673.4 1109.5,681.4 1108.6,689.4 1108.0,697.4 1107.4,705.4 1107.0,713.4 1106.7,721.4 1106.5,729.4" fill="none" stroke="#36d9de" stroke-width="1.9"/>
</g>
<polyline points="1635.1,735.8 1635.0,732.2 1635.0,728.6 1634.9,725.0 1634.8,721.3 1634.7,717.7 1634.5,714.1 1634.4,710.5 1634.1,706.9 1633.9,703.3 1633.6,699.7 1633.3,696.1 1633.0,692.5 1632.6,688.9 1632.2,685.3 1631.8,681.7 1631.3,678.1 1630.9,674.5 1630.4,670.9 1629.8,667.3 1629.3,663.8 1628.7,660.2 1628.0,656.6 1627.4,653.1 1626.7,649.5 1626.0,646.0 1625.3,642.4 1624.5,638.9 1623.7,635.4 1622.9,631.8 1622.0,628.3 1621.1,624.8 1620.2,621.3 1619.3,617.8 1618.3,614.3 1617.3,610.8 1616.3,607.3 1615.3,603.9 1614.2,600.4 1613.1,596.9 1612.0,593.5 1610.8,590.1 1609.6,586.6 1608.4,583.2 1607.2,579.8 1605.9,576.4 1604.6,573.0 1603.3,569.6 1601.9,566.3 1600.5,562.9 1599.1,559.5 1597.7,556.2 1596.3,552.9 1594.8,549.6 1593.3,546.3 1591.7,543.0 1590.2,539.7 1588.6,536.4 1586.9,533.1 1585.3,529.9 1583.6,526.7 1581.9,523.4 1580.2,520.2 1578.5,517.0 1576.7,513.9 1574.9,510.7 1573.1,507.5 1571.2,504.4 1569.3,501.3 1567.4,498.2 1565.5,495.1 1563.6,492.0 1561.6,488.9 1559.6,485.8 1557.6,482.8 1555.5,479.8 1553.4,476.8 1551.3,473.8 1549.2,470.8 1547.1,467.8 1544.9,464.9 1542.7,462.0 1540.5,459.1 1538.3,456.2 1536.0,453.3 1533.7,450.4 1531.4,447.6 1529.1,444.8 1526.7,442.0 1524.4,439.2 1522.0,436.4 1519.5,433.6 1517.1,430.9 1514.6,428.2 1512.1,425.5 1509.6,422.8 1507.1,420.2 1504.6,417.5 1502.0,414.9 1499.4,412.3 1496.8,409.7 1494.1,407.1 1491.5,404.6 1488.8,402.1 1486.1,399.6 1483.4,397.1 1480.7,394.6 1477.9,392.2 1475.1,389.8 1472.3,387.4 1469.5,385.0 1466.7,382.6 1463.8,380.3 1461.0,378.0 1458.1,375.7 1455.2,373.4 1452.2,371.2 1449.3,369.0 1446.3,366.8 1443.4,364.6" fill="none" stroke="#333" stroke-width="1.6"/>
<polyline points="1874.7,735.8 1874.7,730.4 1874.6,725.0 1874.5,719.5 1874.3,714.1 1874.2,708.7 1873.9,703.3 1873.6,697.9 1873.3,692.4 1872.9,687.0 1872.5,681.6 1872.1,676.2 1871.6,670.8 1871.0,665.4 1870.4,660.0 1869.8,654.6 1869.1,649.2 1868.4,643.9 1867.6,638.5 1866.8,633.1 1866.0,627.8 1865.1,622.4 1864.2,617.1 1863.2,611.7 1862.2,606.4 1861.1,601.1 1860.0,595.7 1858.8,590.4 1857.7,585.1 1856.4,579.8 1855.1,574.6 1853.8,569.3 1852.5,564.0 1851.1,558.8 1849.6,553.5 1848.1,548.3 1846.6,543.1 1845.0,537.9 1843.4,532.7 1841.8,527.5 1840.1,522.3 1838.3,517.2 1836.5,512.0 1834.7,506.9 1832.9,501.8 1830.9,496.7 1829.0,491.6 1827.0,486.5 1825.0,481.5 1822.9,476.4 1820.8,471.4 1818.7,466.4 1816.5,461.4 1814.3,456.4 1812.0,451.5 1809.7,446.5 1807.3,441.6 1804.9,436.7 1802.5,431.8 1800.0,426.9 1797.5,422.1 1795.0,417.3 1792.4,412.4 1789.8,407.7 1787.1,402.9 1784.4,398.1 1781.7,393.4 1778.9,388.7 1776.1,384.0 1773.3,379.3 1770.4,374.7 1767.4,370.1 1764.5,365.4 1761.5,360.9 1758.5,356.3 1755.4,351.8 1752.3,347.3 1749.1,342.8 1745.9,338.3 1742.7,333.9 1739.5,329.5 1736.2,325.1 1732.9,320.7 1729.5,316.4 1726.1,312.0 1722.7,307.7 1719.2,303.5 1715.7,299.2 1712.2,295.0 1708.6,290.9 1705.0,286.7 1701.4,282.6 1697.7,278.5 1694.0,274.4 1690.3,270.3 1686.5,266.3 1682.8,262.3 1678.9,258.4 1675.1,254.4 1671.2,250.5 1667.3,246.7 1663.3,242.8 1659.3,239.0 1655.3,235.2 1651.3,231.5 1647.2,227.7 1643.1,224.1 1639.0,220.4 1634.8,216.8 1630.6,213.2 1626.4,209.6 1622.1,206.1 1617.9,202.6 1613.5,199.1 1609.2,195.7 1604.9,192.2 1600.5,188.9 1596.0,185.5 1591.6,182.2 1587.1,179.0" fill="none" stroke="#444" stroke-width="1.6"/>
<line x1="1155.8" y1="735.8" x2="1587.1" y2="179.0" stroke="#111" stroke-width="2"/>
<line x1="1154.8" y1="735.8" x2="1874.7" y2="735.8" stroke="#000" stroke-width="2.8"/>
<line x1="1155.8" y1="735.8" x2="1155.8" y2="753.8" stroke="#222" stroke-width="2.0"/>
<line x1="1332.0" y1="735.8" x2="1332.0" y2="753.8" stroke="#666" stroke-width="2.6"/>
<line x1="1508.2" y1="735.8" x2="1508.2" y2="753.8" stroke="#666" stroke-width="2.6"/>
<line x1="1684.4" y1="735.8" x2="1684.4" y2="753.8" stroke="#666" stroke-width="2.6"/>
<line x1="1860.6" y1="735.8" x2="1860.6" y2="753.8" stroke="#222" stroke-width="2.0"/>
<line x1="1155.8" y1="735.8" x2="1140.8" y2="724.2" stroke="#333" stroke-width="1.6"/>
<line x1="1261.5" y1="599.3" x2="1246.5" y2="587.7" stroke="#333" stroke-width="1.6"/>
<line x1="1367.2" y1="462.8" x2="1352.2" y2="451.2" stroke="#333" stroke-width="1.6"/>
<line x1="1473.0" y1="326.4" x2="1457.9" y2="314.7" stroke="#333" stroke-width="1.6"/>
<line x1="1578.7" y1="189.9" x2="1563.7" y2="178.2" stroke="#333" stroke-width="1.6"/>
<line x1="1623.1" y1="206.8" x2="1615.1" y2="215.9" stroke="#333" stroke-width="1.5"/>
<line x1="1659.0" y1="238.7" x2="1646.1" y2="251.5" stroke="#333" stroke-width="1.5"/>
<line x1="1695.0" y1="275.4" x2="1685.7" y2="283.3" stroke="#333" stroke-width="1.5"/>
<line x1="1730.9" y1="318.2" x2="1716.1" y2="328.9" stroke="#333" stroke-width="1.5"/>
<line x1="1766.9" y1="369.1" x2="1756.4" y2="375.4" stroke="#333" stroke-width="1.5"/>
<line x1="1802.8" y1="432.4" x2="1786.2" y2="440.2" stroke="#333" stroke-width="1.5"/>
<line x1="1810.0" y1="447.2" x2="1803.2" y2="450.2" stroke="#333" stroke-width="1.5"/>
<line x1="1817.2" y1="463.0" x2="1810.3" y2="465.8" stroke="#333" stroke-width="1.5"/>
<line x1="1824.4" y1="480.0" x2="1817.4" y2="482.6" stroke="#333" stroke-width="1.5"/>
<line x1="1831.6" y1="498.3" x2="1824.5" y2="500.8" stroke="#333" stroke-width="1.5"/>
<line x1="1838.8" y1="518.5" x2="1821.2" y2="524.1" stroke="#333" stroke-width="1.5"/>
<line x1="1845.9" y1="540.9" x2="1838.8" y2="542.9" stroke="#333" stroke-width="1.5"/>
<line x1="1853.1" y1="566.6" x2="1845.9" y2="568.3" stroke="#333" stroke-width="1.5"/>
<line x1="1860.3" y1="597.3" x2="1853.0" y2="598.7" stroke="#333" stroke-width="1.5"/>
<line x1="1867.5" y1="637.6" x2="1849.2" y2="640.1" stroke="#333" stroke-width="1.5"/>
<text x="1155.8" y="799.0" font-size="31.0" text-anchor="middle" fill="#222" font-family="'Liberation Sans', sans-serif">0</text>
<text x="1332.0" y="799.0" font-size="31.0" text-anchor="middle" fill="#222" font-family="'Liberation Sans', sans-serif">2</text>
<text x="1508.2" y="799.0" font-size="31.0" text-anchor="middle" fill="#222" font-family="'Liberation Sans', sans-serif">4</text>
<text x="1684.4" y="799.0" font-size="31.0" text-anchor="middle" fill="#222" font-family="'Liberation Sans', sans-serif">6</text>
<text x="1860.6" y="799.0" font-size="31.0" text-anchor="middle" fill="#222" font-family="'Liberation Sans', sans-serif">8</text>
<text x="1663.7" y="225.0" font-size="31.0" text-anchor="start" fill="#222" font-family="'Liberation Sans', sans-serif" textLength="40.3" lengthAdjust="spacingAndGlyphs">0.7</text>
<text x="1739.4" y="308.0" font-size="31.0" text-anchor="start" fill="#222" font-family="'Liberation Sans', sans-serif" textLength="40.4" lengthAdjust="spacingAndGlyphs">0.8</text>
<text x="1814.3" y="430.6" font-size="31.0" text-anchor="start" fill="#222" font-family="'Liberation Sans', sans-serif" textLength="41.9" lengthAdjust="spacingAndGlyphs">0.9</text>
<text x="1844.3" y="519.8" font-size="31.0" text-anchor="start" fill="#222" font-family="'Liberation Sans', sans-serif" textLength="56.9" lengthAdjust="spacingAndGlyphs">0.95</text>
<text x="1875.5" y="645.9" font-size="31.0" text-anchor="start" fill="#222" font-family="'Liberation Sans', sans-serif" textLength="55.6" lengthAdjust="spacingAndGlyphs">0.99</text>
<rect x="1550.9" y="303.0" width="20" height="24" fill="#fff"/>
<text x="1560.9" y="325.8" font-size="30.0" text-anchor="middle" fill="#222" font-family="'Liberation Sans', sans-serif">5</text>
<rect x="1653.0" y="555.8" width="20" height="24" fill="#fff"/>
<text x="1663.0" y="578.6" font-size="30.0" text-anchor="middle" fill="#222" font-family="'Liberation Sans', sans-serif">2</text>
<rect x="1645.0" y="640.6" width="20" height="24" fill="#fff"/>
<text x="1655.0" y="663.4" font-size="30.0" text-anchor="middle" fill="#222" font-family="'Liberation Sans', sans-serif">1</text>
<text transform="translate(1112.9,706.0) rotate(-56.2)" x="0" y="10.6" font-size="30" text-anchor="middle" fill="#333" font-family="'Liberation Sans', sans-serif">0</text>
<text transform="translate(1220.0,569.0) rotate(-56.2)" x="0" y="10.6" font-size="30" text-anchor="middle" fill="#333" font-family="'Liberation Sans', sans-serif">2</text>
<text transform="translate(1327.2,432.0) rotate(-56.2)" x="0" y="10.6" font-size="30" text-anchor="middle" fill="#333" font-family="'Liberation Sans', sans-serif">4</text>
<text transform="translate(1431.6,295.6) rotate(-56.2)" x="0" y="10.6" font-size="30" text-anchor="middle" fill="#333" font-family="'Liberation Sans', sans-serif">6</text>
<text transform="translate(1538.5,160.0) rotate(-56.2)" x="0" y="10.6" font-size="30" text-anchor="middle" fill="#333" font-family="'Liberation Sans', sans-serif">8</text>
<text transform="translate(1238,461.5) rotate(-52.2)" x="0" y="0" font-size="32.5" textLength="266" lengthAdjust="spacingAndGlyphs" font-family="'Liberation Serif', serif" font-style="italic">Standard Deviation</text>
<text transform="translate(1858.5,296.0) rotate(63.5)" x="0" y="0" font-size="33" textLength="156" lengthAdjust="spacingAndGlyphs" font-family="'Liberation Serif', serif" font-style="italic">Correlation</text>
<text transform="translate(1708,583) rotate(45)" x="0" y="0" font-size="30" textLength="100" lengthAdjust="spacingAndGlyphs" font-family="'Liberation Serif', serif" font-style="italic">RMSE</text>
<text x="1410.0" y="845.2" font-size="36.5" text-anchor="start" fill="#000" font-family="'Liberation Serif', serif" font-style="italic" stroke="#000" stroke-width="0.4" textLength="265.0" lengthAdjust="spacingAndGlyphs">Standard Deviation</text>
<circle cx="1277.5" cy="286" r="0.9" fill="#888"/>
<circle cx="1710" cy="171.5" r="0.9" fill="#888"/>
<rect x="1473.1" y="629.4" width="38.0" height="38.0" fill="#0138f9"/>
<rect x="1591.7" y="616.5" width="38.0" height="38.0" fill="#ff9a29"/>
<rect x="1607.4" y="649.8" width="38.0" height="38.0" fill="#000000"/>
<rect x="1581.9" y="627.6" width="37.0" height="37.0" fill="#b4b4b4"/>
<rect x="1616.5" y="717.5" width="38.0" height="38.0" fill="#fd2719"/>
<rect x="1547" y="350.2" width="212" height="185" fill="#fff" stroke="#000" stroke-width="2.6" stroke-dasharray="3.0 4.55"/>
<rect x="1566.6" y="359.6" width="19.4" height="22.1" fill="#3aa53f"/>
<rect x="1566.6" y="393.8" width="19.4" height="21.8" fill="#6fdc80"/>
<rect x="1566.6" y="422.9" width="19.4" height="22.3" fill="#2f66c6"/>
<rect x="1566.6" y="453.9" width="19.4" height="20.7" fill="#000"/>
<rect x="1566.6" y="486.7" width="19.4" height="21.8" fill="#cbcbcb"/>
<text x="1601.2" y="379.0" font-size="26.5" text-anchor="start" fill="#000" font-family="'Liberation Serif', serif" font-style="italic" stroke="#000" stroke-width="0.35" textLength="68.6" lengthAdjust="spacingAndGlyphs">Actual</text>
<text x="1601.2" y="414.0" font-size="26.5" text-anchor="start" fill="#000" font-family="'Liberation Serif', serif" font-style="italic" stroke="#000" stroke-width="0.35" textLength="52.5" lengthAdjust="spacingAndGlyphs">CNN</text>
<text x="1601.2" y="443.6" font-size="26.5" text-anchor="start" fill="#000" font-family="'Liberation Serif', serif" font-style="italic" stroke="#000" stroke-width="0.35" textLength="64.6" lengthAdjust="spacingAndGlyphs">LSTM</text>
<text x="1601.2" y="472.2" font-size="26.5" text-anchor="start" fill="#000" font-family="'Liberation Serif', serif" font-style="italic" stroke="#000" stroke-width="0.35" textLength="144.0" lengthAdjust="spacingAndGlyphs">EEMD+CNN</text>
<text x="1601.2" y="506.4" font-size="26.5" text-anchor="start" fill="#000" font-family="'Liberation Serif', serif" font-style="italic" stroke="#000" stroke-width="0.35" textLength="156.2" lengthAdjust="spacingAndGlyphs">EEMD+LSTM</text>
</svg>
</body>
</html>
